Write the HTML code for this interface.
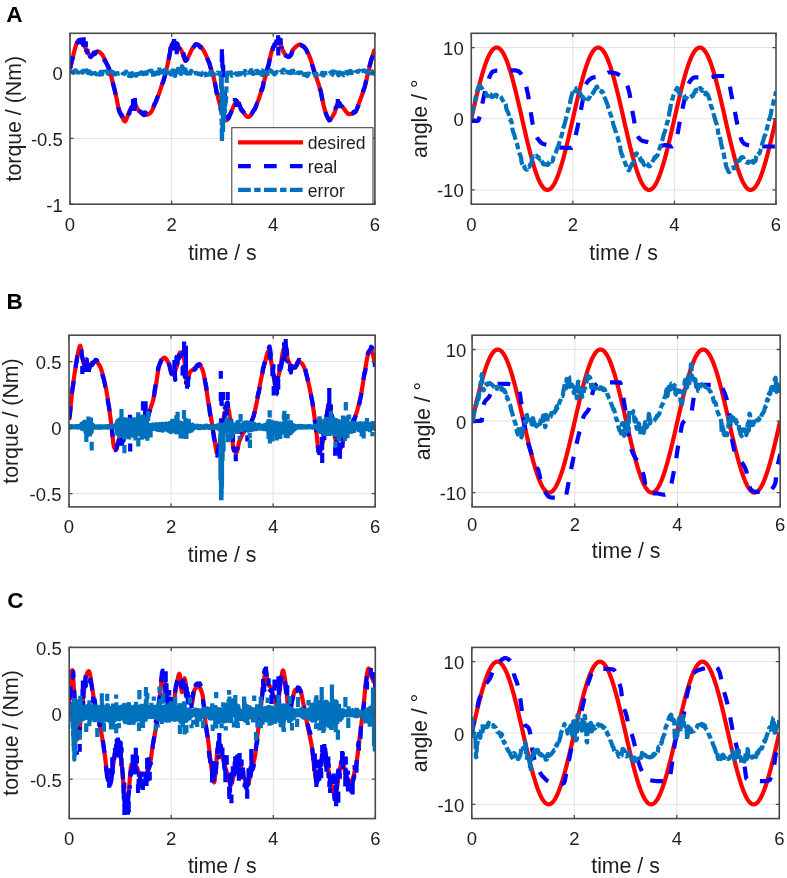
<!DOCTYPE html><html><head><meta charset="utf-8"><style>html,body{margin:0;padding:0;background:#fff;}svg{display:block;filter:blur(0.45px);}text{font-family:"Liberation Sans",sans-serif;fill:#1e1e1e;}</style></head><body>
<svg width="787" height="878" viewBox="0 0 787 878">
<rect width="787" height="878" fill="#fff"/>
<defs>
<clipPath id="cAl"><rect x="70.00" y="33.30" width="304.90" height="170.90"/></clipPath>
<clipPath id="cAr"><rect x="471.30" y="33.30" width="304.70" height="170.90"/></clipPath>
<clipPath id="cBl"><rect x="69.00" y="335.20" width="306.20" height="171.70"/></clipPath>
<clipPath id="cBr"><rect x="472.10" y="335.20" width="308.10" height="171.70"/></clipPath>
<clipPath id="cCl"><rect x="69.20" y="647.40" width="306.10" height="171.20"/></clipPath>
<clipPath id="cCr"><rect x="471.80" y="647.40" width="307.50" height="171.20"/></clipPath>
</defs>
<g stroke="#e2e2e2" stroke-width="1"><line x1="171.63" y1="33.30" x2="171.63" y2="204.20"/><line x1="273.27" y1="33.30" x2="273.27" y2="204.20"/><line x1="70.00" y1="138.47" x2="374.90" y2="138.47"/><line x1="70.00" y1="72.74" x2="374.90" y2="72.74"/></g>
<g clip-path="url(#cAl)" fill="none" stroke-width="4.2" stroke-linejoin="round">
<path d="M70.00,68.79 L70.51,66.73 L71.02,64.68 L71.52,62.63 L72.03,60.58 L72.54,58.54 L73.05,56.46 L73.56,54.35 L74.07,52.26 L74.57,50.26 L75.08,48.42 L75.59,46.62 L76.10,44.85 L76.61,43.32 L77.11,42.24 L77.62,41.47 L78.13,40.80 L78.64,40.32 L79.15,40.14 L79.66,40.26 L80.16,40.60 L80.67,41.10 L81.18,41.70 L81.69,42.35 L82.20,42.99 L82.70,43.59 L83.21,44.21 L83.72,44.89 L84.23,45.63 L84.74,46.45 L85.25,47.44 L85.75,48.63 L86.26,49.88 L86.77,51.08 L87.28,52.10 L87.79,52.85 L88.29,53.56 L88.80,54.26 L89.31,54.88 L89.82,55.41 L90.33,55.80 L90.83,56.01 L91.34,56.01 L91.85,55.74 L92.36,55.27 L92.87,54.67 L93.38,54.03 L93.88,53.40 L94.39,52.86 L94.90,52.49 L95.41,52.23 L95.92,51.97 L96.42,51.74 L96.93,51.56 L97.44,51.46 L97.95,51.45 L98.46,51.56 L98.97,51.78 L99.47,52.09 L99.98,52.47 L100.49,52.92 L101.00,53.41 L101.51,53.93 L102.01,54.47 L102.52,55.12 L103.03,55.98 L103.54,57.00 L104.05,58.12 L104.56,59.31 L105.06,60.51 L105.57,61.67 L106.08,62.75 L106.59,63.72 L107.10,64.63 L107.60,65.54 L108.11,66.50 L108.62,67.57 L109.13,68.79 L109.64,70.33 L110.15,72.18 L110.65,74.17 L111.16,76.16 L111.67,78.11 L112.18,80.12 L112.69,82.16 L113.19,84.22 L113.70,86.28 L114.21,88.31 L114.72,90.33 L115.23,92.38 L115.73,94.47 L116.24,96.66 L116.75,99.12 L117.26,101.82 L117.77,104.52 L118.28,106.96 L118.78,108.89 L119.29,110.36 L119.80,111.62 L120.31,112.73 L120.82,113.77 L121.32,114.81 L121.83,115.94 L122.34,117.18 L122.85,118.43 L123.36,119.57 L123.87,120.51 L124.37,121.14 L124.88,121.38 L125.39,121.10 L125.90,120.35 L126.41,119.25 L126.91,117.94 L127.42,116.54 L127.93,115.19 L128.44,114.02 L128.95,112.92 L129.46,111.73 L129.96,110.53 L130.47,109.38 L130.98,108.33 L131.49,107.44 L132.00,106.79 L132.50,106.27 L133.01,105.77 L133.52,105.34 L134.03,105.02 L134.54,104.84 L135.05,104.87 L135.55,105.27 L136.06,105.99 L136.57,106.91 L137.08,107.94 L137.59,108.98 L138.09,109.94 L138.60,110.71 L139.11,111.24 L139.62,111.70 L140.13,112.14 L140.64,112.54 L141.14,112.92 L141.65,113.25 L142.16,113.55 L142.67,113.81 L143.18,114.02 L143.68,114.21 L144.19,114.39 L144.70,114.55 L145.21,114.68 L145.72,114.77 L146.22,114.81 L146.73,114.77 L147.24,114.66 L147.75,114.48 L148.26,114.25 L148.77,113.98 L149.27,113.67 L149.78,113.33 L150.29,112.97 L150.80,112.48 L151.31,111.79 L151.81,110.93 L152.32,109.92 L152.83,108.80 L153.34,107.60 L153.85,106.37 L154.36,105.12 L154.86,103.89 L155.37,102.71 L155.88,101.56 L156.39,100.37 L156.90,99.14 L157.40,97.88 L157.91,96.58 L158.42,95.24 L158.93,93.86 L159.44,92.42 L159.95,90.91 L160.45,89.37 L160.96,87.82 L161.47,86.28 L161.98,84.77 L162.49,83.29 L162.99,81.80 L163.50,80.29 L164.01,78.71 L164.52,77.04 L165.03,75.24 L165.54,73.32 L166.04,71.28 L166.55,69.13 L167.06,66.91 L167.57,64.59 L168.08,62.08 L168.58,59.46 L169.09,56.88 L169.60,54.37 L170.11,51.57 L170.62,48.82 L171.13,46.57 L171.63,45.26 L172.14,44.62 L172.65,44.08 L173.16,43.66 L173.67,43.39 L174.17,43.29 L174.68,43.37 L175.19,43.57 L175.70,43.89 L176.21,44.30 L176.72,44.76 L177.22,45.27 L177.73,45.80 L178.24,46.31 L178.75,46.86 L179.26,47.48 L179.76,48.16 L180.27,48.91 L180.78,49.73 L181.29,50.60 L181.80,51.52 L182.30,52.49 L182.81,53.79 L183.32,55.49 L183.83,57.32 L184.34,58.97 L184.85,60.18 L185.35,60.64 L185.86,60.45 L186.37,59.95 L186.88,59.21 L187.39,58.34 L187.89,57.43 L188.40,56.57 L188.91,55.67 L189.42,54.64 L189.93,53.52 L190.44,52.37 L190.94,51.23 L191.45,50.15 L191.96,49.20 L192.47,48.42 L192.98,47.72 L193.48,47.02 L193.99,46.33 L194.50,45.70 L195.01,45.15 L195.52,44.72 L196.03,44.44 L196.53,44.34 L197.04,44.39 L197.55,44.53 L198.06,44.73 L198.57,45.00 L199.07,45.32 L199.58,45.68 L200.09,46.06 L200.60,46.45 L201.11,46.90 L201.62,47.48 L202.12,48.16 L202.63,48.93 L203.14,49.76 L203.65,50.65 L204.16,51.56 L204.66,52.49 L205.17,53.47 L205.68,54.54 L206.19,55.68 L206.70,56.89 L207.20,58.15 L207.71,59.46 L208.22,60.80 L208.73,62.16 L209.24,63.54 L209.75,64.95 L210.25,66.43 L210.76,67.97 L211.27,69.54 L211.78,71.14 L212.29,72.75 L212.79,74.37 L213.30,76.16 L213.81,78.24 L214.32,80.57 L214.83,83.05 L215.34,85.57 L215.84,88.04 L216.35,90.35 L216.86,92.54 L217.37,94.69 L217.88,96.78 L218.38,98.83 L218.89,100.81 L219.40,102.71 L219.91,104.60 L220.42,106.50 L220.93,108.34 L221.43,110.07 L221.94,111.63 L222.45,112.97 L222.96,114.20 L223.47,115.45 L223.97,116.66 L224.48,117.78 L224.99,118.75 L225.50,119.52 L226.01,120.02 L226.52,120.20 L227.02,119.98 L227.53,119.41 L228.04,118.54 L228.55,117.48 L229.06,116.31 L229.56,115.11 L230.07,113.97 L230.58,112.97 L231.09,111.99 L231.60,110.91 L232.11,109.76 L232.61,108.56 L233.12,107.36 L233.63,106.19 L234.14,105.07 L234.65,104.06 L235.15,103.18 L235.66,102.47 L236.17,101.97 L236.68,101.70 L237.19,101.71 L237.69,102.10 L238.20,102.80 L238.71,103.73 L239.22,104.81 L239.73,105.94 L240.24,107.06 L240.74,108.07 L241.25,108.89 L241.76,109.61 L242.27,110.37 L242.78,111.15 L243.28,111.94 L243.79,112.72 L244.30,113.47 L244.81,114.19 L245.32,114.86 L245.83,115.47 L246.33,116.00 L246.84,116.43 L247.35,116.76 L247.86,116.97 L248.37,117.04 L248.87,116.94 L249.38,116.66 L249.89,116.23 L250.40,115.67 L250.91,115.00 L251.42,114.26 L251.92,113.46 L252.43,112.63 L252.94,111.80 L253.45,110.99 L253.96,110.16 L254.46,109.24 L254.97,108.25 L255.48,107.19 L255.99,106.06 L256.50,104.87 L257.01,103.63 L257.51,102.35 L258.02,101.04 L258.53,99.69 L259.04,98.26 L259.55,96.70 L260.05,95.05 L260.56,93.33 L261.07,91.57 L261.58,89.79 L262.09,88.02 L262.60,86.28 L263.10,84.58 L263.61,82.88 L264.12,81.18 L264.63,79.46 L265.14,77.71 L265.64,75.91 L266.15,74.05 L266.66,72.11 L267.17,70.08 L267.68,67.99 L268.19,65.88 L268.69,63.77 L269.20,61.70 L269.71,59.52 L270.22,57.19 L270.73,54.86 L271.23,52.70 L271.74,50.85 L272.25,49.47 L272.76,48.44 L273.27,47.52 L273.77,46.71 L274.28,46.00 L274.79,45.37 L275.30,44.82 L275.81,44.34 L276.32,43.89 L276.82,43.44 L277.33,43.02 L277.84,42.67 L278.35,42.40 L278.86,42.26 L279.36,42.31 L279.87,42.84 L280.38,43.79 L280.89,45.04 L281.40,46.48 L281.91,47.98 L282.41,49.43 L282.92,50.71 L283.43,51.70 L283.94,52.54 L284.45,53.37 L284.95,54.15 L285.46,54.83 L285.97,55.35 L286.48,55.65 L286.99,55.82 L287.50,55.96 L288.00,56.07 L288.51,56.15 L289.02,56.17 L289.53,55.98 L290.04,55.43 L290.54,54.63 L291.05,53.65 L291.56,52.57 L292.07,51.48 L292.58,50.46 L293.09,49.58 L293.59,48.94 L294.10,48.45 L294.61,47.95 L295.12,47.46 L295.63,46.98 L296.13,46.53 L296.64,46.10 L297.15,45.71 L297.66,45.37 L298.17,45.09 L298.67,44.86 L299.18,44.70 L299.69,44.62 L300.20,44.62 L300.71,44.71 L301.22,44.89 L301.72,45.15 L302.23,45.46 L302.74,45.83 L303.25,46.24 L303.76,46.69 L304.26,47.15 L304.77,47.63 L305.28,48.18 L305.79,48.86 L306.30,49.66 L306.81,50.57 L307.31,51.56 L307.82,52.63 L308.33,53.76 L308.84,54.94 L309.35,56.14 L309.85,57.36 L310.36,58.67 L310.87,60.15 L311.38,61.75 L311.89,63.41 L312.40,65.11 L312.90,66.79 L313.41,68.40 L313.92,69.96 L314.43,71.51 L314.94,73.06 L315.44,74.61 L315.95,76.16 L316.46,77.73 L316.97,79.31 L317.48,80.87 L317.99,82.40 L318.49,83.91 L319.00,85.46 L319.51,87.06 L320.02,88.75 L320.53,90.57 L321.03,92.58 L321.54,94.95 L322.05,97.57 L322.56,100.26 L323.07,102.87 L323.58,105.23 L324.08,107.23 L324.59,109.13 L325.10,110.93 L325.61,112.61 L326.12,114.12 L326.62,115.42 L327.13,116.54 L327.64,117.66 L328.15,118.66 L328.66,119.39 L329.17,119.67 L329.67,119.58 L330.18,119.31 L330.69,118.89 L331.20,118.34 L331.71,117.67 L332.21,116.93 L332.72,116.11 L333.23,115.25 L333.74,114.37 L334.25,113.49 L334.75,112.31 L335.26,110.67 L335.77,108.81 L336.28,106.95 L336.79,105.33 L337.30,104.20 L337.80,103.76 L338.31,103.83 L338.82,104.01 L339.33,104.28 L339.84,104.64 L340.34,105.05 L340.85,105.51 L341.36,106.00 L341.87,106.50 L342.38,106.98 L342.89,107.44 L343.39,107.95 L343.90,108.55 L344.41,109.24 L344.92,109.97 L345.43,110.72 L345.93,111.46 L346.44,112.16 L346.95,112.80 L347.46,113.35 L347.97,113.77 L348.48,114.05 L348.98,114.15 L349.49,114.13 L350.00,114.09 L350.51,114.02 L351.02,113.92 L351.52,113.80 L352.03,113.65 L352.54,113.48 L353.05,113.29 L353.56,113.07 L354.07,112.84 L354.57,112.58 L355.08,112.31 L355.59,111.84 L356.10,111.03 L356.61,109.96 L357.11,108.67 L357.62,107.23 L358.13,105.71 L358.64,104.17 L359.15,102.67 L359.65,101.27 L360.16,99.94 L360.67,98.60 L361.18,97.25 L361.69,95.88 L362.20,94.48 L362.70,93.04 L363.21,91.55 L363.72,89.99 L364.23,88.37 L364.74,86.67 L365.24,84.83 L365.75,82.80 L366.26,80.66 L366.77,78.45 L367.28,76.22 L367.79,74.04 L368.29,71.95 L368.80,69.92 L369.31,67.88 L369.82,65.85 L370.33,63.86 L370.83,61.91 L371.34,60.02 L371.85,58.22 L372.36,56.51 L372.87,54.87 L373.38,53.30 L373.88,51.78 L374.39,50.33 L374.90,48.94" stroke="#ff0000"/>
<path d="M70.00,68.79 L70.51,66.73 L71.02,64.68 L71.52,62.31 L72.03,60.27 L72.54,58.23 L73.05,56.75 L73.56,54.64 L74.07,52.55 L74.57,51.20 L75.08,49.35 L75.59,47.56 L76.10,45.33 L76.61,43.80 L77.11,42.72 L77.62,42.51 L78.13,41.84 L78.64,41.36 L79.15,40.07 L79.66,40.20 L80.16,40.54 L80.67,39.69 L81.18,40.29 L81.69,40.94 L82.20,43.51 L82.70,44.10 L83.21,44.73 L83.72,45.54 L84.23,46.29 L84.74,47.10 L85.25,46.92 L85.75,48.11 L86.26,49.37 L86.77,50.71 L87.28,51.72 L87.79,52.47 L88.29,53.45 L88.80,54.15 L89.31,54.77 L89.82,56.39 L90.33,56.78 L90.83,56.99 L91.34,56.04 L91.85,55.77 L92.36,55.30 L92.87,53.94 L93.38,53.30 L93.88,52.67 L94.39,54.28 L94.90,53.91 L95.41,53.64 L95.92,52.45 L96.42,52.22 L96.93,52.05 L97.44,53.46 L97.95,53.45 L98.46,53.56 L98.97,53.13 L99.47,53.44 L99.98,53.83 L100.49,54.86 L101.00,55.35 L101.51,55.87 L102.01,54.71 L102.52,55.37 L103.03,56.23 L103.54,58.33 L104.05,59.45 L104.56,60.64 L105.06,60.22 L105.57,61.38 L106.08,62.46 L106.59,63.55 L107.10,64.47 L107.60,65.38 L108.11,66.70 L108.62,67.76 L109.13,68.99 L109.64,72.98 L110.15,74.82 L110.65,76.82 L111.16,76.72 L111.67,78.68 L112.18,80.69 L112.69,82.21 L113.19,84.27 L113.70,86.33 L114.21,88.19 L114.72,90.21 L115.23,92.26 L115.73,96.08 L116.24,98.27 L116.75,100.73 L117.26,102.32 L117.77,105.02 L118.28,107.46 L118.78,109.92 L119.29,111.39 L119.80,112.64 L120.31,113.58 L120.82,114.62 L121.32,115.66 L121.83,114.83 L122.34,116.07 L122.85,117.31 L123.36,120.42 L123.87,121.36 L124.37,121.99 L124.88,121.41 L125.39,121.13 L125.90,120.38 L126.41,118.32 L126.91,117.01 L127.42,115.61 L127.93,115.80 L128.44,114.63 L128.95,113.53 L129.46,111.85 L129.96,110.65 L130.47,109.50 L130.98,108.21 L131.49,107.33 L132.00,106.67 L132.50,106.20 L133.01,105.70 L133.52,105.28 L134.03,106.31 L134.54,106.13 L135.05,106.16 L135.55,105.19 L136.06,105.91 L136.57,106.83 L137.08,106.51 L137.59,107.55 L138.09,108.51 L138.60,112.34 L139.11,112.86 L139.62,113.33 L140.13,111.23 L140.64,111.64 L141.14,112.01 L141.65,113.13 L142.16,113.43 L142.67,113.68 L143.18,114.69 L143.68,114.88 L144.19,115.06 L144.70,112.45 L145.21,112.58 L145.72,112.67 L146.22,114.00 L146.73,113.97 L147.24,113.85 L147.75,115.74 L148.26,115.51 L148.77,115.24 L149.27,113.59 L149.78,113.25 L150.29,112.89 L150.80,111.88 L151.31,111.19 L151.81,110.32 L152.32,110.12 L152.83,109.00 L153.34,107.80 L153.85,105.65 L154.36,104.40 L154.86,103.17 L155.37,102.78 L155.88,101.63 L156.39,100.44 L156.90,98.44 L157.40,97.18 L157.91,95.88 L158.42,93.73 L158.93,92.35 L159.44,90.90 L159.95,91.62 L160.45,90.08 L160.96,88.53 L161.47,86.07 L161.98,84.56 L162.49,83.08 L162.99,82.29 L163.50,80.77 L164.01,79.19 L164.52,76.90 L165.03,75.11 L165.54,73.18 L166.04,72.52 L166.55,70.38 L167.06,68.31 L167.57,65.35 L168.08,62.91 L168.58,60.38 L169.09,57.22 L169.60,54.73 L170.11,51.96 L170.62,46.93 L171.13,44.56 L171.63,43.14 L172.14,41.91 L172.65,41.37 L173.16,40.95 L173.67,46.52 L174.17,46.42 L174.68,46.50 L175.19,45.45 L175.70,45.77 L176.21,46.18 L176.72,43.23 L177.22,43.74 L177.73,44.27 L178.24,51.03 L178.75,51.57 L179.26,52.19 L179.76,49.26 L180.27,50.01 L180.78,50.82 L181.29,50.83 L181.80,51.75 L182.30,52.71 L182.81,51.15 L183.32,53.01 L183.83,55.00 L184.34,57.80 L184.85,59.09 L185.35,59.65 L185.86,60.88 L186.37,60.33 L186.88,59.56 L187.39,58.73 L187.89,57.82 L188.40,56.96 L188.91,55.94 L189.42,54.90 L189.93,53.78 L190.44,50.76 L190.94,49.62 L191.45,48.55 L191.96,49.65 L192.47,48.87 L192.98,48.17 L193.48,47.34 L193.99,46.65 L194.50,46.02 L195.01,44.78 L195.52,44.35 L196.03,44.07 L196.53,44.47 L197.04,44.52 L197.55,44.65 L198.06,44.94 L198.57,45.21 L199.07,45.53 L199.58,46.85 L200.09,47.23 L200.60,47.62 L201.11,46.91 L201.62,47.49 L202.12,48.17 L202.63,49.40 L203.14,50.23 L203.65,51.11 L204.16,50.34 L204.66,51.27 L205.17,52.25 L205.68,53.85 L206.19,55.00 L206.70,56.20 L207.20,58.18 L207.71,59.49 L208.22,60.83 L208.73,61.46 L209.24,62.83 L209.75,64.25 L210.25,66.79 L210.76,68.32 L211.27,69.90 L211.78,70.04 L212.29,71.64 L212.79,73.26 L213.30,76.16 L213.81,78.24 L214.32,80.57 L214.83,82.43 L215.34,84.96 L215.84,87.43 L216.35,91.71 L216.86,93.90 L217.37,96.04 L217.88,96.42 L218.38,98.46 L218.89,100.44 L219.40,104.49 L219.91,106.38 L220.42,108.27 L220.93,110.48 L221.43,89.21 L221.94,45.41 L222.45,67.27 L222.96,59.30 L223.47,76.33 L223.97,84.74 L224.48,90.46 L224.99,96.04 L225.50,100.94 L226.01,106.70 L226.52,110.82 L227.02,112.37 L227.53,117.04 L228.04,116.18 L228.55,118.36 L229.06,117.19 L229.56,115.99 L230.07,114.62 L230.58,113.62 L231.09,112.65 L231.60,110.70 L232.11,109.54 L232.61,108.35 L233.12,106.84 L233.63,105.67 L234.14,104.56 L234.65,104.25 L235.15,103.37 L235.66,102.66 L236.17,102.18 L236.68,101.91 L237.19,101.93 L237.69,101.36 L238.20,102.07 L238.71,102.99 L239.22,104.26 L239.73,105.40 L240.24,106.51 L240.74,109.15 L241.25,109.98 L241.76,110.70 L242.27,110.46 L242.78,111.24 L243.28,112.02 L243.79,112.68 L244.30,113.44 L244.81,114.16 L245.32,115.97 L245.83,116.58 L246.33,117.11 L246.84,116.16 L247.35,116.49 L247.86,116.70 L248.37,117.94 L248.87,117.84 L249.38,117.57 L249.89,115.21 L250.40,114.65 L250.91,113.98 L251.42,114.05 L251.92,113.26 L252.43,112.43 L252.94,111.71 L253.45,110.90 L253.96,110.07 L254.46,109.87 L254.97,108.87 L255.48,107.81 L255.99,106.18 L256.50,104.99 L257.01,103.76 L257.51,104.45 L258.02,103.14 L258.53,101.79 L259.04,99.45 L259.55,97.89 L260.05,96.24 L260.56,92.95 L261.07,91.19 L261.58,89.41 L262.09,90.26 L262.60,88.52 L263.10,86.81 L263.61,81.99 L264.12,80.29 L264.63,78.57 L265.14,79.55 L265.64,77.75 L266.15,75.89 L266.66,71.31 L267.17,69.28 L267.68,67.19 L268.19,66.77 L268.69,64.66 L269.20,62.58 L269.71,58.70 L270.22,56.37 L270.73,54.05 L271.23,52.56 L271.74,50.71 L272.25,49.33 L272.76,50.06 L273.27,49.14 L273.77,48.33 L274.28,44.68 L274.79,44.06 L275.30,43.51 L275.81,42.83 L276.32,42.37 L276.82,41.92 L277.33,43.09 L277.84,42.74 L278.35,42.47 L278.86,42.55 L279.36,42.60 L279.87,43.13 L280.38,43.96 L280.89,45.21 L281.40,46.64 L281.91,49.00 L282.41,50.45 L282.92,51.73 L283.43,50.55 L283.94,51.38 L284.45,52.22 L284.95,54.73 L285.46,55.40 L285.97,55.92 L286.48,55.70 L286.99,55.87 L287.50,56.02 L288.00,56.91 L288.51,56.98 L289.02,57.01 L289.53,56.63 L290.04,56.09 L290.54,55.29 L291.05,54.99 L291.56,53.91 L292.07,52.82 L292.58,49.13 L293.09,48.26 L293.59,47.62 L294.10,48.61 L294.61,48.11 L295.12,47.62 L295.63,45.96 L296.13,45.51 L296.64,45.09 L297.15,45.70 L297.66,45.36 L298.17,45.07 L298.67,45.59 L299.18,45.43 L299.69,45.35 L300.20,44.96 L300.71,45.06 L301.22,45.24 L301.72,45.73 L302.23,46.05 L302.74,46.42 L303.25,46.24 L303.76,46.68 L304.26,47.15 L304.77,48.02 L305.28,48.57 L305.79,49.26 L306.30,49.98 L306.81,50.89 L307.31,51.88 L307.82,54.08 L308.33,55.21 L308.84,56.39 L309.35,56.99 L309.85,58.21 L310.36,59.52 L310.87,58.41 L311.38,60.01 L311.89,61.68 L312.40,65.81 L312.90,67.49 L313.41,69.11 L313.92,71.07 L314.43,72.62 L314.94,74.17 L315.44,74.25 L315.95,75.81 L316.46,77.37 L316.97,77.83 L317.48,79.39 L317.99,80.92 L318.49,85.44 L319.00,86.99 L319.51,88.59 L320.02,88.97 L320.53,90.79 L321.03,92.80 L321.54,95.62 L322.05,98.23 L322.56,100.93 L323.07,104.72 L323.58,107.08 L324.08,109.08 L324.59,108.35 L325.10,110.16 L325.61,111.83 L326.12,114.14 L326.62,115.45 L327.13,116.56 L327.64,117.58 L328.15,118.59 L328.66,119.32 L329.17,120.46 L329.67,120.37 L330.18,120.10 L330.69,118.41 L331.20,117.86 L331.71,117.20 L332.21,117.49 L332.72,116.68 L333.23,115.82 L333.74,114.52 L334.25,113.64 L334.75,112.46 L335.26,111.84 L335.77,109.97 L336.28,108.11 L336.79,106.61 L337.30,105.47 L337.80,105.04 L338.31,102.42 L338.82,102.60 L339.33,102.88 L339.84,105.17 L340.34,105.59 L340.85,106.05 L341.36,105.69 L341.87,106.19 L342.38,106.68 L342.89,107.48 L343.39,107.98 L343.90,108.59 L344.41,109.70 L344.92,110.43 L345.43,111.18 L345.93,111.99 L346.44,112.70 L346.95,113.34 L347.46,112.69 L347.97,113.11 L348.48,113.39 L348.98,114.47 L349.49,114.45 L350.00,114.41 L350.51,114.18 L351.02,114.08 L351.52,113.96 L352.03,113.63 L352.54,113.46 L353.05,113.27 L353.56,111.84 L354.07,111.60 L354.57,111.35 L355.08,111.59 L355.59,111.12 L356.10,110.32 L356.61,109.55 L357.11,108.27 L357.62,106.83 L358.13,106.31 L358.64,104.76 L359.15,103.26 L359.65,102.72 L360.16,101.39 L360.67,100.06 L361.18,96.26 L361.69,94.89 L362.20,93.48 L362.70,92.02 L363.21,90.53 L363.72,88.98 L364.23,88.52 L364.74,86.82 L365.24,84.97 L365.75,82.23 L366.26,80.09 L366.77,77.88 L367.28,75.40 L367.79,73.22 L368.29,71.13 L368.80,69.04 L369.31,67.01 L369.82,64.98 L370.33,62.89 L370.83,60.94 L371.34,59.05 L371.85,58.70 L372.36,56.99 L372.87,55.35 L373.38,51.70 L373.88,50.19 L374.39,48.74 L374.90,50.25" stroke="#0000ff" stroke-dasharray="12.7 13.2"/>
<path d="M83.5,46.8V41.3M78.0,44.3V41.3M85.8,47.1V41.2M87.4,54.3V48.8M86.3,50.0V52.0M134.3,105.0V110.9M134.9,104.0V98.0M134.6,106.8V108.9M129.4,113.1V114.6M135.2,106.9V102.2M183.6,57.0V55.3M175.8,41.7V47.0M174.1,43.3V39.0M176.9,49.3V52.2M179.6,49.3V47.6M172.0,48.7V43.3M175.8,50.4V48.4M172.5,45.3V47.3M234.9,101.4V98.1M239.0,106.8V101.7M237.3,102.1V103.9M281.5,48.8V46.6M279.8,43.3V37.7M276.4,44.2V39.5M273.0,45.7V50.8M278.1,41.9V35.3M280.7,44.6V38.4M339.1,104.1V107.4M335.7,106.3V109.8M340.0,103.7V102.2M83.7,37.2V41.2M133.0,99.0V108.2M173.2,41.2V50.4M176.7,43.8V54.3M236.2,99.0V106.9M278.3,46.4V55.6M337.8,99.0V108.2" stroke="#0000ff" stroke-linejoin="miter"/>
<path d="M70.00,71.09 L70.51,71.05 L71.02,71.54 L71.52,71.51 L72.03,71.97 L72.54,71.94 L73.05,72.82 L73.56,72.79 L74.07,71.54 L74.57,71.52 L75.08,70.40 L75.59,70.39 L76.10,71.88 L76.61,71.88 L77.11,71.68 L77.62,71.69 L78.13,71.69 L78.64,71.70 L79.15,71.33 L79.66,71.35 L80.16,73.39 L80.67,73.42 L81.18,71.84 L81.69,71.88 L82.20,72.65 L82.70,72.70 L83.21,70.69 L83.72,70.74 L84.23,72.75 L84.74,72.80 L85.25,71.27 L85.75,71.33 L86.26,70.27 L86.77,70.33 L87.28,72.57 L87.79,72.63 L88.29,73.04 L88.80,73.10 L89.31,72.23 L89.82,72.29 L90.33,72.59 L90.83,72.65 L91.34,73.88 L91.85,73.94 L92.36,72.28 L92.87,72.34 L93.38,70.55 L93.88,70.60 L94.39,73.34 L94.90,73.39 L95.41,73.36 L95.92,73.40 L96.42,74.43 L96.93,74.47 L97.44,72.88 L97.95,72.91 L98.46,74.79 L98.97,74.81 L99.47,74.66 L99.98,74.67 L100.49,71.86 L101.00,71.87 L101.51,74.46 L102.01,74.46 L102.52,72.11 L103.03,72.11 L103.54,71.58 L104.05,71.58 L104.56,73.07 L105.06,73.06 L105.57,72.70 L106.08,72.69 L106.59,71.03 L107.10,71.02 L107.60,73.55 L108.11,73.54 L108.62,74.00 L109.13,74.00 L109.64,74.89 L110.15,74.89 L110.65,73.23 L111.16,73.23 L111.67,71.53 L112.18,71.53 L112.69,72.15 L113.19,72.16 L113.70,74.41 L114.21,74.42 L114.72,74.33 L115.23,74.35 L115.73,73.95 L116.24,73.97 L116.75,73.05 L117.26,73.07 L117.77,73.69 L118.28,73.71 L118.78,73.24 L119.29,73.27 L119.80,73.21 L120.31,73.24 L120.82,73.97 L121.32,74.00 L121.83,73.73 L122.34,73.76 L122.85,73.50 L123.36,73.53 L123.87,73.91 L124.37,73.93 L124.88,73.27 L125.39,73.29 L125.90,71.70 L126.41,71.72 L126.91,73.25 L127.42,73.26 L127.93,73.91 L128.44,73.92 L128.95,75.98 L129.46,75.99 L129.96,73.53 L130.47,73.52 L130.98,76.28 L131.49,76.26 L132.00,75.61 L132.50,75.59 L133.01,72.88 L133.52,72.86 L134.03,73.00 L134.54,72.96 L135.05,73.93 L135.55,73.89 L136.06,75.69 L136.57,75.64 L137.08,74.00 L137.59,73.94 L138.09,74.25 L138.60,74.19 L139.11,72.57 L139.62,72.51 L140.13,70.52 L140.64,70.46 L141.14,72.81 L141.65,72.74 L142.16,73.85 L142.67,73.79 L143.18,74.18 L143.68,74.12 L144.19,72.73 L144.70,72.67 L145.21,72.75 L145.72,72.70 L146.22,73.79 L146.73,73.74 L147.24,72.19 L147.75,72.14 L148.26,73.59 L148.77,73.55 L149.27,70.83 L149.78,70.80 L150.29,70.83 L150.80,70.80 L151.31,70.75 L151.81,70.72 L152.32,72.55 L152.83,72.53 L153.34,71.35 L153.85,71.34 L154.36,72.10 L154.86,72.10 L155.37,72.40 L155.88,72.41 L156.39,72.35 L156.90,72.36 L157.40,73.50 L157.91,73.51 L158.42,73.69 L158.93,73.70 L159.44,71.07 L159.95,71.08 L160.45,72.26 L160.96,72.27 L161.47,71.80 L161.98,71.81 L162.49,70.90 L162.99,70.91 L163.50,74.15 L164.01,74.16 L164.52,73.04 L165.03,73.05 L165.54,71.92 L166.04,71.92 L166.55,71.66 L167.06,71.62 L167.57,72.63 L168.08,72.66 L168.58,70.50 L169.09,70.39 L169.60,71.71 L170.11,71.67 L170.62,74.37 L171.13,74.46 L171.63,73.95 L172.14,73.93 L172.65,70.25 L173.16,70.23 L173.67,70.92 L174.17,70.90 L174.68,75.84 L175.19,75.81 L175.70,68.96 L176.21,68.93 L176.72,70.48 L177.22,70.46 L177.73,68.86 L178.24,68.84 L178.75,72.46 L179.26,72.44 L179.76,72.24 L180.27,72.22 L180.78,73.96 L181.29,73.95 L181.80,66.24 L182.30,66.48 L182.81,71.92 L183.32,71.91 L183.83,68.84 L184.34,69.00 L184.85,72.63 L185.35,72.59 L185.86,71.45 L186.37,71.49 L186.88,73.71 L187.39,73.75 L187.89,72.27 L188.40,72.31 L188.91,70.74 L189.42,70.79 L189.93,73.49 L190.44,73.54 L190.94,70.85 L191.45,70.91 L191.96,71.84 L192.47,71.91 L192.98,73.61 L193.48,73.67 L193.99,73.10 L194.50,73.17 L195.01,73.19 L195.52,73.25 L196.03,72.84 L196.53,72.90 L197.04,73.54 L197.55,73.61 L198.06,74.02 L198.57,74.08 L199.07,73.52 L199.58,73.57 L200.09,74.48 L200.60,74.53 L201.11,74.89 L201.62,74.93 L202.12,73.50 L202.63,73.54 L203.14,72.48 L203.65,72.51 L204.16,75.39 L204.66,75.41 L205.17,73.62 L205.68,73.63 L206.19,74.42 L206.70,74.43 L207.20,74.82 L207.71,74.82 L208.22,72.66 L208.73,72.66 L209.24,74.27 L209.75,74.27 L210.25,71.87 L210.76,71.86 L211.27,74.54 L211.78,74.53 L212.29,73.13 L212.79,73.12 L213.30,73.82 L213.81,73.81 L214.32,74.41 L214.83,74.40 L215.34,72.79 L215.84,72.78 L216.35,73.64 L216.86,73.63 L217.37,72.72 L217.88,72.71 L218.38,73.47 L218.89,73.46 L219.40,74.68 L219.91,74.68 L220.42,73.51 L220.93,72.74 L221.43,110.14 L221.94,142.14 L222.45,124.97 L222.96,128.97 L223.47,115.56 L223.97,121.31 L224.48,107.21 L224.99,111.64 L225.50,98.78 L226.01,99.79 L226.52,85.09 L227.02,73.84 L227.53,72.74 L228.04,74.87 L228.55,75.75 L229.06,75.77 L229.56,73.72 L230.07,73.75 L230.58,72.39 L231.09,72.41 L231.60,75.54 L232.11,75.55 L232.61,75.05 L233.12,75.06 L233.63,74.66 L234.14,74.67 L234.65,75.13 L235.15,75.13 L235.66,73.34 L236.17,73.33 L236.68,74.73 L237.19,74.71 L237.69,74.59 L238.20,74.57 L238.71,73.01 L239.22,72.98 L239.73,74.53 L240.24,74.49 L240.74,73.05 L241.25,73.01 L241.76,74.62 L242.27,74.57 L242.78,74.81 L243.28,74.75 L243.79,75.43 L244.30,75.37 L244.81,70.94 L245.32,70.87 L245.83,73.39 L246.33,73.32 L246.84,72.59 L247.35,72.52 L247.86,72.78 L248.37,72.71 L248.87,72.41 L249.38,72.35 L249.89,72.41 L250.40,72.34 L250.91,70.08 L251.42,70.02 L251.92,73.45 L252.43,73.39 L252.94,73.95 L253.45,73.90 L253.96,73.20 L254.46,73.16 L254.97,73.49 L255.48,73.46 L255.99,70.96 L256.50,70.93 L257.01,70.81 L257.51,70.79 L258.02,72.87 L258.53,72.86 L259.04,73.35 L259.55,73.34 L260.05,72.11 L260.56,72.11 L261.07,70.04 L261.58,70.04 L262.09,75.03 L262.60,75.04 L263.10,71.09 L263.61,71.11 L264.12,73.02 L264.63,73.04 L265.14,70.55 L265.64,70.57 L266.15,73.10 L266.66,73.12 L267.17,72.20 L267.68,72.23 L268.19,73.69 L268.69,73.71 L269.20,73.11 L269.71,73.13 L270.22,70.35 L270.73,70.37 L271.23,71.05 L271.74,71.07 L272.25,72.53 L272.76,72.54 L273.27,73.10 L273.77,73.11 L274.28,74.32 L274.79,74.33 L275.30,72.55 L275.81,72.55 L276.32,72.12 L276.82,72.11 L277.33,72.17 L277.84,72.16 L278.35,72.16 L278.86,72.14 L279.36,73.35 L279.87,73.33 L280.38,72.07 L280.89,72.05 L281.40,72.00 L281.91,71.98 L282.41,70.39 L282.92,70.38 L283.43,69.68 L283.94,69.66 L284.45,72.02 L284.95,72.01 L285.46,72.74 L285.97,72.73 L286.48,71.89 L286.99,71.89 L287.50,72.53 L288.00,72.53 L288.51,72.69 L289.02,72.70 L289.53,71.90 L290.04,71.91 L290.54,73.09 L291.05,73.11 L291.56,71.18 L292.07,71.21 L292.58,72.08 L293.09,72.11 L293.59,71.73 L294.10,71.77 L294.61,72.33 L295.12,72.38 L295.63,73.07 L296.13,73.13 L296.64,73.44 L297.15,73.50 L297.66,72.72 L298.17,72.78 L298.67,73.22 L299.18,73.28 L299.69,72.42 L300.20,72.49 L300.71,72.84 L301.22,72.91 L301.72,74.58 L302.23,74.65 L302.74,73.03 L303.25,73.09 L303.76,74.82 L304.26,74.89 L304.77,74.09 L305.28,74.15 L305.79,73.82 L306.30,73.87 L306.81,76.03 L307.31,76.08 L307.82,73.56 L308.33,73.60 L308.84,73.56 L309.35,73.60 L309.85,73.99 L310.36,74.01 L310.87,74.35 L311.38,74.37 L311.89,74.32 L312.40,74.33 L312.90,75.05 L313.41,75.05 L313.92,74.22 L314.43,74.21 L314.94,74.54 L315.44,74.53 L315.95,73.75 L316.46,73.74 L316.97,75.25 L317.48,75.23 L317.99,73.51 L318.49,73.48 L319.00,73.57 L319.51,73.54 L320.02,73.85 L320.53,73.83 L321.03,74.15 L321.54,74.13 L322.05,72.93 L322.56,72.90 L323.07,75.50 L323.58,75.47 L324.08,72.94 L324.59,72.92 L325.10,73.15 L325.61,73.14 L326.12,73.07 L326.62,73.06 L327.13,72.93 L327.64,72.92 L328.15,74.14 L328.66,74.13 L329.17,73.66 L329.67,73.66 L330.18,72.60 L330.69,72.60 L331.20,72.85 L331.71,72.86 L332.21,73.13 L332.72,73.14 L333.23,75.19 L333.74,75.20 L334.25,72.78 L334.75,72.79 L335.26,72.06 L335.77,72.07 L336.28,72.28 L336.79,72.29 L337.30,73.22 L337.80,73.23 L338.31,75.36 L338.82,75.36 L339.33,72.41 L339.84,72.42 L340.34,73.71 L340.85,73.71 L341.36,76.53 L341.87,76.52 L342.38,73.07 L342.89,73.06 L343.39,75.25 L343.90,75.24 L344.41,74.98 L344.92,74.96 L345.43,74.15 L345.93,74.11 L346.44,71.82 L346.95,71.78 L347.46,73.68 L347.97,73.64 L348.48,72.83 L348.98,72.78 L349.49,70.98 L350.00,70.92 L350.51,71.05 L351.02,70.99 L351.52,72.93 L352.03,72.87 L352.54,72.97 L353.05,72.90 L353.56,74.04 L354.07,73.97 L354.57,73.24 L355.08,73.17 L355.59,71.78 L356.10,71.71 L356.61,71.68 L357.11,71.62 L357.62,71.90 L358.13,71.84 L358.64,70.74 L359.15,70.69 L359.65,72.73 L360.16,72.68 L360.67,71.79 L361.18,71.75 L361.69,70.78 L362.20,70.75 L362.70,70.89 L363.21,70.86 L363.72,70.27 L364.23,70.25 L364.74,71.03 L365.24,71.02 L365.75,71.85 L366.26,71.85 L366.77,71.06 L367.28,71.06 L367.79,72.69 L368.29,72.70 L368.80,73.47 L369.31,73.49 L369.82,70.88 L370.33,70.90 L370.83,71.68 L371.34,71.71 L371.85,71.31 L372.36,71.33 L372.87,73.74 L373.38,73.77 L373.88,72.23 L374.39,72.26 L374.90,72.57" stroke="#0072bd" stroke-dasharray="12.7 3.4 6.4 3.4"/>
<path d="M153.6,73.2V71.0M303.2,72.9V74.6M255.4,72.6V75.2M165.4,70.8V67.9M261.8,72.6V74.2M208.6,73.9V76.3M332.9,72.4V69.6M159.3,69.6V67.5M301.0,70.8V72.6M263.8,71.8V73.8M295.8,72.3V74.7M185.3,70.4V67.8M291.0,72.4V70.0M283.0,72.9V74.4M188.1,72.1V75.0M78.1,71.3V74.5M363.6,72.8V71.3M287.6,73.8V72.0M132.4,75.0V76.7M292.8,71.7V68.7M155.0,73.0V76.1M213.1,73.8V75.2M332.2,73.4V75.4M206.6,72.7V74.4M157.8,72.4V74.6M163.1,71.3V74.4M93.5,73.5V72.1M136.9,73.7V75.3M152.7,73.4V71.1M122.7,72.6V74.9M89.2,72.4V69.6M212.0,74.4V76.5M135.4,73.8V72.2M295.3,72.8V74.8M351.3,71.9V75.1M153.2,74.0V76.8M221.9,85.9V112.2M223.0,99.0V131.9M224.0,92.5V112.2" stroke="#0072bd" stroke-linejoin="miter"/>
</g>
<path d="M70.00,204.20v-3.50M70.00,33.30v3.50M171.63,204.20v-3.50M171.63,33.30v3.50M273.27,204.20v-3.50M273.27,33.30v3.50M374.90,204.20v-3.50M374.90,33.30v3.50M70.00,204.20h3.50M374.90,204.20h-3.50M70.00,138.47h3.50M374.90,138.47h-3.50M70.00,72.74h3.50M374.90,72.74h-3.50" stroke="#4a4a4a" stroke-width="1.3" fill="none"/>
<rect x="70.00" y="33.30" width="304.90" height="170.90" fill="none" stroke="#4a4a4a" stroke-width="1.6"/>
<text x="62.80" y="211.70" font-size="18.5" text-anchor="end">-1</text>
<text x="62.80" y="145.97" font-size="18.5" text-anchor="end">-0.5</text>
<text x="62.80" y="80.24" font-size="18.5" text-anchor="end">0</text>
<text x="70.00" y="230.60" font-size="18.5" text-anchor="middle">0</text>
<text x="171.63" y="230.60" font-size="18.5" text-anchor="middle">2</text>
<text x="273.27" y="230.60" font-size="18.5" text-anchor="middle">4</text>
<text x="374.90" y="230.60" font-size="18.5" text-anchor="middle">6</text>
<text x="222.45" y="259.50" font-size="21.3" text-anchor="middle">time / s</text>
<text transform="translate(20.60,118.75) rotate(-90)" font-size="21.3" text-anchor="middle">torque / (Nm)</text>
<g stroke="#e2e2e2" stroke-width="1"><line x1="572.87" y1="33.30" x2="572.87" y2="204.20"/><line x1="674.43" y1="33.30" x2="674.43" y2="204.20"/><line x1="471.30" y1="189.96" x2="776.00" y2="189.96"/><line x1="471.30" y1="118.75" x2="776.00" y2="118.75"/><line x1="471.30" y1="47.54" x2="776.00" y2="47.54"/></g>
<g clip-path="url(#cAr)" fill="none" stroke-width="4.2" stroke-linejoin="round">
<path d="M471.30,118.75 L471.81,116.51 L472.32,114.28 L472.82,112.05 L473.33,109.83 L473.84,107.61 L474.35,105.41 L474.85,103.22 L475.36,101.04 L475.87,98.88 L476.38,96.75 L476.89,94.63 L477.39,92.54 L477.90,90.47 L478.41,88.43 L478.92,86.42 L479.43,84.45 L479.93,82.50 L480.44,80.59 L480.95,78.72 L481.46,76.89 L481.96,75.11 L482.47,73.36 L482.98,71.66 L483.49,70.00 L484.00,68.40 L484.50,66.84 L485.01,65.34 L485.52,63.88 L486.03,62.48 L486.54,61.14 L487.04,59.85 L487.55,58.63 L488.06,57.46 L488.57,56.35 L489.07,55.30 L489.58,54.32 L490.09,53.40 L490.60,52.54 L491.11,51.75 L491.61,51.03 L492.12,50.37 L492.63,49.78 L493.14,49.26 L493.64,48.80 L494.15,48.42 L494.66,48.10 L495.17,47.86 L495.68,47.68 L496.18,47.58 L496.69,47.54 L497.20,47.58 L497.71,47.68 L498.22,47.86 L498.72,48.10 L499.23,48.42 L499.74,48.80 L500.25,49.26 L500.75,49.78 L501.26,50.37 L501.77,51.03 L502.28,51.75 L502.79,52.54 L503.29,53.40 L503.80,54.32 L504.31,55.30 L504.82,56.35 L505.32,57.46 L505.83,58.63 L506.34,59.85 L506.85,61.14 L507.36,62.48 L507.86,63.88 L508.37,65.34 L508.88,66.84 L509.39,68.40 L509.90,70.00 L510.40,71.66 L510.91,73.36 L511.42,75.11 L511.93,76.89 L512.43,78.72 L512.94,80.59 L513.45,82.50 L513.96,84.45 L514.47,86.42 L514.97,88.43 L515.48,90.47 L515.99,92.54 L516.50,94.63 L517.00,96.75 L517.51,98.88 L518.02,101.04 L518.53,103.22 L519.04,105.41 L519.54,107.61 L520.05,109.83 L520.56,112.05 L521.07,114.28 L521.58,116.51 L522.08,118.75 L522.59,120.99 L523.10,123.22 L523.61,125.45 L524.11,127.67 L524.62,129.89 L525.13,132.09 L525.64,134.28 L526.15,136.46 L526.65,138.62 L527.16,140.75 L527.67,142.87 L528.18,144.96 L528.69,147.03 L529.19,149.07 L529.70,151.08 L530.21,153.05 L530.72,155.00 L531.22,156.91 L531.73,158.78 L532.24,160.61 L532.75,162.39 L533.26,164.14 L533.76,165.84 L534.27,167.50 L534.78,169.10 L535.29,170.66 L535.79,172.16 L536.30,173.62 L536.81,175.02 L537.32,176.36 L537.83,177.65 L538.33,178.87 L538.84,180.04 L539.35,181.15 L539.86,182.20 L540.37,183.18 L540.87,184.10 L541.38,184.96 L541.89,185.75 L542.40,186.47 L542.90,187.13 L543.41,187.72 L543.92,188.24 L544.43,188.70 L544.94,189.08 L545.44,189.40 L545.95,189.64 L546.46,189.82 L546.97,189.92 L547.48,189.96 L547.98,189.92 L548.49,189.82 L549.00,189.64 L549.51,189.40 L550.01,189.08 L550.52,188.70 L551.03,188.24 L551.54,187.72 L552.05,187.13 L552.55,186.47 L553.06,185.75 L553.57,184.96 L554.08,184.10 L554.58,183.18 L555.09,182.20 L555.60,181.15 L556.11,180.04 L556.62,178.87 L557.12,177.65 L557.63,176.36 L558.14,175.02 L558.65,173.62 L559.16,172.16 L559.66,170.66 L560.17,169.10 L560.68,167.50 L561.19,165.84 L561.69,164.14 L562.20,162.39 L562.71,160.61 L563.22,158.78 L563.73,156.91 L564.23,155.00 L564.74,153.05 L565.25,151.08 L565.76,149.07 L566.26,147.03 L566.77,144.96 L567.28,142.87 L567.79,140.75 L568.30,138.62 L568.80,136.46 L569.31,134.28 L569.82,132.09 L570.33,129.89 L570.84,127.67 L571.34,125.45 L571.85,123.22 L572.36,120.99 L572.87,118.75 L573.37,116.51 L573.88,114.28 L574.39,112.05 L574.90,109.83 L575.41,107.61 L575.91,105.41 L576.42,103.22 L576.93,101.04 L577.44,98.88 L577.95,96.75 L578.45,94.63 L578.96,92.54 L579.47,90.47 L579.98,88.43 L580.48,86.42 L580.99,84.45 L581.50,82.50 L582.01,80.59 L582.52,78.72 L583.02,76.89 L583.53,75.11 L584.04,73.36 L584.55,71.66 L585.05,70.00 L585.56,68.40 L586.07,66.84 L586.58,65.34 L587.09,63.88 L587.59,62.48 L588.10,61.14 L588.61,59.85 L589.12,58.63 L589.63,57.46 L590.13,56.35 L590.64,55.30 L591.15,54.32 L591.66,53.40 L592.16,52.54 L592.67,51.75 L593.18,51.03 L593.69,50.37 L594.20,49.78 L594.70,49.26 L595.21,48.80 L595.72,48.42 L596.23,48.10 L596.73,47.86 L597.24,47.68 L597.75,47.58 L598.26,47.54 L598.77,47.58 L599.27,47.68 L599.78,47.86 L600.29,48.10 L600.80,48.42 L601.31,48.80 L601.81,49.26 L602.32,49.78 L602.83,50.37 L603.34,51.03 L603.84,51.75 L604.35,52.54 L604.86,53.40 L605.37,54.32 L605.88,55.30 L606.38,56.35 L606.89,57.46 L607.40,58.63 L607.91,59.85 L608.41,61.14 L608.92,62.48 L609.43,63.88 L609.94,65.34 L610.45,66.84 L610.95,68.40 L611.46,70.00 L611.97,71.66 L612.48,73.36 L612.99,75.11 L613.49,76.89 L614.00,78.72 L614.51,80.59 L615.02,82.50 L615.52,84.45 L616.03,86.42 L616.54,88.43 L617.05,90.47 L617.56,92.54 L618.06,94.63 L618.57,96.75 L619.08,98.88 L619.59,101.04 L620.10,103.22 L620.60,105.41 L621.11,107.61 L621.62,109.83 L622.13,112.05 L622.63,114.28 L623.14,116.51 L623.65,118.75 L624.16,120.99 L624.67,123.22 L625.17,125.45 L625.68,127.67 L626.19,129.89 L626.70,132.09 L627.20,134.28 L627.71,136.46 L628.22,138.62 L628.73,140.75 L629.24,142.87 L629.74,144.96 L630.25,147.03 L630.76,149.07 L631.27,151.08 L631.78,153.05 L632.28,155.00 L632.79,156.91 L633.30,158.78 L633.81,160.61 L634.31,162.39 L634.82,164.14 L635.33,165.84 L635.84,167.50 L636.35,169.10 L636.85,170.66 L637.36,172.16 L637.87,173.62 L638.38,175.02 L638.88,176.36 L639.39,177.65 L639.90,178.87 L640.41,180.04 L640.92,181.15 L641.42,182.20 L641.93,183.18 L642.44,184.10 L642.95,184.96 L643.46,185.75 L643.96,186.47 L644.47,187.13 L644.98,187.72 L645.49,188.24 L645.99,188.70 L646.50,189.08 L647.01,189.40 L647.52,189.64 L648.03,189.82 L648.53,189.92 L649.04,189.96 L649.55,189.92 L650.06,189.82 L650.57,189.64 L651.07,189.40 L651.58,189.08 L652.09,188.70 L652.60,188.24 L653.10,187.72 L653.61,187.13 L654.12,186.47 L654.63,185.75 L655.14,184.96 L655.64,184.10 L656.15,183.18 L656.66,182.20 L657.17,181.15 L657.67,180.04 L658.18,178.87 L658.69,177.65 L659.20,176.36 L659.71,175.02 L660.21,173.62 L660.72,172.16 L661.23,170.66 L661.74,169.10 L662.25,167.50 L662.75,165.84 L663.26,164.14 L663.77,162.39 L664.28,160.61 L664.78,158.78 L665.29,156.91 L665.80,155.00 L666.31,153.05 L666.82,151.08 L667.32,149.07 L667.83,147.03 L668.34,144.96 L668.85,142.87 L669.36,140.75 L669.86,138.62 L670.37,136.46 L670.88,134.28 L671.39,132.09 L671.89,129.89 L672.40,127.67 L672.91,125.45 L673.42,123.22 L673.93,120.99 L674.43,118.75 L674.94,116.51 L675.45,114.28 L675.96,112.05 L676.46,109.83 L676.97,107.61 L677.48,105.41 L677.99,103.22 L678.50,101.04 L679.00,98.88 L679.51,96.75 L680.02,94.63 L680.53,92.54 L681.04,90.47 L681.54,88.43 L682.05,86.42 L682.56,84.45 L683.07,82.50 L683.57,80.59 L684.08,78.72 L684.59,76.89 L685.10,75.11 L685.61,73.36 L686.11,71.66 L686.62,70.00 L687.13,68.40 L687.64,66.84 L688.14,65.34 L688.65,63.88 L689.16,62.48 L689.67,61.14 L690.18,59.85 L690.68,58.63 L691.19,57.46 L691.70,56.35 L692.21,55.30 L692.72,54.32 L693.22,53.40 L693.73,52.54 L694.24,51.75 L694.75,51.03 L695.25,50.37 L695.76,49.78 L696.27,49.26 L696.78,48.80 L697.29,48.42 L697.79,48.10 L698.30,47.86 L698.81,47.68 L699.32,47.58 L699.83,47.54 L700.33,47.58 L700.84,47.68 L701.35,47.86 L701.86,48.10 L702.36,48.42 L702.87,48.80 L703.38,49.26 L703.89,49.78 L704.40,50.37 L704.90,51.03 L705.41,51.75 L705.92,52.54 L706.43,53.40 L706.93,54.32 L707.44,55.30 L707.95,56.35 L708.46,57.46 L708.97,58.63 L709.47,59.85 L709.98,61.14 L710.49,62.48 L711.00,63.88 L711.51,65.34 L712.01,66.84 L712.52,68.40 L713.03,70.00 L713.54,71.66 L714.04,73.36 L714.55,75.11 L715.06,76.89 L715.57,78.72 L716.08,80.59 L716.58,82.50 L717.09,84.45 L717.60,86.42 L718.11,88.43 L718.61,90.47 L719.12,92.54 L719.63,94.63 L720.14,96.75 L720.65,98.88 L721.15,101.04 L721.66,103.22 L722.17,105.41 L722.68,107.61 L723.19,109.83 L723.69,112.05 L724.20,114.28 L724.71,116.51 L725.22,118.75 L725.72,120.99 L726.23,123.22 L726.74,125.45 L727.25,127.67 L727.76,129.89 L728.26,132.09 L728.77,134.28 L729.28,136.46 L729.79,138.62 L730.30,140.75 L730.80,142.87 L731.31,144.96 L731.82,147.03 L732.33,149.07 L732.83,151.08 L733.34,153.05 L733.85,155.00 L734.36,156.91 L734.87,158.78 L735.37,160.61 L735.88,162.39 L736.39,164.14 L736.90,165.84 L737.40,167.50 L737.91,169.10 L738.42,170.66 L738.93,172.16 L739.44,173.62 L739.94,175.02 L740.45,176.36 L740.96,177.65 L741.47,178.87 L741.98,180.04 L742.48,181.15 L742.99,182.20 L743.50,183.18 L744.01,184.10 L744.51,184.96 L745.02,185.75 L745.53,186.47 L746.04,187.13 L746.55,187.72 L747.05,188.24 L747.56,188.70 L748.07,189.08 L748.58,189.40 L749.08,189.64 L749.59,189.82 L750.10,189.92 L750.61,189.96 L751.12,189.92 L751.62,189.82 L752.13,189.64 L752.64,189.40 L753.15,189.08 L753.66,188.70 L754.16,188.24 L754.67,187.72 L755.18,187.13 L755.69,186.47 L756.19,185.75 L756.70,184.96 L757.21,184.10 L757.72,183.18 L758.23,182.20 L758.73,181.15 L759.24,180.04 L759.75,178.87 L760.26,177.65 L760.77,176.36 L761.27,175.02 L761.78,173.62 L762.29,172.16 L762.80,170.66 L763.30,169.10 L763.81,167.50 L764.32,165.84 L764.83,164.14 L765.34,162.39 L765.84,160.61 L766.35,158.78 L766.86,156.91 L767.37,155.00 L767.87,153.05 L768.38,151.08 L768.89,149.07 L769.40,147.03 L769.91,144.96 L770.41,142.87 L770.92,140.75 L771.43,138.62 L771.94,136.46 L772.45,134.28 L772.95,132.09 L773.46,129.89 L773.97,127.67 L774.48,125.45 L774.98,123.22 L775.49,120.99 L776.00,118.75" stroke="#ff0000"/>
<path d="M471.30,118.75 L471.81,120.13 L472.32,120.89 L472.82,120.89 L473.33,120.89 L473.84,120.89 L474.35,120.89 L474.85,120.89 L475.36,120.89 L475.87,120.89 L476.38,120.89 L476.89,120.89 L477.39,120.89 L477.90,120.89 L478.41,120.37 L478.92,119.09 L479.43,117.45 L479.93,115.69 L480.44,113.36 L480.95,110.69 L481.46,108.07 L481.96,105.54 L482.47,102.97 L482.98,100.46 L483.49,98.10 L484.00,95.89 L484.50,93.74 L485.01,91.67 L485.52,89.69 L486.03,87.79 L486.54,85.99 L487.04,84.24 L487.55,82.52 L488.06,80.86 L488.57,79.32 L489.07,77.93 L489.58,76.74 L490.09,75.65 L490.60,74.59 L491.11,73.61 L491.61,72.78 L492.12,72.14 L492.63,71.75 L493.14,71.52 L493.64,71.32 L494.15,71.14 L494.66,70.98 L495.17,70.85 L495.68,70.76 L496.18,70.70 L496.69,70.68 L497.20,70.68 L497.71,70.68 L498.22,70.68 L498.72,70.68 L499.23,70.68 L499.74,70.68 L500.25,70.68 L500.75,70.68 L501.26,70.68 L501.77,70.68 L502.28,70.68 L502.79,70.68 L503.29,70.68 L503.80,70.68 L504.31,70.68 L504.82,70.68 L505.32,70.68 L505.83,70.68 L506.34,70.68 L506.85,70.68 L507.36,70.68 L507.86,70.67 L508.37,70.65 L508.88,70.62 L509.39,70.59 L509.90,70.56 L510.40,70.52 L510.91,70.49 L511.42,70.45 L511.93,70.42 L512.43,70.39 L512.94,70.37 L513.45,70.35 L513.96,70.33 L514.47,70.33 L514.97,70.35 L515.48,70.40 L515.99,70.48 L516.50,70.59 L517.00,70.73 L517.51,70.88 L518.02,71.04 L518.53,71.28 L519.04,71.64 L519.54,72.09 L520.05,72.61 L520.56,73.18 L521.07,73.81 L521.58,74.55 L522.08,75.39 L522.59,76.33 L523.10,77.37 L523.61,78.49 L524.11,79.71 L524.62,81.01 L525.13,82.50 L525.64,84.26 L526.15,86.24 L526.65,88.40 L527.16,90.71 L527.67,93.11 L528.18,95.74 L528.69,98.68 L529.19,101.84 L529.70,105.12 L530.21,108.41 L530.72,111.63 L531.22,114.95 L531.73,118.40 L532.24,121.67 L532.75,124.45 L533.26,126.83 L533.76,129.10 L534.27,131.20 L534.78,133.06 L535.29,134.62 L535.79,135.84 L536.30,136.76 L536.81,137.52 L537.32,138.17 L537.83,138.78 L538.33,139.40 L538.84,140.07 L539.35,140.77 L539.86,141.45 L540.37,142.07 L540.87,142.58 L541.38,142.96 L541.89,143.24 L542.40,143.48 L542.90,143.70 L543.41,143.90 L543.92,144.08 L544.43,144.24 L544.94,144.39 L545.44,144.54 L545.95,144.68 L546.46,144.81 L546.97,144.95 L547.48,145.10 L547.98,145.25 L548.49,145.40 L549.00,145.56 L549.51,145.71 L550.01,145.87 L550.52,146.02 L551.03,146.17 L551.54,146.32 L552.05,146.46 L552.55,146.59 L553.06,146.72 L553.57,146.83 L554.08,146.94 L554.58,147.03 L555.09,147.11 L555.60,147.18 L556.11,147.23 L556.62,147.28 L557.12,147.32 L557.63,147.36 L558.14,147.40 L558.65,147.44 L559.16,147.48 L559.66,147.51 L560.17,147.55 L560.68,147.58 L561.19,147.62 L561.69,147.65 L562.20,147.68 L562.71,147.71 L563.22,147.73 L563.73,147.76 L564.23,147.78 L564.74,147.81 L565.25,147.83 L565.76,147.85 L566.26,147.87 L566.77,147.88 L567.28,147.90 L567.79,147.91 L568.30,147.92 L568.80,147.93 L569.31,147.94 L569.82,147.94 L570.33,147.94 L570.84,147.95 L571.34,147.84 L571.85,147.54 L572.36,147.08 L572.87,146.52 L573.37,145.39 L573.88,143.56 L574.39,141.54 L574.90,139.34 L575.41,136.87 L575.91,134.42 L576.42,132.10 L576.93,129.81 L577.44,127.52 L577.95,125.16 L578.45,122.74 L578.96,120.27 L579.47,117.76 L579.98,115.19 L580.48,112.51 L580.99,109.73 L581.50,106.90 L582.01,104.10 L582.52,101.38 L583.02,98.81 L583.53,96.25 L584.04,93.57 L584.55,90.91 L585.05,88.41 L585.56,86.19 L586.07,84.39 L586.58,83.15 L587.09,82.30 L587.59,81.58 L588.10,80.98 L588.61,80.46 L589.12,80.00 L589.63,79.59 L590.13,79.18 L590.64,78.78 L591.15,78.41 L591.66,78.08 L592.16,77.80 L592.67,77.58 L593.18,77.45 L593.69,77.37 L594.20,77.30 L594.70,77.24 L595.21,77.19 L595.72,77.15 L596.23,77.12 L596.73,77.08 L597.24,77.06 L597.75,77.03 L598.26,76.99 L598.77,76.96 L599.27,76.92 L599.78,76.87 L600.29,76.81 L600.80,76.74 L601.31,76.64 L601.81,76.52 L602.32,76.37 L602.83,76.21 L603.34,76.02 L603.84,75.79 L604.35,75.46 L604.86,75.08 L605.37,74.65 L605.88,74.21 L606.38,73.77 L606.89,73.36 L607.40,73.00 L607.91,72.72 L608.41,72.53 L608.92,72.46 L609.43,72.47 L609.94,72.49 L610.45,72.52 L610.95,72.56 L611.46,72.62 L611.97,72.68 L612.48,72.75 L612.99,72.82 L613.49,72.91 L614.00,72.99 L614.51,73.08 L615.02,73.18 L615.52,73.29 L616.03,73.43 L616.54,73.60 L617.05,73.80 L617.56,74.02 L618.06,74.27 L618.57,74.53 L619.08,74.81 L619.59,75.10 L620.10,75.40 L620.60,75.71 L621.11,76.02 L621.62,76.36 L622.13,76.73 L622.63,77.14 L623.14,77.62 L623.65,78.16 L624.16,78.82 L624.67,79.61 L625.17,80.52 L625.68,81.54 L626.19,82.66 L626.70,83.86 L627.20,85.18 L627.71,86.67 L628.22,88.34 L628.73,90.20 L629.24,92.27 L629.74,94.54 L630.25,97.43 L630.76,101.00 L631.27,104.72 L631.78,108.07 L632.28,110.90 L632.79,113.53 L633.30,116.09 L633.81,118.75 L634.31,121.76 L634.82,125.04 L635.33,128.24 L635.84,131.01 L636.35,132.99 L636.85,134.36 L637.36,135.53 L637.87,136.50 L638.38,137.32 L638.88,137.98 L639.39,138.55 L639.90,139.07 L640.41,139.54 L640.92,139.95 L641.42,140.30 L641.93,140.60 L642.44,140.82 L642.95,141.00 L643.46,141.15 L643.96,141.27 L644.47,141.38 L644.98,141.48 L645.49,141.56 L645.99,141.65 L646.50,141.74 L647.01,141.84 L647.52,141.95 L648.03,142.09 L648.53,142.25 L649.04,142.48 L649.55,142.79 L650.06,143.18 L650.57,143.60 L651.07,144.05 L651.58,144.49 L652.09,144.90 L652.60,145.26 L653.10,145.55 L653.61,145.74 L654.12,145.81 L654.63,145.81 L655.14,145.81 L655.64,145.81 L656.15,145.81 L656.66,145.81 L657.17,145.81 L657.67,145.81 L658.18,145.81 L658.69,145.81 L659.20,145.81 L659.71,145.81 L660.21,145.81 L660.72,145.79 L661.23,145.75 L661.74,145.68 L662.25,145.60 L662.75,145.50 L663.26,145.40 L663.77,145.31 L664.28,145.23 L664.78,145.16 L665.29,145.11 L665.80,145.10 L666.31,145.13 L666.82,145.20 L667.32,145.32 L667.83,145.47 L668.34,145.63 L668.85,145.81 L669.36,145.99 L669.86,146.15 L670.37,146.30 L670.88,146.42 L671.39,146.49 L671.89,146.52 L672.40,146.41 L672.91,146.09 L673.42,145.62 L673.93,145.04 L674.43,144.38 L674.94,143.46 L675.45,142.10 L675.96,140.42 L676.46,138.54 L676.97,136.55 L677.48,134.26 L677.99,131.55 L678.50,128.67 L679.00,125.87 L679.51,123.16 L680.02,120.43 L680.53,117.75 L681.04,115.19 L681.54,112.79 L682.05,110.49 L682.56,108.26 L683.07,106.04 L683.57,103.80 L684.08,101.46 L684.59,99.05 L685.10,96.64 L685.61,94.32 L686.11,92.17 L686.62,90.27 L687.13,88.52 L687.64,86.81 L688.14,85.20 L688.65,83.77 L689.16,82.59 L689.67,81.72 L690.18,81.04 L690.68,80.40 L691.19,79.79 L691.70,79.23 L692.21,78.73 L692.72,78.29 L693.22,77.94 L693.73,77.67 L694.24,77.51 L694.75,77.45 L695.25,77.45 L695.76,77.45 L696.27,77.45 L696.78,77.45 L697.29,77.45 L697.79,77.45 L698.30,77.45 L698.81,77.45 L699.32,77.45 L699.83,77.45 L700.33,77.45 L700.84,77.45 L701.35,77.45 L701.86,77.45 L702.36,77.45 L702.87,77.45 L703.38,77.45 L703.89,77.45 L704.40,77.45 L704.90,77.45 L705.41,77.45 L705.92,77.45 L706.43,77.45 L706.93,77.45 L707.44,77.45 L707.95,77.44 L708.46,77.41 L708.97,77.37 L709.47,77.31 L709.98,77.25 L710.49,77.17 L711.00,77.08 L711.51,76.99 L712.01,76.89 L712.52,76.79 L713.03,76.69 L713.54,76.59 L714.04,76.49 L714.55,76.39 L715.06,76.31 L715.57,76.23 L716.08,76.16 L716.58,76.10 L717.09,76.06 L717.60,76.03 L718.11,76.02 L718.61,76.02 L719.12,76.02 L719.63,76.02 L720.14,76.02 L720.65,76.02 L721.15,76.02 L721.66,76.02 L722.17,76.02 L722.68,76.02 L723.19,76.02 L723.69,76.02 L724.20,76.02 L724.71,76.02 L725.22,76.02 L725.72,76.13 L726.23,76.44 L726.74,76.92 L727.25,77.57 L727.76,78.36 L728.26,79.28 L728.77,80.30 L729.28,82.18 L729.79,85.19 L730.30,88.60 L730.80,91.69 L731.31,94.32 L731.82,96.85 L732.33,99.32 L732.83,101.75 L733.34,104.17 L733.85,106.61 L734.36,109.08 L734.87,111.63 L735.37,114.34 L735.88,117.16 L736.39,119.89 L736.90,122.31 L737.40,124.36 L737.91,126.20 L738.42,127.93 L738.93,129.68 L739.44,131.57 L739.94,133.85 L740.45,136.38 L740.96,138.64 L741.47,140.11 L741.98,140.98 L742.48,141.74 L742.99,142.40 L743.50,142.97 L744.01,143.45 L744.51,143.84 L745.02,144.15 L745.53,144.38 L746.04,144.57 L746.55,144.73 L747.05,144.88 L747.56,145.00 L748.07,145.11 L748.58,145.21 L749.08,145.30 L749.59,145.38 L750.10,145.45 L750.61,145.52 L751.12,145.59 L751.62,145.66 L752.13,145.73 L752.64,145.80 L753.15,145.87 L753.66,145.93 L754.16,145.99 L754.67,146.05 L755.18,146.11 L755.69,146.17 L756.19,146.22 L756.70,146.27 L757.21,146.31 L757.72,146.35 L758.23,146.39 L758.73,146.42 L759.24,146.45 L759.75,146.48 L760.26,146.50 L760.77,146.51 L761.27,146.52 L761.78,146.52 L762.29,146.52 L762.80,146.52 L763.30,146.52 L763.81,146.52 L764.32,146.52 L764.83,146.52 L765.34,146.52 L765.84,146.52 L766.35,146.52 L766.86,146.52 L767.37,146.52 L767.87,146.52 L768.38,146.52 L768.89,146.52 L769.40,146.52 L769.91,146.52 L770.41,146.52 L770.92,146.52 L771.43,146.52 L771.94,146.52 L772.45,146.52 L772.95,146.52 L773.46,146.52 L773.97,146.52 L774.48,146.52 L774.98,146.52 L775.49,146.52 L776.00,146.52" stroke="#0000ff" stroke-dasharray="12.7 13.2"/>
<path d="M471.30,117.34 L471.81,113.73 L472.32,110.73 L472.82,109.16 L473.33,106.94 L473.84,104.72 L474.35,103.99 L474.85,101.80 L475.36,99.63 L475.87,95.21 L476.38,93.07 L476.89,90.95 L477.39,90.46 L477.90,88.39 L478.41,86.87 L478.92,86.15 L479.43,85.82 L479.93,85.63 L480.44,86.30 L480.95,87.10 L481.46,87.89 L481.96,88.21 L482.47,89.04 L482.98,89.85 L483.49,91.12 L484.00,91.73 L484.50,92.31 L485.01,92.50 L485.52,93.03 L486.03,93.53 L486.54,95.06 L487.04,95.52 L487.55,96.02 L488.06,95.74 L488.57,96.18 L489.07,96.52 L489.58,93.90 L490.09,94.06 L490.60,94.27 L491.11,96.96 L491.61,97.07 L492.12,97.06 L492.63,97.03 L493.14,96.74 L493.64,96.49 L494.15,95.46 L494.66,95.30 L495.17,95.18 L495.68,94.91 L496.18,94.87 L496.69,94.85 L497.20,96.83 L497.71,96.94 L498.22,97.11 L498.72,96.39 L499.23,96.71 L499.74,97.09 L500.25,96.34 L500.75,96.86 L501.26,97.45 L501.77,98.80 L502.28,99.53 L502.79,100.32 L503.29,101.33 L503.80,102.25 L504.31,103.24 L504.82,102.76 L505.32,103.86 L505.83,105.03 L506.34,108.64 L506.85,109.93 L507.36,111.28 L507.86,111.88 L508.37,113.35 L508.88,114.88 L509.39,117.11 L509.90,118.75 L510.40,120.44 L510.91,120.03 L511.42,121.81 L511.93,123.63 L512.43,129.17 L512.94,131.06 L513.45,132.99 L513.96,133.58 L514.47,135.56 L514.97,137.55 L515.48,139.38 L515.99,141.37 L516.50,143.35 L517.00,144.06 L517.51,146.05 L518.02,148.04 L518.53,150.04 L519.04,151.87 L519.54,153.62 L520.05,154.47 L520.56,156.13 L521.07,157.73 L521.58,162.40 L522.08,163.79 L522.59,165.09 L523.10,163.80 L523.61,164.91 L524.11,165.91 L524.62,167.94 L525.13,168.66 L525.64,169.09 L526.15,169.68 L526.65,169.67 L527.16,169.51 L527.67,167.93 L528.18,167.39 L528.69,166.52 L529.19,166.96 L529.70,165.70 L530.21,164.38 L530.72,164.34 L531.22,162.93 L531.73,161.34 L532.24,158.08 L532.75,157.09 L533.26,156.45 L533.76,157.09 L534.27,156.65 L534.78,156.40 L535.29,155.48 L535.79,155.77 L536.30,156.30 L536.81,155.85 L537.32,156.54 L537.83,157.22 L538.33,157.89 L538.84,158.38 L539.35,158.80 L539.86,157.80 L540.37,158.17 L540.87,158.57 L541.38,160.96 L541.89,161.48 L542.40,161.95 L542.90,163.82 L543.41,164.21 L543.92,164.55 L544.43,164.01 L544.94,164.24 L545.44,164.42 L545.95,164.70 L546.46,164.74 L546.97,164.70 L547.48,164.91 L547.98,164.73 L548.49,164.47 L549.00,162.37 L549.51,161.97 L550.01,161.50 L550.52,162.11 L551.03,161.51 L551.54,160.84 L552.05,161.53 L552.55,160.74 L553.06,159.89 L553.57,156.13 L554.08,155.17 L554.58,154.15 L555.09,153.95 L555.60,152.84 L556.11,151.68 L556.62,149.97 L557.12,148.70 L557.63,147.37 L558.14,146.25 L558.65,144.82 L559.16,143.32 L559.66,141.22 L560.17,139.63 L560.68,137.99 L561.19,136.93 L561.69,135.20 L562.20,133.43 L562.71,130.33 L563.22,128.47 L563.73,126.57 L564.23,125.51 L564.74,123.54 L565.25,121.55 L565.76,119.55 L566.26,117.50 L566.77,115.41 L567.28,113.29 L567.79,111.16 L568.30,109.01 L568.80,108.84 L569.31,106.65 L569.82,104.46 L570.33,100.87 L570.84,98.66 L571.34,96.54 L571.85,94.71 L572.36,92.93 L572.87,91.26 L573.37,89.65 L573.88,89.24 L574.39,89.04 L574.90,90.68 L575.41,90.94 L575.91,91.19 L576.42,88.12 L576.93,88.23 L577.44,88.37 L577.95,90.23 L578.45,90.53 L578.96,90.90 L579.47,92.76 L579.98,93.29 L580.48,93.95 L580.99,95.29 L581.50,96.18 L582.01,97.07 L582.52,96.40 L583.02,97.13 L583.53,97.91 L584.04,98.64 L584.55,99.60 L585.05,100.44 L585.56,101.73 L586.07,101.97 L586.58,101.71 L587.09,100.24 L587.59,99.55 L588.10,98.82 L588.61,98.83 L589.12,98.06 L589.63,97.31 L590.13,95.33 L590.64,94.68 L591.15,94.07 L591.66,94.84 L592.16,94.27 L592.67,93.69 L593.18,92.37 L593.69,91.79 L594.20,91.27 L594.70,89.72 L595.21,89.32 L595.72,88.97 L596.23,86.99 L596.73,86.78 L597.24,86.63 L597.75,90.38 L598.26,90.37 L598.77,90.44 L599.27,90.01 L599.78,90.24 L600.29,90.54 L600.80,91.33 L601.31,91.81 L601.81,92.38 L602.32,91.32 L602.83,92.07 L603.34,92.91 L603.84,95.94 L604.35,97.06 L604.86,98.30 L605.37,98.94 L605.88,100.36 L606.38,101.85 L606.89,102.88 L607.40,104.41 L607.91,105.92 L608.41,108.40 L608.92,109.82 L609.43,111.21 L609.94,112.62 L610.45,114.09 L610.95,115.61 L611.46,116.65 L611.97,118.24 L612.48,119.87 L612.99,123.28 L613.49,124.98 L614.00,126.73 L614.51,127.81 L615.02,129.62 L615.52,131.45 L616.03,132.18 L616.54,134.02 L617.05,135.86 L617.56,137.10 L618.06,138.95 L618.57,140.81 L619.08,143.03 L619.59,144.89 L620.10,146.77 L620.60,150.34 L621.11,152.23 L621.62,154.11 L622.13,154.57 L622.63,156.38 L623.14,158.14 L623.65,158.49 L624.16,160.07 L624.67,161.51 L625.17,163.09 L625.68,164.29 L626.19,165.39 L626.70,167.07 L627.20,167.94 L627.71,168.62 L628.22,169.97 L628.73,170.25 L629.24,170.30 L629.74,168.50 L630.25,167.67 L630.76,166.14 L631.27,165.72 L631.78,164.35 L632.28,163.47 L632.79,163.38 L633.30,162.68 L633.81,161.85 L634.31,160.24 L634.82,158.71 L635.33,157.21 L635.84,153.69 L636.35,153.31 L636.85,153.50 L637.36,155.15 L637.87,155.63 L638.38,156.21 L638.88,155.89 L639.39,156.61 L639.90,157.32 L640.41,159.77 L640.92,160.46 L641.42,161.15 L641.93,160.33 L642.44,161.03 L642.95,161.70 L643.46,163.99 L643.96,164.59 L644.47,165.14 L644.98,165.16 L645.49,165.60 L645.99,165.97 L646.50,163.44 L647.01,163.65 L647.52,163.78 L648.03,165.66 L648.53,165.61 L649.04,165.41 L649.55,166.42 L650.06,165.93 L650.57,165.33 L651.07,164.19 L651.58,163.43 L652.09,162.64 L652.60,161.38 L653.10,160.57 L653.61,159.79 L654.12,158.12 L654.63,157.40 L655.14,156.61 L655.64,157.57 L656.15,156.64 L656.66,155.66 L657.17,155.95 L657.67,154.84 L658.18,153.67 L658.69,150.88 L659.20,149.60 L659.71,148.26 L660.21,146.54 L660.72,145.11 L661.23,143.65 L661.74,142.06 L662.25,140.53 L662.75,138.97 L663.26,136.08 L663.77,134.43 L664.28,132.72 L664.78,132.03 L665.29,130.20 L665.80,128.31 L666.31,125.81 L666.82,123.76 L667.32,121.63 L667.83,121.49 L668.34,119.26 L668.85,116.99 L669.36,112.59 L669.86,110.29 L670.37,107.98 L670.88,104.38 L671.39,102.11 L671.89,99.88 L672.40,99.19 L672.91,97.28 L673.42,95.53 L673.93,94.43 L674.43,92.84 L674.94,91.53 L675.45,90.76 L675.96,90.21 L676.46,89.88 L676.97,87.90 L677.48,87.99 L677.99,88.51 L678.50,92.11 L679.00,92.75 L679.51,93.32 L680.02,93.07 L680.53,93.66 L681.04,94.15 L681.54,93.90 L682.05,94.19 L682.56,94.45 L683.07,94.42 L683.57,94.75 L684.08,95.22 L684.59,97.06 L685.10,97.68 L685.61,98.26 L686.11,97.91 L686.62,98.16 L687.13,98.30 L687.64,99.08 L688.14,99.18 L688.65,99.16 L689.16,98.52 L689.67,98.04 L690.18,97.43 L690.68,97.12 L691.19,96.56 L691.70,96.01 L692.21,96.55 L692.72,96.00 L693.22,95.43 L693.73,93.64 L694.24,93.02 L694.75,92.35 L695.25,90.73 L695.76,90.14 L696.27,89.62 L696.78,91.14 L697.29,90.75 L697.79,90.44 L698.30,89.42 L698.81,89.24 L699.32,89.14 L699.83,88.13 L700.33,88.17 L700.84,88.27 L701.35,90.30 L701.86,90.55 L702.36,90.86 L702.87,89.91 L703.38,90.36 L703.89,90.88 L704.40,92.80 L704.90,93.46 L705.41,94.18 L705.92,92.63 L706.43,93.49 L706.93,94.41 L707.44,94.13 L707.95,95.19 L708.46,96.32 L708.97,97.85 L709.47,99.13 L709.98,100.49 L710.49,104.30 L711.00,105.79 L711.51,107.33 L712.01,107.91 L712.52,109.57 L713.03,111.28 L713.54,113.69 L714.04,115.49 L714.55,117.33 L715.06,119.23 L715.57,121.14 L716.08,123.08 L716.58,123.49 L717.09,125.48 L717.60,127.48 L718.11,132.57 L718.61,134.60 L719.12,136.67 L719.63,136.23 L720.14,138.34 L720.65,140.48 L721.15,143.82 L721.66,145.99 L722.17,148.18 L722.68,148.83 L723.19,151.05 L723.69,153.27 L724.20,156.80 L724.71,159.04 L725.22,161.28 L725.72,164.32 L726.23,166.25 L726.74,168.00 L727.25,168.56 L727.76,169.98 L728.26,171.27 L728.77,171.95 L729.28,172.25 L729.79,171.39 L730.30,170.86 L730.80,169.89 L731.31,169.36 L731.82,168.41 L732.33,167.98 L732.83,167.56 L733.34,168.19 L733.85,167.70 L734.36,167.13 L734.87,168.18 L735.37,167.29 L735.88,166.26 L736.39,162.04 L736.90,161.32 L737.40,160.92 L737.91,160.91 L738.42,160.73 L738.93,160.48 L739.44,160.64 L739.94,159.76 L740.45,158.57 L740.96,157.69 L741.47,157.44 L741.98,157.74 L742.48,157.06 L742.99,157.44 L743.50,157.86 L744.01,159.89 L744.51,160.36 L745.02,160.84 L745.53,161.59 L746.04,162.07 L746.55,162.49 L747.05,162.32 L747.56,162.65 L748.07,162.92 L748.58,161.66 L749.08,161.82 L749.59,161.92 L750.10,164.70 L750.61,164.67 L751.12,164.56 L751.62,161.63 L752.13,161.39 L752.64,161.07 L753.15,162.65 L753.66,162.20 L754.16,161.68 L754.67,161.59 L755.18,160.95 L755.69,160.23 L756.19,156.93 L756.70,156.10 L757.21,155.19 L757.72,155.68 L758.23,154.66 L758.73,153.58 L759.24,153.73 L759.75,152.54 L760.26,151.29 L760.77,148.98 L761.27,147.63 L761.78,146.23 L762.29,143.40 L762.80,141.89 L763.30,140.34 L763.81,138.45 L764.32,136.80 L764.83,135.10 L765.34,135.08 L765.84,133.29 L766.35,131.46 L766.86,128.70 L767.37,126.79 L767.87,124.85 L768.38,122.54 L768.89,120.54 L769.40,118.50 L769.91,117.88 L770.41,115.79 L770.92,113.67 L771.43,110.47 L771.94,108.31 L772.45,106.13 L772.95,104.36 L773.46,102.15 L773.97,99.94 L774.48,98.25 L774.98,96.02 L775.49,93.79 L776.00,91.50" stroke="#0072bd" stroke-dasharray="12.7 3.4 6.4 3.4"/>
</g>
<path d="M471.30,204.20v-3.50M471.30,33.30v3.50M572.87,204.20v-3.50M572.87,33.30v3.50M674.43,204.20v-3.50M674.43,33.30v3.50M776.00,204.20v-3.50M776.00,33.30v3.50M471.30,189.96h3.50M776.00,189.96h-3.50M471.30,118.75h3.50M776.00,118.75h-3.50M471.30,47.54h3.50M776.00,47.54h-3.50" stroke="#4a4a4a" stroke-width="1.3" fill="none"/>
<rect x="471.30" y="33.30" width="304.70" height="170.90" fill="none" stroke="#4a4a4a" stroke-width="1.6"/>
<text x="463.70" y="197.46" font-size="18.5" text-anchor="end">-10</text>
<text x="463.70" y="126.25" font-size="18.5" text-anchor="end">0</text>
<text x="463.70" y="55.04" font-size="18.5" text-anchor="end">10</text>
<text x="471.30" y="230.80" font-size="18.5" text-anchor="middle">0</text>
<text x="572.87" y="230.80" font-size="18.5" text-anchor="middle">2</text>
<text x="674.43" y="230.80" font-size="18.5" text-anchor="middle">4</text>
<text x="776.00" y="230.80" font-size="18.5" text-anchor="middle">6</text>
<text x="623.65" y="259.50" font-size="21.3" text-anchor="middle">time / s</text>
<text transform="translate(427.20,118.75) rotate(-90)" font-size="21.3" text-anchor="middle">angle / °</text>
<g stroke="#e2e2e2" stroke-width="1"><line x1="171.07" y1="335.20" x2="171.07" y2="506.90"/><line x1="273.13" y1="335.20" x2="273.13" y2="506.90"/><line x1="69.00" y1="493.69" x2="375.20" y2="493.69"/><line x1="69.00" y1="427.65" x2="375.20" y2="427.65"/><line x1="69.00" y1="361.62" x2="375.20" y2="361.62"/></g>
<g clip-path="url(#cBl)" fill="none" stroke-width="4.2" stroke-linejoin="round">
<path d="M69.00,419.73 L69.51,417.35 L70.02,413.48 L70.53,408.35 L71.04,402.67 L71.55,397.19 L72.06,392.55 L72.57,388.40 L73.08,384.46 L73.59,380.69 L74.10,377.07 L74.61,373.56 L75.12,370.11 L75.63,366.63 L76.14,363.23 L76.66,360.02 L77.17,357.11 L77.68,354.62 L78.19,352.25 L78.70,349.88 L79.21,347.80 L79.72,346.33 L80.23,345.77 L80.74,346.99 L81.25,350.03 L81.76,353.90 L82.27,357.65 L82.78,360.29 L83.29,362.08 L83.80,363.83 L84.31,365.47 L84.82,366.93 L85.33,368.13 L85.84,369.01 L86.35,369.48 L86.86,369.48 L87.37,369.08 L87.88,368.39 L88.39,367.50 L88.90,366.54 L89.41,365.61 L89.92,364.81 L90.43,364.26 L90.94,363.86 L91.45,363.48 L91.97,363.11 L92.48,362.76 L92.99,362.45 L93.50,362.17 L94.01,361.94 L94.52,361.76 L95.03,361.65 L95.54,361.62 L96.05,361.70 L96.56,361.95 L97.07,362.34 L97.58,362.84 L98.09,363.44 L98.60,364.11 L99.11,364.83 L99.62,365.58 L100.13,366.49 L100.64,367.70 L101.15,369.13 L101.66,370.75 L102.17,372.49 L102.68,374.31 L103.19,376.14 L103.70,378.06 L104.21,380.13 L104.72,382.36 L105.23,384.73 L105.74,387.24 L106.25,389.88 L106.76,392.71 L107.28,395.79 L107.79,399.06 L108.30,402.48 L108.81,405.99 L109.32,409.56 L109.83,413.22 L110.34,417.02 L110.85,420.95 L111.36,424.98 L111.87,429.11 L112.38,433.98 L112.89,439.41 L113.40,444.12 L113.91,446.80 L114.42,447.96 L114.93,448.88 L115.44,449.49 L115.95,449.71 L116.46,449.09 L116.97,447.49 L117.48,445.29 L117.99,442.87 L118.50,440.60 L119.01,438.88 L119.52,437.58 L120.03,436.33 L120.54,435.15 L121.05,434.08 L121.56,433.12 L122.07,432.29 L122.59,431.62 L123.10,431.06 L123.61,430.55 L124.12,430.10 L124.63,429.68 L125.14,429.30 L125.65,428.95 L126.16,428.61 L126.67,428.29 L127.18,427.97 L127.69,427.65 L128.20,427.34 L128.71,427.05 L129.22,426.77 L129.73,426.50 L130.24,426.25 L130.75,426.00 L131.26,425.76 L131.77,425.52 L132.28,425.28 L132.79,425.03 L133.30,424.78 L133.81,424.53 L134.32,424.26 L134.83,423.99 L135.34,423.69 L135.85,423.39 L136.36,423.08 L136.87,422.77 L137.38,422.45 L137.89,422.13 L138.41,421.80 L138.92,421.46 L139.43,421.11 L139.94,420.76 L140.45,420.40 L140.96,420.02 L141.47,419.64 L141.98,419.24 L142.49,418.83 L143.00,418.41 L143.51,417.98 L144.02,417.55 L144.53,417.10 L145.04,416.64 L145.55,416.14 L146.06,415.62 L146.57,415.05 L147.08,414.43 L147.59,413.75 L148.10,413.01 L148.61,412.16 L149.12,411.21 L149.63,410.15 L150.14,408.98 L150.65,407.72 L151.16,406.35 L151.67,404.88 L152.18,403.31 L152.69,401.63 L153.20,399.66 L153.72,397.28 L154.23,394.60 L154.74,391.76 L155.25,388.87 L155.76,386.05 L156.27,383.07 L156.78,379.73 L157.29,376.25 L157.80,372.83 L158.31,369.66 L158.82,366.97 L159.33,364.95 L159.84,363.69 L160.35,362.59 L160.86,361.57 L161.37,360.62 L161.88,359.78 L162.39,359.06 L162.90,358.47 L163.41,358.03 L163.92,357.75 L164.43,357.65 L164.94,357.78 L165.45,358.15 L165.96,358.71 L166.47,359.42 L166.98,360.24 L167.49,361.13 L168.00,362.04 L168.51,362.94 L169.03,364.03 L169.54,365.49 L170.05,367.18 L170.56,368.97 L171.07,370.73 L171.58,372.32 L172.09,373.63 L172.60,374.50 L173.11,374.82 L173.62,374.53 L174.13,373.73 L174.64,372.57 L175.15,371.17 L175.66,369.68 L176.17,368.22 L176.68,366.47 L177.19,364.17 L177.70,361.57 L178.21,358.90 L178.72,356.40 L179.23,354.32 L179.74,352.90 L180.25,352.37 L180.76,352.52 L181.27,352.94 L181.78,353.61 L182.29,354.50 L182.80,355.59 L183.31,356.84 L183.82,358.23 L184.34,360.13 L184.85,364.39 L185.36,370.08 L185.87,375.84 L186.38,380.30 L186.89,382.09 L187.40,381.45 L187.91,379.82 L188.42,377.64 L188.93,375.35 L189.44,373.38 L189.95,372.18 L190.46,371.57 L190.97,371.06 L191.48,370.63 L191.99,370.27 L192.50,369.95 L193.01,369.65 L193.52,369.34 L194.03,369.02 L194.54,368.65 L195.05,368.22 L195.56,367.65 L196.07,366.95 L196.58,366.20 L197.09,365.47 L197.60,364.85 L198.11,364.42 L198.62,364.26 L199.14,364.39 L199.65,364.75 L200.16,365.33 L200.67,366.09 L201.18,366.99 L201.69,368.02 L202.20,369.15 L202.71,370.33 L203.22,371.94 L203.73,374.20 L204.24,376.94 L204.75,379.95 L205.26,383.05 L205.77,386.05 L206.28,389.05 L206.79,392.24 L207.30,395.53 L207.81,398.83 L208.32,402.06 L208.83,405.14 L209.34,408.11 L209.85,411.02 L210.36,413.91 L210.87,416.82 L211.38,419.79 L211.89,422.87 L212.40,426.07 L212.91,429.35 L213.42,432.62 L213.93,435.82 L214.44,438.88 L214.96,442.22 L215.47,445.90 L215.98,449.29 L216.49,451.78 L217.00,452.75 L217.51,452.27 L218.02,450.96 L218.53,448.99 L219.04,446.55 L219.55,443.81 L220.06,440.97 L220.57,438.20 L221.08,435.55 L221.59,432.39 L222.10,428.82 L222.61,425.09 L223.12,421.44 L223.63,418.11 L224.14,415.35 L224.65,413.39 L225.16,411.92 L225.67,410.54 L226.18,409.31 L226.69,408.33 L227.20,407.68 L227.71,407.45 L228.22,408.14 L228.73,410.01 L229.24,412.75 L229.75,416.07 L230.27,419.64 L230.78,423.16 L231.29,427.53 L231.80,433.13 L232.31,438.91 L232.82,443.82 L233.33,446.80 L233.84,448.41 L234.35,449.83 L234.86,451.03 L235.37,451.95 L235.88,452.54 L236.39,452.75 L236.90,452.05 L237.41,450.26 L237.92,447.81 L238.43,445.13 L238.94,442.67 L239.45,440.86 L239.96,439.57 L240.47,438.38 L240.98,437.27 L241.49,436.24 L242.00,435.27 L242.51,434.36 L243.02,433.50 L243.53,432.67 L244.04,431.86 L244.55,431.08 L245.07,430.30 L245.58,429.55 L246.09,428.87 L246.60,428.24 L247.11,427.64 L247.62,427.05 L248.13,426.46 L248.64,425.84 L249.15,425.19 L249.66,424.48 L250.17,423.69 L250.68,422.84 L251.19,421.94 L251.70,420.96 L252.21,419.88 L252.72,418.68 L253.23,417.35 L253.74,415.79 L254.25,413.93 L254.76,411.84 L255.27,409.57 L255.78,407.17 L256.29,404.68 L256.80,402.16 L257.31,399.65 L257.82,397.06 L258.33,394.26 L258.84,391.35 L259.35,388.41 L259.86,385.50 L260.38,382.70 L260.89,380.11 L261.40,377.65 L261.91,375.24 L262.42,372.89 L262.93,370.61 L263.44,368.41 L263.95,366.31 L264.46,364.30 L264.97,362.41 L265.48,360.46 L265.99,358.38 L266.50,356.29 L267.01,354.35 L267.52,352.68 L268.03,351.44 L268.54,350.75 L269.05,350.87 L269.56,352.40 L270.07,355.00 L270.58,358.16 L271.09,361.41 L271.60,364.26 L272.11,367.00 L272.62,370.14 L273.13,373.43 L273.64,376.64 L274.15,379.54 L274.66,381.90 L275.17,383.49 L275.68,384.07 L276.20,383.70 L276.71,382.69 L277.22,381.17 L277.73,379.26 L278.24,377.09 L278.75,374.79 L279.26,372.50 L279.77,370.33 L280.28,367.89 L280.79,364.86 L281.30,361.48 L281.81,358.03 L282.32,354.75 L282.83,351.91 L283.34,349.77 L283.85,348.57 L284.36,348.50 L284.87,349.17 L285.38,350.37 L285.89,351.98 L286.40,353.85 L286.91,355.85 L287.42,357.84 L287.93,359.69 L288.44,361.26 L288.95,362.41 L289.46,363.31 L289.97,364.22 L290.48,365.11 L291.00,365.94 L291.51,366.68 L292.02,367.31 L292.53,367.80 L293.04,368.11 L293.55,368.22 L294.06,368.03 L294.57,367.53 L295.08,366.79 L295.59,365.89 L296.10,364.92 L296.61,363.94 L297.12,363.04 L297.63,362.30 L298.14,361.80 L298.65,361.62 L299.16,361.68 L299.67,361.86 L300.18,362.14 L300.69,362.51 L301.20,362.95 L301.71,363.45 L302.22,363.98 L302.73,364.57 L303.24,365.42 L303.75,366.52 L304.26,367.83 L304.77,369.29 L305.28,370.86 L305.79,372.50 L306.31,374.16 L306.82,375.92 L307.33,377.85 L307.84,379.95 L308.35,382.18 L308.86,384.53 L309.37,386.96 L309.88,389.46 L310.39,391.99 L310.90,394.60 L311.41,397.32 L311.92,400.18 L312.43,403.16 L312.94,406.29 L313.45,409.56 L313.96,413.08 L314.47,416.88 L314.98,420.87 L315.49,424.93 L316.00,428.97 L316.51,433.09 L317.02,438.05 L317.53,443.29 L318.04,448.02 L318.55,451.43 L319.06,452.75 L319.57,452.41 L320.08,451.49 L320.59,450.13 L321.10,448.47 L321.62,446.66 L322.13,444.82 L322.64,442.76 L323.15,440.24 L323.66,437.36 L324.17,434.21 L324.68,430.91 L325.19,427.55 L325.70,424.23 L326.21,421.05 L326.72,417.47 L327.23,413.32 L327.74,409.24 L328.25,405.88 L328.76,403.89 L329.27,403.87 L329.78,405.66 L330.29,408.68 L330.80,412.36 L331.31,416.10 L331.82,419.33 L332.33,422.23 L332.84,425.28 L333.35,428.38 L333.86,431.43 L334.37,434.31 L334.88,436.91 L335.39,439.13 L335.90,440.86 L336.41,442.31 L336.93,443.73 L337.44,445.07 L337.95,446.27 L338.46,447.30 L338.97,448.09 L339.48,448.60 L339.99,448.79 L340.50,448.48 L341.01,447.64 L341.52,446.38 L342.03,444.84 L342.54,443.11 L343.05,441.34 L343.56,439.63 L344.07,438.11 L344.58,436.90 L345.09,435.93 L345.60,435.03 L346.11,434.21 L346.62,433.43 L347.13,432.69 L347.64,431.97 L348.15,431.25 L348.66,430.51 L349.17,429.75 L349.68,428.94 L350.19,428.07 L350.70,427.13 L351.21,426.12 L351.72,425.06 L352.23,423.97 L352.75,422.83 L353.26,421.64 L353.77,420.40 L354.28,419.10 L354.79,417.76 L355.30,416.36 L355.81,414.90 L356.32,413.39 L356.83,411.79 L357.34,410.08 L357.85,408.26 L358.36,406.34 L358.87,404.32 L359.38,402.20 L359.89,399.98 L360.40,397.67 L360.91,395.17 L361.42,392.42 L361.93,389.49 L362.44,386.42 L362.95,383.30 L363.46,380.17 L363.97,377.11 L364.48,374.16 L364.99,371.13 L365.50,367.87 L366.01,364.58 L366.52,361.42 L367.03,358.59 L367.55,356.26 L368.06,354.62 L368.57,353.39 L369.08,352.24 L369.59,351.24 L370.10,350.44 L370.61,349.92 L371.12,349.73 L371.63,350.18 L372.14,351.39 L372.65,353.20 L373.16,355.40 L373.67,357.83 L374.18,360.29 L374.69,363.28 L375.20,366.90" stroke="#ff0000"/>
<path d="M69.00,419.22 L69.51,416.84 L70.02,412.97 L70.53,407.86 L71.04,401.84 L71.55,396.35 L72.06,392.11 L72.57,387.96 L73.08,385.64 L73.59,381.78 L74.10,378.16 L74.61,374.65 L75.12,370.77 L75.63,367.29 L76.14,363.89 L76.66,361.28 L77.17,356.90 L77.68,354.40 L78.19,351.60 L78.70,349.23 L79.21,348.47 L79.72,346.78 L80.23,346.22 L80.74,347.45 L81.25,349.72 L81.76,353.69 L82.27,357.54 L82.78,359.08 L83.29,360.14 L83.80,361.89 L84.31,365.57 L84.82,367.03 L85.33,359.43 L85.84,359.23 L86.35,359.70 L86.86,359.71 L87.37,373.23 L87.88,372.53 L88.39,371.65 L88.90,369.25 L89.41,364.94 L89.92,364.15 L90.43,363.70 L90.94,363.30 L91.45,363.12 L91.97,365.16 L92.48,364.54 L92.99,363.95 L93.50,362.23 L94.01,362.00 L94.52,361.83 L95.03,360.64 L95.54,359.79 L96.05,359.88 L96.56,360.05 L97.07,360.43 L97.58,362.97 L98.09,363.60 L98.60,364.27 L99.11,364.99 L99.62,366.71 L100.13,367.62 L100.64,368.83 L101.15,369.92 L101.66,372.61 L102.17,374.36 L102.68,376.04 L103.19,377.88 L103.70,378.85 L104.21,381.41 L104.72,383.64 L105.23,386.01 L105.74,385.86 L106.25,388.49 L106.76,391.33 L107.28,396.57 L107.79,400.49 L108.30,403.91 L108.81,405.51 L109.32,409.08 L109.83,414.14 L110.34,419.04 L110.85,422.97 L111.36,427.01 L111.87,428.97 L112.38,433.84 L112.89,439.27 L113.40,444.76 L113.91,446.91 L114.42,448.07 L114.93,449.43 L115.44,450.04 L115.95,449.63 L116.46,448.18 L116.97,446.58 L117.48,444.38 L117.99,444.25 L118.50,441.99 L119.01,440.27 L119.52,440.14 L120.03,438.25 L120.54,437.08 L121.05,436.44 L121.56,435.47 L122.07,442.93 L122.59,441.24 L123.10,440.68 L123.61,440.18 L124.12,435.85 L124.63,435.44 L125.14,435.06 L125.65,434.35 L126.16,419.39 L126.67,419.07 L127.18,419.52 L127.69,419.20 L128.20,438.00 L128.71,436.92 L129.22,436.64 L129.73,436.38 L130.24,428.02 L130.75,427.77 L131.26,427.53 L131.77,427.36 L132.28,424.18 L132.79,423.94 L133.30,423.25 L133.81,422.99 L134.32,425.86 L134.83,425.26 L135.34,424.97 L135.85,424.67 L136.36,427.58 L136.87,427.26 L137.38,426.95 L137.89,426.56 L138.41,422.28 L138.92,421.94 L139.43,421.54 L139.94,421.19 L140.45,420.53 L140.96,419.99 L141.47,419.61 L141.98,419.21 L142.49,419.86 L143.00,419.44 L143.51,419.01 L144.02,417.30 L144.53,426.34 L145.04,425.88 L145.55,426.33 L146.06,425.80 L146.57,416.09 L147.08,414.90 L147.59,414.22 L148.10,413.48 L148.61,415.53 L149.12,412.88 L149.63,411.82 L150.14,409.88 L150.65,408.21 L151.16,406.84 L151.67,405.34 L152.18,403.77 L152.69,401.08 L153.20,399.64 L153.72,397.26 L154.23,394.58 L154.74,389.58 L155.25,386.68 L155.76,383.87 L156.27,381.98 L156.78,378.30 L157.29,374.82 L157.80,370.47 L158.31,367.31 L158.82,366.45 L159.33,364.97 L159.84,363.71 L160.35,362.61 L160.86,360.78 L161.37,359.84 L161.88,359.00 L162.39,358.09 L162.90,357.17 L163.41,356.73 L163.92,355.91 L164.43,355.81 L164.94,356.00 L165.45,356.61 L165.96,357.17 L166.47,357.88 L166.98,358.37 L167.49,359.26 L168.00,360.17 L168.51,361.29 L169.03,364.42 L169.54,365.88 L170.05,368.57 L170.56,370.74 L171.07,373.07 L171.58,373.62 L172.09,374.92 L172.60,375.80 L173.11,370.84 L173.62,370.54 L174.13,369.75 L174.64,366.87 L175.15,379.95 L175.66,378.46 L176.17,377.72 L176.68,375.97 L177.19,363.27 L177.70,360.66 L178.21,357.99 L178.72,355.49 L179.23,357.97 L179.74,356.55 L180.25,356.02 L180.76,355.84 L181.27,355.19 L181.78,355.87 L182.29,357.88 L182.80,358.97 L183.31,369.29 L183.82,370.89 L184.34,372.79 L184.85,377.04 L185.36,376.66 L185.87,382.42 L186.38,386.88 L186.89,389.32 L187.40,382.93 L187.91,381.30 L188.42,378.41 L188.93,376.12 L189.44,370.50 L189.95,369.96 L190.46,369.34 L190.97,368.83 L191.48,370.02 L191.99,369.66 L192.50,369.34 L193.01,367.91 L193.52,369.02 L194.03,368.69 L194.54,369.66 L195.05,369.23 L195.56,368.81 L196.07,367.01 L196.58,366.25 L197.09,365.52 L197.60,366.16 L198.11,365.73 L198.62,365.57 L199.14,365.52 L199.65,364.26 L200.16,364.84 L200.67,365.18 L201.18,366.09 L201.69,367.97 L202.20,368.31 L202.71,369.50 L203.22,371.10 L203.73,373.27 L204.24,376.01 L204.75,379.02 L205.26,382.17 L205.77,383.65 L206.28,386.66 L206.79,390.57 L207.30,393.86 L207.81,399.52 L208.32,401.72 L208.83,404.79 L209.34,407.76 L209.85,413.16 L210.36,416.05 L210.87,418.96 L211.38,421.22 L211.89,423.46 L212.40,426.66 L212.91,430.51 L213.42,433.79 L213.93,437.78 L214.44,439.66 L214.96,443.00 L215.47,446.67 L215.98,452.18 L216.49,454.67 L217.00,455.64 L217.51,454.05 L218.02,449.43 L218.53,447.46 L219.04,444.24 L219.55,441.51 L220.06,440.06 L220.57,436.68 L221.08,420.36 L221.59,399.30 L222.10,416.23 L222.61,426.97 L223.12,425.55 L223.63,422.71 L224.14,413.28 L224.65,410.98 L225.16,410.24 L225.67,408.86 L226.18,405.23 L226.69,403.26 L227.20,402.61 L227.71,402.37 L228.22,407.95 L228.73,409.82 L229.24,412.57 L229.75,416.74 L230.27,421.56 L230.78,425.09 L231.29,430.94 L231.80,436.54 L232.31,440.98 L232.82,445.73 L233.33,448.72 L233.84,450.32 L234.35,448.97 L234.86,450.17 L235.37,451.09 L235.88,450.75 L236.39,449.55 L236.90,448.85 L237.41,448.27 L237.92,445.82 L238.43,440.99 L238.94,438.44 L239.45,436.63 L239.96,435.34 L240.47,432.99 L240.98,431.88 L241.49,430.85 L242.00,429.90 L242.51,429.09 L243.02,428.23 L243.53,428.22 L244.04,427.41 L244.55,425.93 L245.07,425.64 L245.58,424.89 L246.09,424.22 L246.60,426.65 L247.11,426.05 L247.62,425.46 L248.13,425.17 L248.64,428.33 L249.15,427.67 L249.66,427.97 L250.17,427.19 L250.68,424.49 L251.19,421.61 L251.70,420.63 L252.21,419.56 L252.72,418.68 L253.23,417.35 L253.74,415.79 L254.25,413.20 L254.76,412.03 L255.27,409.76 L255.78,406.44 L256.29,403.95 L256.80,399.72 L257.31,397.68 L257.82,395.08 L258.33,392.28 L258.84,392.59 L259.35,389.64 L259.86,386.73 L260.38,382.61 L260.89,380.75 L261.40,378.30 L261.91,375.70 L262.42,373.35 L262.93,367.94 L263.44,367.00 L263.95,364.89 L264.46,362.89 L264.97,362.16 L265.48,360.21 L265.99,358.13 L266.50,355.49 L267.01,354.13 L267.52,352.03 L268.03,351.34 L268.54,350.65 L269.05,347.03 L269.56,346.53 L270.07,349.13 L270.58,352.30 L271.09,357.39 L271.60,360.23 L272.11,362.98 L272.62,365.25 L273.13,372.35 L273.64,375.57 L274.15,377.92 L274.66,380.28 L275.17,394.23 L275.68,394.78 L276.20,394.42 L276.71,393.41 L277.22,384.63 L277.73,382.72 L278.24,380.55 L278.75,378.18 L279.26,374.73 L279.77,372.57 L280.28,370.44 L280.79,367.41 L281.30,366.82 L281.81,362.48 L282.32,359.20 L282.83,356.36 L283.34,350.13 L283.85,348.93 L284.36,348.86 L284.87,348.12 L285.38,344.07 L285.89,345.68 L286.40,348.03 L286.91,350.03 L287.42,360.88 L287.93,362.17 L288.44,363.73 L288.95,364.88 L289.46,369.16 L289.97,370.07 L290.48,370.96 L291.00,372.53 L291.51,360.68 L292.02,365.27 L292.53,365.58 L293.04,365.89 L293.55,369.24 L294.06,368.11 L294.57,367.61 L295.08,366.87 L295.59,367.29 L296.10,366.32 L296.61,365.34 L297.12,365.12 L297.63,362.44 L298.14,361.94 L298.65,359.95 L299.16,360.02 L299.67,359.95 L300.18,360.06 L300.69,360.43 L301.20,360.87 L301.71,365.35 L302.22,365.88 L302.73,366.47 L303.24,366.16 L303.75,365.28 L304.26,366.58 L304.77,366.59 L305.28,368.16 L305.79,371.49 L306.31,374.29 L306.82,376.04 L307.33,377.98 L307.84,381.02 L308.35,383.26 L308.86,385.60 L309.37,388.32 L309.88,389.36 L310.39,391.89 L310.90,394.72 L311.41,397.45 L311.92,399.52 L312.43,402.28 L312.94,405.41 L313.45,408.68 L313.96,414.28 L314.47,418.08 L314.98,422.07 L315.49,425.28 L316.00,428.04 L316.51,432.16 L317.02,437.88 L317.53,443.12 L318.04,448.40 L318.55,451.85 L319.06,453.16 L319.57,452.83 L320.08,449.64 L320.59,448.29 L321.10,442.66 L321.62,436.12 L322.13,448.60 L322.64,446.54 L323.15,444.58 L323.66,441.69 L324.17,427.49 L324.68,423.72 L325.19,420.36 L325.70,417.04 L326.21,420.64 L326.72,417.06 L327.23,412.91 L327.74,409.28 L328.25,406.31 L328.76,404.32 L329.27,404.20 L329.78,406.00 L330.29,404.54 L330.80,408.31 L331.31,412.06 L331.82,415.29 L332.33,417.46 L332.84,420.52 L333.35,423.62 L333.86,426.79 L334.37,427.70 L334.88,430.30 L335.39,432.64 L335.90,434.37 L336.41,440.78 L336.93,441.49 L337.44,442.83 L337.95,444.03 L338.46,451.18 L338.97,451.98 L339.48,452.49 L339.99,451.07 L340.50,450.43 L341.01,449.59 L341.52,449.20 L342.03,447.65 L342.54,440.40 L343.05,439.14 L343.56,437.43 L344.07,435.91 L344.58,434.15 L345.09,433.18 L345.60,432.29 L346.11,431.59 L346.62,426.49 L347.13,425.75 L347.64,427.25 L348.15,429.29 L348.66,429.85 L349.17,429.67 L349.68,428.86 L350.19,427.99 L350.70,424.97 L351.21,423.96 L351.72,422.91 L352.23,423.08 L352.75,421.34 L353.26,420.15 L353.77,419.89 L354.28,418.60 L354.79,419.04 L355.30,416.63 L355.81,415.17 L356.32,413.65 L356.83,415.08 L357.34,413.37 L357.85,411.55 L358.36,408.33 L358.87,405.90 L359.38,403.78 L359.89,400.84 L360.40,398.53 L360.91,396.37 L361.42,393.89 L361.93,390.96 L362.44,387.90 L362.95,382.08 L363.46,378.95 L363.97,375.89 L364.48,372.56 L364.99,372.75 L365.50,369.50 L366.01,364.52 L366.52,361.37 L367.03,355.79 L367.55,354.42 L368.06,352.78 L368.57,351.55 L369.08,351.47 L369.59,350.46 L370.10,349.67 L370.61,348.45 L371.12,346.77 L371.63,347.21 L372.14,347.51 L372.65,349.31 L373.16,352.46 L373.67,355.65 L374.18,358.11 L374.69,361.10 L375.20,366.94" stroke="#0000ff" stroke-dasharray="12.7 13.2"/>
<path d="M82.3,366.0V374.0M89.6,364.0V369.4M84.4,370.0V362.6M88.9,365.7V372.0M85.6,364.8V371.9M85.0,367.8V370.5M122.1,438.0V445.7M138.5,422.7V427.1M145.1,415.3V409.7M130.0,422.3V414.7M123.0,429.3V419.3M137.4,420.6V425.7M123.6,434.1V428.3M145.1,422.6V425.4M123.5,430.4V438.6M130.2,429.6V435.7M133.9,430.5V421.6M123.3,436.7V441.2M129.0,429.2V437.0M127.8,436.2V428.2M140.1,426.9V420.6M147.7,421.1V417.0M188.0,376.8V386.9M186.1,381.1V384.4M182.6,366.9V375.5M174.4,360.1V369.6M185.8,371.5V364.8M184.1,350.5V341.6M184.4,364.8V370.9M183.5,350.6V356.1M185.9,368.8V375.4M176.4,360.4V356.2M183.1,356.3V351.3M180.3,357.9V352.9M177.1,365.4V354.9M233.0,442.0V434.2M227.1,409.3V415.6M224.8,409.2V406.5M224.7,411.8V420.1M231.0,423.6V419.0M232.5,438.0V429.2M245.7,432.1V425.6M235.8,454.3V461.2M247.4,435.3V441.6M279.4,371.5V364.2M273.4,364.3V369.7M270.4,360.2V354.7M272.5,368.2V375.9M273.7,386.0V395.5M290.1,370.2V364.8M285.1,343.6V347.7M287.6,362.9V360.3M284.1,346.0V342.2M275.3,384.0V393.4M277.0,386.7V394.3M278.2,379.1V389.6M274.8,384.7V381.5M277.7,381.6V376.0M285.7,348.0V339.0M269.8,350.3V358.2M339.9,449.5V458.8M335.3,437.9V431.6M323.7,435.1V430.4M327.7,416.6V423.0M323.2,430.5V435.8M326.5,413.8V422.5M326.7,414.0V423.2M332.2,423.2V426.9M329.8,406.3V410.2M330.9,410.3V404.6M342.5,441.4V447.8M322.2,452.7V462.9M324.3,430.2V440.3M342.2,430.4V440.7M335.2,447.3V455.7M185.9,368.2V345.8M284.4,361.6V344.4M329.3,411.8V388.0M339.5,443.5V456.7M143.0,410.5V401.2M145.6,411.8V401.2M130.2,443.5V451.4M220.8,370.9V378.8M220.8,392.0V401.2M222.9,392.0V399.9M227.7,392.0V399.9" stroke="#0000ff" stroke-linejoin="miter"/>
<path d="M69.00,426.50 L69.20,427.57 L69.41,426.50 L69.61,427.57 L69.82,426.50 L70.02,427.57 L70.22,426.50 L70.43,427.57 L70.63,426.24 L70.84,427.44 L71.04,426.24 L71.25,427.44 L71.45,426.24 L71.65,427.44 L71.86,426.24 L72.06,427.44 L72.27,426.70 L72.47,427.17 L72.67,426.70 L72.88,427.17 L73.08,426.70 L73.29,427.17 L73.49,426.70 L73.70,427.17 L73.90,426.56 L74.10,427.38 L74.31,426.56 L74.51,427.38 L74.72,426.56 L74.92,427.38 L75.12,426.56 L75.33,427.38 L75.53,426.13 L75.74,427.22 L75.94,426.13 L76.14,427.22 L76.35,426.13 L76.55,427.22 L76.76,426.13 L76.96,427.22 L77.17,426.16 L77.37,427.60 L77.57,426.16 L77.78,427.60 L77.98,426.16 L78.19,427.60 L78.39,426.16 L78.59,427.60 L78.80,426.30 L79.00,427.24 L79.21,426.30 L79.41,427.24 L79.61,426.30 L79.82,427.24 L80.02,426.30 L80.23,427.24 L80.43,425.94 L80.64,427.60 L80.84,425.12 L81.04,428.05 L81.25,424.30 L81.45,428.50 L81.66,423.48 L81.86,428.84 L82.06,424.76 L82.27,428.16 L82.47,424.76 L82.68,428.16 L82.88,424.76 L83.09,428.16 L83.29,424.76 L83.49,428.16 L83.70,421.87 L83.90,429.49 L84.11,421.87 L84.31,429.49 L84.51,421.87 L84.72,429.49 L84.92,421.87 L85.13,429.49 L85.33,422.38 L85.53,432.36 L85.74,422.38 L85.94,432.36 L86.15,422.38 L86.35,432.36 L86.56,422.38 L86.76,432.36 L86.96,423.48 L87.17,428.94 L87.37,423.48 L87.58,428.94 L87.78,423.48 L87.98,428.94 L88.19,423.48 L88.39,428.94 L88.60,425.04 L88.80,430.00 L89.01,425.04 L89.21,430.00 L89.41,425.04 L89.62,430.00 L89.82,425.04 L90.03,430.00 L90.23,424.79 L90.43,432.28 L90.64,424.79 L90.84,432.28 L91.05,424.79 L91.25,432.28 L91.45,424.79 L91.66,432.28 L91.86,424.07 L92.07,427.96 L92.27,424.35 L92.48,427.81 L92.68,424.72 L92.88,427.66 L93.09,425.09 L93.29,427.51 L93.50,425.56 L93.70,427.92 L93.90,425.91 L94.11,427.60 L94.31,426.25 L94.52,427.28 L94.72,426.42 L94.92,427.28 L95.13,426.62 L95.33,427.68 L95.54,426.62 L95.74,427.68 L95.95,426.62 L96.15,427.68 L96.35,426.62 L96.56,427.68 L96.76,426.36 L96.97,427.12 L97.17,426.36 L97.37,427.12 L97.58,426.36 L97.78,427.12 L97.99,426.36 L98.19,427.12 L98.40,426.33 L98.60,427.76 L98.80,426.33 L99.01,427.76 L99.21,426.33 L99.42,427.76 L99.62,426.33 L99.82,427.76 L100.03,426.45 L100.23,427.69 L100.44,426.45 L100.64,427.69 L100.84,426.45 L101.05,427.69 L101.25,426.45 L101.46,427.69 L101.66,426.38 L101.87,427.16 L102.07,426.38 L102.27,427.16 L102.48,426.38 L102.68,427.16 L102.89,426.38 L103.09,427.16 L103.29,426.42 L103.50,427.50 L103.70,426.42 L103.91,427.50 L104.11,426.42 L104.32,427.50 L104.52,426.42 L104.72,427.50 L104.93,426.38 L105.13,427.47 L105.34,426.38 L105.54,427.47 L105.74,426.38 L105.95,427.47 L106.15,426.38 L106.36,427.47 L106.56,426.20 L106.76,427.58 L106.97,426.20 L107.17,427.58 L107.38,426.20 L107.58,427.58 L107.79,426.20 L107.99,427.58 L108.19,426.29 L108.40,427.29 L108.60,426.29 L108.81,427.29 L109.01,426.29 L109.21,427.29 L109.42,426.29 L109.62,427.29 L109.83,426.52 L110.03,427.34 L110.23,426.52 L110.44,427.34 L110.64,426.52 L110.85,427.34 L111.05,426.52 L111.26,427.34 L111.46,426.07 L111.66,427.23 L111.87,426.07 L112.07,427.23 L112.28,426.07 L112.48,427.23 L112.68,426.07 L112.89,427.23 L113.09,426.28 L113.30,427.27 L113.50,426.28 L113.71,427.27 L113.91,426.28 L114.11,427.27 L114.32,426.28 L114.52,427.27 L114.73,426.32 L114.93,427.19 L115.13,426.01 L115.34,427.57 L115.54,425.37 L115.75,427.95 L115.95,424.74 L116.15,428.33 L116.36,423.12 L116.56,431.86 L116.77,422.26 L116.97,432.89 L117.18,421.40 L117.38,433.92 L117.58,420.73 L117.79,434.27 L117.99,420.38 L118.20,434.27 L118.40,420.28 L118.60,434.39 L118.81,420.18 L119.01,434.50 L119.22,420.08 L119.42,434.62 L119.63,419.31 L119.83,431.08 L120.03,419.20 L120.24,431.15 L120.44,419.09 L120.65,431.21 L120.85,418.97 L121.05,431.27 L121.26,419.14 L121.46,433.77 L121.67,419.03 L121.87,433.87 L122.07,418.92 L122.28,433.97 L122.48,418.81 L122.69,434.04 L122.89,419.87 L123.10,432.49 L123.30,419.87 L123.50,432.49 L123.71,419.87 L123.91,432.49 L124.12,419.87 L124.32,432.49 L124.52,419.47 L124.73,430.90 L124.93,419.47 L125.14,430.90 L125.34,419.47 L125.54,430.90 L125.75,419.47 L125.95,430.90 L126.16,423.76 L126.36,431.42 L126.57,423.76 L126.77,431.42 L126.97,423.76 L127.18,431.42 L127.38,423.76 L127.59,431.42 L127.79,419.64 L127.99,436.11 L128.20,419.64 L128.40,436.11 L128.61,419.64 L128.81,436.11 L129.02,419.64 L129.22,436.11 L129.42,423.02 L129.63,431.36 L129.83,423.02 L130.04,431.36 L130.24,423.02 L130.44,431.36 L130.65,423.02 L130.85,431.36 L131.06,423.00 L131.26,433.17 L131.46,423.00 L131.67,433.17 L131.87,423.00 L132.08,433.17 L132.28,423.00 L132.49,433.17 L132.69,424.05 L132.89,435.95 L133.10,424.05 L133.30,435.95 L133.51,424.05 L133.71,435.95 L133.91,424.05 L134.12,435.95 L134.32,421.94 L134.53,431.03 L134.73,421.94 L134.94,431.03 L135.14,421.94 L135.34,431.03 L135.55,421.94 L135.75,431.03 L135.96,424.81 L136.16,434.92 L136.36,424.81 L136.57,434.92 L136.77,424.81 L136.98,434.92 L137.18,424.81 L137.38,434.92 L137.59,419.96 L137.79,429.63 L138.00,419.96 L138.20,429.63 L138.41,419.96 L138.61,429.63 L138.81,419.96 L139.02,429.63 L139.22,419.27 L139.43,434.34 L139.63,419.27 L139.83,434.34 L140.04,419.27 L140.24,434.34 L140.45,419.27 L140.65,434.34 L140.85,419.06 L141.06,434.90 L141.26,419.06 L141.47,434.90 L141.67,419.06 L141.88,434.90 L142.08,419.06 L142.28,434.90 L142.49,423.98 L142.69,435.13 L142.90,423.98 L143.10,435.13 L143.30,423.98 L143.51,435.13 L143.71,423.98 L143.92,435.13 L144.12,420.08 L144.33,436.18 L144.53,420.08 L144.73,436.18 L144.94,420.08 L145.14,436.18 L145.35,420.08 L145.55,436.18 L145.75,418.78 L145.96,433.83 L146.16,419.16 L146.37,433.49 L146.57,419.55 L146.77,433.15 L146.98,419.93 L147.18,432.81 L147.39,425.14 L147.59,434.02 L147.80,425.24 L148.00,433.58 L148.20,425.35 L148.41,433.15 L148.61,425.45 L148.82,432.71 L149.02,424.83 L149.22,429.19 L149.43,424.98 L149.63,429.01 L149.84,425.14 L150.04,428.82 L150.25,425.30 L150.45,428.63 L150.65,425.22 L150.86,429.31 L151.06,425.22 L151.27,429.31 L151.47,425.22 L151.67,429.31 L151.88,425.22 L152.08,429.31 L152.29,424.60 L152.49,428.33 L152.69,424.60 L152.90,428.33 L153.10,424.60 L153.31,428.33 L153.51,424.60 L153.72,428.33 L153.92,425.52 L154.12,427.92 L154.33,425.52 L154.53,427.92 L154.74,425.52 L154.94,427.92 L155.14,425.52 L155.35,427.92 L155.55,424.36 L155.76,429.05 L155.96,424.36 L156.16,429.05 L156.37,424.36 L156.57,429.05 L156.78,424.36 L156.98,429.05 L157.19,424.98 L157.39,429.94 L157.59,424.98 L157.80,429.94 L158.00,424.98 L158.21,429.94 L158.41,424.98 L158.61,429.94 L158.82,423.99 L159.02,430.12 L159.23,423.99 L159.43,430.12 L159.64,423.99 L159.84,430.12 L160.04,423.99 L160.25,430.12 L160.45,424.38 L160.66,427.71 L160.86,424.38 L161.06,427.71 L161.27,424.38 L161.47,427.71 L161.68,424.38 L161.88,427.71 L162.08,423.89 L162.29,430.64 L162.49,423.89 L162.70,430.64 L162.90,423.89 L163.11,430.64 L163.31,423.89 L163.51,430.64 L163.72,425.29 L163.92,428.44 L164.13,425.29 L164.33,428.44 L164.53,425.29 L164.74,428.44 L164.94,425.29 L165.15,428.44 L165.35,423.83 L165.56,428.58 L165.76,423.83 L165.96,428.58 L166.17,423.83 L166.37,428.58 L166.58,423.83 L166.78,428.58 L166.98,423.74 L167.19,430.29 L167.39,423.74 L167.60,430.29 L167.80,423.74 L168.00,430.29 L168.21,423.74 L168.41,430.29 L168.62,423.71 L168.82,430.75 L169.03,423.41 L169.23,431.10 L169.43,423.11 L169.64,431.45 L169.84,422.82 L170.05,431.79 L170.25,425.44 L170.45,431.41 L170.66,425.34 L170.86,431.71 L171.07,425.25 L171.27,431.86 L171.47,425.25 L171.68,431.86 L171.88,420.79 L172.09,429.82 L172.29,420.79 L172.50,429.82 L172.70,420.79 L172.90,429.82 L173.11,420.79 L173.31,429.82 L173.52,422.67 L173.72,430.48 L173.92,422.67 L174.13,430.48 L174.33,422.67 L174.54,430.48 L174.74,422.67 L174.95,430.48 L175.15,424.21 L175.35,432.36 L175.56,424.21 L175.76,432.36 L175.97,424.21 L176.17,432.36 L176.37,424.21 L176.58,432.36 L176.78,423.39 L176.99,429.94 L177.19,423.39 L177.39,429.94 L177.60,423.39 L177.80,429.94 L178.01,423.39 L178.21,429.94 L178.42,422.97 L178.62,432.21 L178.82,422.97 L179.03,432.21 L179.23,422.97 L179.44,432.21 L179.64,422.97 L179.84,432.21 L180.05,422.97 L180.25,432.10 L180.46,422.97 L180.66,432.10 L180.87,422.97 L181.07,432.10 L181.27,422.97 L181.48,432.10 L181.68,424.34 L181.89,430.51 L182.09,424.34 L182.29,430.51 L182.50,424.34 L182.70,430.51 L182.91,424.34 L183.11,430.51 L183.31,424.25 L183.52,432.68 L183.72,424.25 L183.93,432.68 L184.13,424.25 L184.34,432.68 L184.54,424.25 L184.74,432.68 L184.95,423.75 L185.15,430.08 L185.36,423.75 L185.56,430.08 L185.76,423.75 L185.97,430.08 L186.17,423.75 L186.38,430.08 L186.58,421.63 L186.78,431.93 L186.99,421.63 L187.19,431.93 L187.40,421.63 L187.60,431.93 L187.81,421.63 L188.01,431.93 L188.21,423.37 L188.42,431.37 L188.62,423.37 L188.83,431.37 L189.03,423.37 L189.23,431.37 L189.44,423.37 L189.64,431.37 L189.85,425.40 L190.05,429.81 L190.26,425.40 L190.46,429.81 L190.66,425.40 L190.87,429.81 L191.07,425.40 L191.28,429.81 L191.48,423.30 L191.68,430.57 L191.89,423.76 L192.09,430.05 L192.30,424.23 L192.50,429.54 L192.70,424.69 L192.91,429.02 L193.11,425.76 L193.32,428.66 L193.52,426.06 L193.73,428.10 L193.93,426.36 L194.13,427.68 L194.34,426.43 L194.54,427.68 L194.75,426.61 L194.95,427.61 L195.15,426.61 L195.36,427.61 L195.56,426.61 L195.77,427.61 L195.97,426.61 L196.18,427.61 L196.38,425.69 L196.58,427.20 L196.79,425.69 L196.99,427.20 L197.20,425.69 L197.40,427.20 L197.60,425.69 L197.81,427.20 L198.01,426.34 L198.22,428.04 L198.42,426.34 L198.62,428.04 L198.83,426.34 L199.03,428.04 L199.24,426.34 L199.44,428.04 L199.65,426.11 L199.85,428.02 L200.05,426.11 L200.26,428.02 L200.46,426.11 L200.67,428.02 L200.87,426.11 L201.07,428.02 L201.28,426.28 L201.48,427.13 L201.69,426.28 L201.89,427.13 L202.09,426.28 L202.30,427.13 L202.50,426.28 L202.71,427.13 L202.91,426.57 L203.12,428.00 L203.32,426.57 L203.52,428.00 L203.73,426.57 L203.93,428.00 L204.14,426.57 L204.34,428.00 L204.54,425.77 L204.75,427.60 L204.95,425.77 L205.16,427.60 L205.36,425.77 L205.57,427.60 L205.77,425.77 L205.97,427.60 L206.18,425.73 L206.38,427.22 L206.59,425.73 L206.79,427.22 L206.99,425.73 L207.20,427.22 L207.40,425.73 L207.61,427.22 L207.81,426.45 L208.01,427.88 L208.22,426.45 L208.42,427.88 L208.63,426.45 L208.83,427.88 L209.04,426.45 L209.24,427.88 L209.44,426.23 L209.65,427.51 L209.85,426.23 L210.06,427.51 L210.26,426.23 L210.46,427.51 L210.67,426.23 L210.87,427.51 L211.08,426.27 L211.28,427.78 L211.49,426.27 L211.69,427.78 L211.89,426.27 L212.10,427.78 L212.30,426.27 L212.51,427.78 L212.71,426.46 L212.91,427.89 L213.12,426.46 L213.32,427.89 L213.53,426.46 L213.73,427.89 L213.93,426.46 L214.14,427.89 L214.34,425.99 L214.55,427.61 L214.75,425.99 L214.96,427.61 L215.16,425.99 L215.36,427.61 L215.57,425.99 L215.77,427.61 L215.98,425.88 L216.18,427.15 L216.38,425.88 L216.59,427.15 L216.79,425.88 L217.00,427.15 L217.20,425.76 L217.40,427.21 L217.61,425.56 L217.81,428.37 L218.02,425.33 L218.22,428.62 L218.43,425.09 L218.63,428.86 L218.83,424.86 L219.04,429.11 L219.24,424.82 L219.45,429.05 L219.65,424.61 L219.85,429.27 L220.06,424.41 L220.26,429.63 L220.47,425.43 L220.67,436.27 L220.88,448.32 L221.08,479.15 L221.28,493.70 L221.49,491.49 L221.69,460.68 L221.90,443.94 L222.10,428.86 L222.30,431.73 L222.51,425.08 L222.71,428.84 L222.92,425.04 L223.12,428.84 L223.32,425.04 L223.53,428.84 L223.73,425.04 L223.94,428.84 L224.14,423.95 L224.35,430.80 L224.55,423.95 L224.75,430.80 L224.96,423.95 L225.16,430.80 L225.37,423.95 L225.57,430.80 L225.77,423.24 L225.98,431.13 L226.18,423.24 L226.39,431.13 L226.59,423.24 L226.80,431.13 L227.00,423.24 L227.20,431.13 L227.41,424.44 L227.61,429.16 L227.82,424.44 L228.02,429.16 L228.22,424.44 L228.43,429.16 L228.63,424.44 L228.84,429.16 L229.04,424.20 L229.24,429.37 L229.45,424.20 L229.65,429.37 L229.86,424.20 L230.06,429.37 L230.27,424.20 L230.47,429.37 L230.67,422.71 L230.88,429.08 L231.08,422.71 L231.29,429.08 L231.49,422.71 L231.69,429.08 L231.90,422.71 L232.10,429.08 L232.31,425.82 L232.51,427.83 L232.71,425.82 L232.92,427.83 L233.12,425.82 L233.33,427.83 L233.53,425.82 L233.74,427.83 L233.94,424.89 L234.14,428.69 L234.35,424.89 L234.55,428.69 L234.76,424.89 L234.96,428.69 L235.16,424.89 L235.37,428.69 L235.57,424.81 L235.78,429.07 L235.98,424.81 L236.19,429.07 L236.39,424.81 L236.59,429.07 L236.80,424.81 L237.00,429.07 L237.21,422.13 L237.41,428.22 L237.61,422.13 L237.82,428.22 L238.02,422.13 L238.23,428.22 L238.43,422.13 L238.63,428.22 L238.84,425.04 L239.04,430.72 L239.25,425.04 L239.45,430.72 L239.66,425.04 L239.86,430.72 L240.06,425.04 L240.27,430.72 L240.47,425.73 L240.68,429.44 L240.88,425.73 L241.08,429.44 L241.29,425.73 L241.49,429.44 L241.70,425.73 L241.90,429.44 L242.11,424.33 L242.31,429.97 L242.51,424.33 L242.72,429.97 L242.92,424.33 L243.13,429.97 L243.33,424.33 L243.53,429.97 L243.74,423.44 L243.94,428.89 L244.15,423.44 L244.35,428.89 L244.55,423.44 L244.76,428.89 L244.96,423.44 L245.17,428.89 L245.37,425.33 L245.58,429.18 L245.78,425.33 L245.98,429.18 L246.19,425.33 L246.39,429.18 L246.60,425.33 L246.80,429.18 L247.00,422.72 L247.21,430.68 L247.41,422.72 L247.62,430.68 L247.82,422.72 L248.02,430.68 L248.23,422.72 L248.43,430.68 L248.64,425.16 L248.84,429.60 L249.05,425.16 L249.25,429.60 L249.45,425.16 L249.66,429.60 L249.86,425.16 L250.07,429.60 L250.27,423.23 L250.47,430.08 L250.68,423.23 L250.88,430.08 L251.09,423.23 L251.29,430.08 L251.50,423.23 L251.70,430.08 L251.90,425.29 L252.11,429.42 L252.31,425.29 L252.52,429.42 L252.72,425.29 L252.92,429.32 L253.13,425.42 L253.33,429.11 L253.54,423.25 L253.74,429.32 L253.94,423.59 L254.15,429.07 L254.35,423.93 L254.56,428.83 L254.76,424.28 L254.97,428.58 L255.17,425.97 L255.37,429.04 L255.58,426.00 L255.78,429.04 L255.99,426.00 L256.19,429.04 L256.39,426.00 L256.60,429.04 L256.80,424.99 L257.01,427.85 L257.21,424.99 L257.42,427.85 L257.62,424.99 L257.82,427.85 L258.03,424.99 L258.23,427.85 L258.44,424.79 L258.64,428.32 L258.84,424.79 L259.05,428.32 L259.25,424.79 L259.46,428.32 L259.66,424.79 L259.86,428.32 L260.07,425.90 L260.27,428.64 L260.48,425.90 L260.68,428.64 L260.89,425.90 L261.09,428.64 L261.29,425.90 L261.50,428.64 L261.70,426.21 L261.91,427.50 L262.11,426.21 L262.31,427.50 L262.52,426.21 L262.72,427.50 L262.93,426.21 L263.13,427.50 L263.33,425.27 L263.54,429.17 L263.74,425.27 L263.95,429.17 L264.15,425.27 L264.36,429.17 L264.56,425.27 L264.76,429.17 L264.97,425.44 L265.17,428.29 L265.38,425.44 L265.58,428.40 L265.78,425.09 L265.99,428.86 L266.19,424.64 L266.40,429.31 L266.60,424.25 L266.81,428.78 L267.01,423.81 L267.21,429.08 L267.42,423.37 L267.62,429.39 L267.83,422.92 L268.03,429.69 L268.23,420.98 L268.44,432.63 L268.64,420.98 L268.85,432.63 L269.05,420.98 L269.25,432.63 L269.46,420.98 L269.66,432.63 L269.87,422.79 L270.07,432.94 L270.28,422.79 L270.48,432.94 L270.68,422.79 L270.89,432.94 L271.09,422.79 L271.30,432.94 L271.50,422.60 L271.70,431.89 L271.91,422.60 L272.11,431.89 L272.32,422.60 L272.52,431.89 L272.73,422.60 L272.93,431.89 L273.13,422.65 L273.34,433.52 L273.54,422.65 L273.75,433.52 L273.95,422.65 L274.15,433.52 L274.36,422.65 L274.56,433.52 L274.77,422.84 L274.97,428.80 L275.17,422.84 L275.38,428.80 L275.58,422.84 L275.79,428.80 L275.99,422.84 L276.20,428.80 L276.40,423.12 L276.60,431.30 L276.81,423.12 L277.01,431.30 L277.22,423.12 L277.42,431.30 L277.62,423.12 L277.83,431.30 L278.03,424.52 L278.24,432.53 L278.44,424.52 L278.64,432.53 L278.85,424.52 L279.05,432.53 L279.26,424.52 L279.46,432.53 L279.67,423.75 L279.87,433.52 L280.07,423.75 L280.28,433.52 L280.48,423.75 L280.69,433.52 L280.89,423.75 L281.09,433.52 L281.30,423.92 L281.50,431.95 L281.71,423.92 L281.91,431.95 L282.12,423.92 L282.32,431.95 L282.52,423.92 L282.73,431.95 L282.93,424.02 L283.14,431.72 L283.34,424.02 L283.54,431.72 L283.75,424.02 L283.95,431.72 L284.16,424.02 L284.36,431.72 L284.56,420.97 L284.77,430.50 L284.97,420.97 L285.18,430.50 L285.38,420.97 L285.59,430.50 L285.79,420.97 L285.99,430.50 L286.20,424.78 L286.40,431.55 L286.61,424.78 L286.81,431.55 L287.01,424.78 L287.22,431.55 L287.42,424.78 L287.63,431.55 L287.83,424.26 L288.04,431.45 L288.24,424.26 L288.44,431.45 L288.65,424.26 L288.85,431.45 L289.06,424.26 L289.26,431.45 L289.46,422.43 L289.67,433.45 L289.87,422.43 L290.08,433.45 L290.28,422.43 L290.48,433.45 L290.69,422.43 L290.89,433.45 L291.10,423.71 L291.30,432.69 L291.51,423.93 L291.71,432.26 L291.91,424.15 L292.12,431.84 L292.32,424.37 L292.53,431.41 L292.73,424.89 L292.93,430.64 L293.14,425.08 L293.34,430.25 L293.55,425.28 L293.75,429.86 L293.95,425.47 L294.16,429.47 L294.36,425.34 L294.57,429.50 L294.77,425.59 L294.98,429.03 L295.18,425.83 L295.38,428.57 L295.59,426.08 L295.79,428.10 L296.00,426.21 L296.20,427.10 L296.40,426.29 L296.61,427.10 L296.81,426.29 L297.02,427.10 L297.22,426.29 L297.43,427.10 L297.63,426.16 L297.83,427.64 L298.04,426.16 L298.24,427.64 L298.45,426.16 L298.65,427.64 L298.85,426.16 L299.06,427.64 L299.26,425.93 L299.47,427.40 L299.67,425.93 L299.87,427.40 L300.08,425.93 L300.28,427.40 L300.49,425.93 L300.69,427.40 L300.90,426.02 L301.10,427.62 L301.30,426.02 L301.51,427.62 L301.71,426.02 L301.92,427.62 L302.12,426.02 L302.32,427.62 L302.53,426.34 L302.73,427.28 L302.94,426.34 L303.14,427.28 L303.35,426.34 L303.55,427.28 L303.75,426.34 L303.96,427.28 L304.16,426.33 L304.37,427.41 L304.57,426.33 L304.77,427.41 L304.98,426.33 L305.18,427.41 L305.39,426.33 L305.59,427.41 L305.79,426.35 L306.00,427.68 L306.20,426.35 L306.41,427.68 L306.61,426.35 L306.82,427.68 L307.02,426.35 L307.22,427.68 L307.43,426.49 L307.63,427.08 L307.84,426.49 L308.04,427.08 L308.24,426.49 L308.45,427.08 L308.65,426.49 L308.86,427.08 L309.06,425.95 L309.26,427.27 L309.47,425.95 L309.67,427.27 L309.88,425.95 L310.08,427.27 L310.29,425.95 L310.49,427.27 L310.69,426.62 L310.90,427.42 L311.10,426.62 L311.31,427.42 L311.51,426.62 L311.71,427.42 L311.92,426.62 L312.12,427.42 L312.33,426.52 L312.53,427.70 L312.74,426.52 L312.94,427.70 L313.14,426.52 L313.35,427.70 L313.55,426.52 L313.76,427.70 L313.96,426.17 L314.16,427.26 L314.37,426.17 L314.57,427.26 L314.78,426.17 L314.98,427.26 L315.18,426.17 L315.39,427.26 L315.59,426.22 L315.80,427.68 L316.00,426.22 L316.21,427.68 L316.41,426.22 L316.61,427.92 L316.82,425.66 L317.02,428.88 L317.23,425.63 L317.43,428.23 L317.63,425.16 L317.84,428.67 L318.04,424.69 L318.25,429.11 L318.45,424.22 L318.66,429.56 L318.86,419.87 L319.06,430.37 L319.27,419.34 L319.47,430.37 L319.68,419.34 L319.88,430.37 L320.08,419.34 L320.29,430.37 L320.49,422.68 L320.70,431.96 L320.90,422.68 L321.10,431.96 L321.31,422.68 L321.51,431.96 L321.72,422.68 L321.92,431.96 L322.13,421.50 L322.33,432.59 L322.53,421.50 L322.74,432.59 L322.94,421.50 L323.15,432.59 L323.35,421.50 L323.55,432.59 L323.76,424.70 L323.96,434.03 L324.17,424.70 L324.37,434.03 L324.57,424.70 L324.78,434.03 L324.98,424.70 L325.19,434.03 L325.39,419.63 L325.60,434.02 L325.80,419.63 L326.00,434.02 L326.21,419.63 L326.41,434.02 L326.62,419.63 L326.82,434.02 L327.02,424.62 L327.23,430.03 L327.43,424.62 L327.64,430.03 L327.84,424.62 L328.05,430.03 L328.25,424.62 L328.45,430.03 L328.66,422.78 L328.86,433.17 L329.07,422.78 L329.27,433.17 L329.47,422.78 L329.68,433.17 L329.88,422.78 L330.09,433.17 L330.29,419.66 L330.49,432.47 L330.70,419.66 L330.90,432.47 L331.11,419.66 L331.31,432.47 L331.52,419.66 L331.72,432.47 L331.92,419.29 L332.13,430.89 L332.33,419.29 L332.54,430.89 L332.74,419.29 L332.94,430.89 L333.15,419.29 L333.35,430.89 L333.56,419.55 L333.76,433.37 L333.97,419.55 L334.17,433.37 L334.37,419.55 L334.58,433.37 L334.78,419.55 L334.99,433.37 L335.19,420.03 L335.39,434.14 L335.60,420.03 L335.80,434.14 L336.01,420.03 L336.21,434.14 L336.41,420.03 L336.62,434.14 L336.82,423.80 L337.03,431.48 L337.23,423.80 L337.44,431.48 L337.64,423.80 L337.84,431.48 L338.05,423.80 L338.25,431.48 L338.46,425.07 L338.66,434.25 L338.86,425.07 L339.07,434.25 L339.27,425.07 L339.48,434.25 L339.68,425.07 L339.88,434.25 L340.09,422.41 L340.29,429.26 L340.50,422.41 L340.70,429.26 L340.91,422.41 L341.11,429.26 L341.31,422.41 L341.52,429.26 L341.72,424.88 L341.93,429.50 L342.13,424.88 L342.33,429.50 L342.54,424.88 L342.74,429.50 L342.95,424.88 L343.15,429.50 L343.36,419.19 L343.56,433.29 L343.76,419.19 L343.97,433.29 L344.17,419.19 L344.38,433.29 L344.58,419.19 L344.78,433.29 L344.99,425.22 L345.19,430.38 L345.40,425.22 L345.60,430.38 L345.80,425.22 L346.01,430.38 L346.21,425.22 L346.42,430.38 L346.62,423.21 L346.83,432.16 L347.03,423.21 L347.23,432.16 L347.44,423.21 L347.64,432.16 L347.85,423.21 L348.05,432.16 L348.25,423.99 L348.46,431.60 L348.66,423.99 L348.87,431.60 L349.07,423.99 L349.28,431.60 L349.48,423.99 L349.68,431.60 L349.89,425.22 L350.09,429.27 L350.30,425.29 L350.50,429.17 L350.70,425.36 L350.91,429.07 L351.11,425.42 L351.32,428.97 L351.52,422.97 L351.72,431.95 L351.93,423.16 L352.13,431.70 L352.34,423.35 L352.54,431.45 L352.75,423.54 L352.95,431.19 L353.15,425.50 L353.36,430.88 L353.56,425.58 L353.77,430.63 L353.97,425.66 L354.17,430.38 L354.38,425.75 L354.58,430.13 L354.79,423.22 L354.99,428.11 L355.19,423.22 L355.40,428.11 L355.60,423.22 L355.81,428.11 L356.01,423.22 L356.22,428.11 L356.42,423.89 L356.62,428.48 L356.83,423.89 L357.03,428.48 L357.24,423.89 L357.44,428.48 L357.64,423.89 L357.85,428.48 L358.05,424.90 L358.26,430.19 L358.46,424.90 L358.67,430.19 L358.87,424.90 L359.07,430.19 L359.28,424.90 L359.48,430.19 L359.69,423.40 L359.89,430.55 L360.09,423.40 L360.30,430.55 L360.50,423.40 L360.71,430.55 L360.91,423.40 L361.11,430.55 L361.32,423.54 L361.52,430.41 L361.73,423.54 L361.93,430.41 L362.14,423.54 L362.34,430.41 L362.54,423.54 L362.75,430.41 L362.95,425.03 L363.16,429.24 L363.36,425.03 L363.56,429.24 L363.77,425.03 L363.97,429.24 L364.18,425.03 L364.38,429.24 L364.59,423.38 L364.79,428.82 L364.99,423.38 L365.20,428.82 L365.40,423.38 L365.61,428.82 L365.81,423.38 L366.01,428.82 L366.22,423.12 L366.42,429.07 L366.63,423.12 L366.83,429.07 L367.03,423.12 L367.24,429.07 L367.44,423.12 L367.65,429.07 L367.85,424.10 L368.06,428.21 L368.26,424.10 L368.46,428.21 L368.67,424.10 L368.87,428.21 L369.08,424.10 L369.28,428.21 L369.48,424.95 L369.69,429.23 L369.89,424.95 L370.10,429.23 L370.30,424.95 L370.50,429.23 L370.71,424.95 L370.91,429.23 L371.12,423.21 L371.32,428.39 L371.53,423.21 L371.73,428.39 L371.93,423.21 L372.14,428.39 L372.34,423.21 L372.55,428.39 L372.75,423.08 L372.95,428.17 L373.16,423.08 L373.36,428.17 L373.57,423.08 L373.77,428.17 L373.98,423.08 L374.18,428.17 L374.38,424.97 L374.59,428.86 L374.79,424.97 L375.00,428.86 L375.20,424.97" stroke="#0072bd" stroke-dasharray="12.7 3.4 6.4 3.4"/>
<path d="M86.6,433.1V437.8M88.9,423.8V428.2M88.4,416.6V421.5M91.7,441.7V450.6M90.8,428.5V431.9M88.2,430.7V435.8M90.9,424.1V417.4M86.3,434.6V442.0M89.9,428.7V436.6M119.6,434.0V437.9M125.2,430.3V423.1M133.8,425.2V432.9M148.7,428.9V423.3M141.7,434.1V439.7M136.2,421.9V417.4M134.8,431.6V438.0M140.5,431.3V424.5M138.3,437.7V446.5M128.6,433.4V429.8M120.6,422.9V431.6M124.1,439.4V430.2M143.4,428.2V433.5M138.5,422.4V430.1M143.9,430.4V438.6M119.0,425.9V433.1M147.4,435.8V440.8M130.2,418.1V425.1M148.2,419.7V411.1M137.2,425.9V422.0M135.6,440.4V434.2M144.6,435.3V438.7M138.2,420.6V412.2M139.9,415.2V423.1M122.7,425.5V429.1M137.5,418.6V426.3M129.3,432.1V439.5M120.0,429.0V433.1M121.9,427.6V434.1M133.4,424.6V417.2M126.2,438.8V433.5M142.9,420.8V414.5M121.5,418.0V408.9M117.9,436.0V428.9M150.6,437.5V431.2M127.9,425.1V428.8M134.4,432.4V428.4M124.4,444.9V453.2M180.6,434.3V438.5M188.7,418.8V427.8M181.5,437.7V432.4M184.0,419.1V409.9M178.7,420.7V428.5M174.1,428.3V422.1M183.9,433.2V438.7M181.0,429.3V425.4M178.1,424.2V420.4M176.3,422.3V415.2M185.3,425.6V417.7M177.6,420.4V411.8M182.8,431.7V437.2M176.4,425.9V417.1M186.4,439.0V434.0M178.7,422.1V431.0M180.8,426.5V435.3M249.7,438.3V433.0M227.0,417.3V422.0M245.7,425.7V420.6M230.5,429.5V425.9M227.7,432.8V428.0M228.1,433.4V442.3M239.7,435.9V439.2M230.7,431.6V439.2M229.5,427.6V419.6M225.1,428.9V434.6M232.0,437.9V431.1M245.8,429.6V425.0M222.8,434.1V426.9M236.9,426.5V434.0M240.6,414.1V421.8M223.6,423.1V429.3M231.1,429.9V420.9M249.9,439.5V447.9M280.2,433.5V439.1M270.6,428.6V419.7M272.4,441.5V436.5M285.6,428.8V438.0M269.5,427.0V423.3M276.8,432.8V440.4M272.4,432.9V437.9M287.6,414.0V419.8M269.9,436.4V443.5M275.8,435.3V431.7M287.7,433.5V438.2M283.8,418.9V415.0M284.2,412.4V420.1M290.8,425.2V420.6M268.6,432.9V439.1M283.3,430.8V425.5M285.1,419.9V415.2M285.2,434.3V425.4M284.4,417.1V410.8M269.7,417.4V410.2M323.2,426.0V433.2M342.4,427.0V432.6M335.4,441.4V447.5M324.4,425.9V431.9M349.1,419.4V414.5M348.2,425.7V422.2M347.5,430.5V438.3M344.4,429.0V436.4M335.3,428.6V436.9M328.3,431.6V435.9M339.0,431.9V436.6M323.7,434.4V427.5M338.0,419.0V427.9M321.1,427.8V433.9M319.5,420.7V416.2M341.0,429.5V436.3M329.6,427.1V436.1M340.4,428.9V437.4M342.9,424.3V415.6M344.6,421.6V427.4M337.9,425.9V430.8M345.0,432.5V441.0M339.2,433.3V441.3M347.5,415.6V424.0M346.5,429.7V424.1M320.4,429.8V424.8M327.3,417.0V421.7M331.0,419.8V411.3M326.8,423.8V432.5M324.5,430.6V425.1M345.8,410.6V402.1M319.8,424.8V419.2M372.5,436.2V431.9M369.7,422.3V430.1M352.8,429.4V420.8M370.9,424.9V429.1M363.7,430.8V438.5M367.0,425.4V418.0M353.8,433.1V429.6M361.7,427.8V436.6M367.5,423.4V429.6M370.0,427.3V432.2M370.2,431.0V427.5M220.5,434.3V480.5M221.0,430.3V500.3M221.5,440.9V500.3M222.0,438.2V487.1M222.6,434.3V460.7M223.6,427.7V451.4" stroke="#0072bd" stroke-linejoin="miter"/>
</g>
<path d="M69.00,506.90v-3.50M69.00,335.20v3.50M171.07,506.90v-3.50M171.07,335.20v3.50M273.13,506.90v-3.50M273.13,335.20v3.50M375.20,506.90v-3.50M375.20,335.20v3.50M69.00,493.69h3.50M375.20,493.69h-3.50M69.00,427.65h3.50M375.20,427.65h-3.50M69.00,361.62h3.50M375.20,361.62h-3.50" stroke="#4a4a4a" stroke-width="1.3" fill="none"/>
<rect x="69.00" y="335.20" width="306.20" height="171.70" fill="none" stroke="#4a4a4a" stroke-width="1.6"/>
<text x="61.50" y="501.19" font-size="18.5" text-anchor="end">-0.5</text>
<text x="61.50" y="435.15" font-size="18.5" text-anchor="end">0</text>
<text x="61.50" y="369.12" font-size="18.5" text-anchor="end">0.5</text>
<text x="69.00" y="533.40" font-size="18.5" text-anchor="middle">0</text>
<text x="171.07" y="533.40" font-size="18.5" text-anchor="middle">2</text>
<text x="273.13" y="533.40" font-size="18.5" text-anchor="middle">4</text>
<text x="375.20" y="533.40" font-size="18.5" text-anchor="middle">6</text>
<text x="222.10" y="561.80" font-size="21.3" text-anchor="middle">time / s</text>
<text transform="translate(17.50,421.05) rotate(-90)" font-size="21.3" text-anchor="middle">torque / (Nm)</text>
<g stroke="#e2e2e2" stroke-width="1"><line x1="574.80" y1="335.20" x2="574.80" y2="506.90"/><line x1="677.50" y1="335.20" x2="677.50" y2="506.90"/><line x1="472.10" y1="492.59" x2="780.20" y2="492.59"/><line x1="472.10" y1="421.05" x2="780.20" y2="421.05"/><line x1="472.10" y1="349.51" x2="780.20" y2="349.51"/></g>
<g clip-path="url(#cBr)" fill="none" stroke-width="4.2" stroke-linejoin="round">
<path d="M472.10,421.05 L472.61,418.80 L473.13,416.56 L473.64,414.32 L474.15,412.08 L474.67,409.86 L475.18,407.64 L475.69,405.44 L476.21,403.26 L476.72,401.09 L477.24,398.94 L477.75,396.82 L478.26,394.71 L478.78,392.64 L479.29,390.59 L479.80,388.57 L480.32,386.58 L480.83,384.63 L481.34,382.72 L481.86,380.84 L482.37,379.00 L482.88,377.20 L483.40,375.45 L483.91,373.74 L484.42,372.08 L484.94,370.46 L485.45,368.90 L485.96,367.39 L486.48,365.93 L486.99,364.52 L487.50,363.17 L488.02,361.88 L488.53,360.65 L489.05,359.47 L489.56,358.36 L490.07,357.31 L490.59,356.32 L491.10,355.39 L491.61,354.53 L492.13,353.74 L492.64,353.01 L493.15,352.35 L493.67,351.76 L494.18,351.23 L494.69,350.78 L495.21,350.39 L495.72,350.07 L496.23,349.83 L496.75,349.65 L497.26,349.54 L497.78,349.51 L498.29,349.54 L498.80,349.65 L499.32,349.83 L499.83,350.07 L500.34,350.39 L500.86,350.78 L501.37,351.23 L501.88,351.76 L502.40,352.35 L502.91,353.01 L503.42,353.74 L503.94,354.53 L504.45,355.39 L504.96,356.32 L505.48,357.31 L505.99,358.36 L506.50,359.47 L507.02,360.65 L507.53,361.88 L508.05,363.17 L508.56,364.52 L509.07,365.93 L509.59,367.39 L510.10,368.90 L510.61,370.46 L511.13,372.08 L511.64,373.74 L512.15,375.45 L512.67,377.20 L513.18,379.00 L513.69,380.84 L514.21,382.72 L514.72,384.63 L515.23,386.58 L515.75,388.57 L516.26,390.59 L516.77,392.64 L517.29,394.71 L517.80,396.82 L518.32,398.94 L518.83,401.09 L519.34,403.26 L519.86,405.44 L520.37,407.64 L520.88,409.86 L521.40,412.08 L521.91,414.32 L522.42,416.56 L522.94,418.80 L523.45,421.05 L523.96,423.30 L524.48,425.54 L524.99,427.78 L525.50,430.02 L526.02,432.24 L526.53,434.46 L527.04,436.66 L527.56,438.84 L528.07,441.01 L528.59,443.16 L529.10,445.28 L529.61,447.39 L530.13,449.46 L530.64,451.51 L531.15,453.53 L531.67,455.52 L532.18,457.47 L532.69,459.38 L533.21,461.26 L533.72,463.10 L534.23,464.90 L534.75,466.65 L535.26,468.36 L535.77,470.02 L536.29,471.64 L536.80,473.20 L537.31,474.71 L537.83,476.17 L538.34,477.58 L538.86,478.93 L539.37,480.22 L539.88,481.45 L540.40,482.63 L540.91,483.74 L541.42,484.79 L541.94,485.78 L542.45,486.71 L542.96,487.57 L543.48,488.36 L543.99,489.09 L544.50,489.75 L545.02,490.34 L545.53,490.87 L546.04,491.32 L546.56,491.71 L547.07,492.03 L547.58,492.27 L548.10,492.45 L548.61,492.56 L549.12,492.59 L549.64,492.56 L550.15,492.45 L550.67,492.27 L551.18,492.03 L551.69,491.71 L552.21,491.32 L552.72,490.87 L553.23,490.34 L553.75,489.75 L554.26,489.09 L554.77,488.36 L555.29,487.57 L555.80,486.71 L556.31,485.78 L556.83,484.79 L557.34,483.74 L557.85,482.63 L558.37,481.45 L558.88,480.22 L559.39,478.93 L559.91,477.58 L560.42,476.17 L560.94,474.71 L561.45,473.20 L561.96,471.64 L562.48,470.02 L562.99,468.36 L563.50,466.65 L564.02,464.90 L564.53,463.10 L565.04,461.26 L565.56,459.38 L566.07,457.47 L566.58,455.52 L567.10,453.53 L567.61,451.51 L568.12,449.46 L568.64,447.39 L569.15,445.28 L569.67,443.16 L570.18,441.01 L570.69,438.84 L571.21,436.66 L571.72,434.46 L572.23,432.24 L572.75,430.02 L573.26,427.78 L573.77,425.54 L574.29,423.30 L574.80,421.05 L575.31,418.80 L575.83,416.56 L576.34,414.32 L576.85,412.08 L577.37,409.86 L577.88,407.64 L578.39,405.44 L578.91,403.26 L579.42,401.09 L579.94,398.94 L580.45,396.82 L580.96,394.71 L581.48,392.64 L581.99,390.59 L582.50,388.57 L583.02,386.58 L583.53,384.63 L584.04,382.72 L584.56,380.84 L585.07,379.00 L585.58,377.20 L586.10,375.45 L586.61,373.74 L587.12,372.08 L587.64,370.46 L588.15,368.90 L588.66,367.39 L589.18,365.93 L589.69,364.52 L590.21,363.17 L590.72,361.88 L591.23,360.65 L591.75,359.47 L592.26,358.36 L592.77,357.31 L593.29,356.32 L593.80,355.39 L594.31,354.53 L594.83,353.74 L595.34,353.01 L595.85,352.35 L596.37,351.76 L596.88,351.23 L597.39,350.78 L597.91,350.39 L598.42,350.07 L598.93,349.83 L599.45,349.65 L599.96,349.54 L600.48,349.51 L600.99,349.54 L601.50,349.65 L602.02,349.83 L602.53,350.07 L603.04,350.39 L603.56,350.78 L604.07,351.23 L604.58,351.76 L605.10,352.35 L605.61,353.01 L606.12,353.74 L606.64,354.53 L607.15,355.39 L607.66,356.32 L608.18,357.31 L608.69,358.36 L609.20,359.47 L609.72,360.65 L610.23,361.88 L610.75,363.17 L611.26,364.52 L611.77,365.93 L612.29,367.39 L612.80,368.90 L613.31,370.46 L613.83,372.08 L614.34,373.74 L614.85,375.45 L615.37,377.20 L615.88,379.00 L616.39,380.84 L616.91,382.72 L617.42,384.63 L617.93,386.58 L618.45,388.57 L618.96,390.59 L619.47,392.64 L619.99,394.71 L620.50,396.82 L621.02,398.94 L621.53,401.09 L622.04,403.26 L622.56,405.44 L623.07,407.64 L623.58,409.86 L624.10,412.08 L624.61,414.32 L625.12,416.56 L625.64,418.80 L626.15,421.05 L626.66,423.30 L627.18,425.54 L627.69,427.78 L628.20,430.02 L628.72,432.24 L629.23,434.46 L629.74,436.66 L630.26,438.84 L630.77,441.01 L631.29,443.16 L631.80,445.28 L632.31,447.39 L632.83,449.46 L633.34,451.51 L633.85,453.53 L634.37,455.52 L634.88,457.47 L635.39,459.38 L635.91,461.26 L636.42,463.10 L636.93,464.90 L637.45,466.65 L637.96,468.36 L638.47,470.02 L638.99,471.64 L639.50,473.20 L640.01,474.71 L640.53,476.17 L641.04,477.58 L641.56,478.93 L642.07,480.22 L642.58,481.45 L643.10,482.63 L643.61,483.74 L644.12,484.79 L644.64,485.78 L645.15,486.71 L645.66,487.57 L646.18,488.36 L646.69,489.09 L647.20,489.75 L647.72,490.34 L648.23,490.87 L648.74,491.32 L649.26,491.71 L649.77,492.03 L650.28,492.27 L650.80,492.45 L651.31,492.56 L651.83,492.59 L652.34,492.56 L652.85,492.45 L653.37,492.27 L653.88,492.03 L654.39,491.71 L654.91,491.32 L655.42,490.87 L655.93,490.34 L656.45,489.75 L656.96,489.09 L657.47,488.36 L657.99,487.57 L658.50,486.71 L659.01,485.78 L659.53,484.79 L660.04,483.74 L660.55,482.63 L661.07,481.45 L661.58,480.22 L662.10,478.93 L662.61,477.58 L663.12,476.17 L663.64,474.71 L664.15,473.20 L664.66,471.64 L665.18,470.02 L665.69,468.36 L666.20,466.65 L666.72,464.90 L667.23,463.10 L667.74,461.26 L668.26,459.38 L668.77,457.47 L669.28,455.52 L669.80,453.53 L670.31,451.51 L670.82,449.46 L671.34,447.39 L671.85,445.28 L672.37,443.16 L672.88,441.01 L673.39,438.84 L673.91,436.66 L674.42,434.46 L674.93,432.24 L675.45,430.02 L675.96,427.78 L676.47,425.54 L676.99,423.30 L677.50,421.05 L678.01,418.80 L678.53,416.56 L679.04,414.32 L679.55,412.08 L680.07,409.86 L680.58,407.64 L681.09,405.44 L681.61,403.26 L682.12,401.09 L682.63,398.94 L683.15,396.82 L683.66,394.71 L684.18,392.64 L684.69,390.59 L685.20,388.57 L685.72,386.58 L686.23,384.63 L686.74,382.72 L687.26,380.84 L687.77,379.00 L688.28,377.20 L688.80,375.45 L689.31,373.74 L689.82,372.08 L690.34,370.46 L690.85,368.90 L691.36,367.39 L691.88,365.93 L692.39,364.52 L692.90,363.17 L693.42,361.88 L693.93,360.65 L694.45,359.47 L694.96,358.36 L695.47,357.31 L695.99,356.32 L696.50,355.39 L697.01,354.53 L697.53,353.74 L698.04,353.01 L698.55,352.35 L699.07,351.76 L699.58,351.23 L700.09,350.78 L700.61,350.39 L701.12,350.07 L701.63,349.83 L702.15,349.65 L702.66,349.54 L703.18,349.51 L703.69,349.54 L704.20,349.65 L704.72,349.83 L705.23,350.07 L705.74,350.39 L706.26,350.78 L706.77,351.23 L707.28,351.76 L707.80,352.35 L708.31,353.01 L708.82,353.74 L709.34,354.53 L709.85,355.39 L710.36,356.32 L710.88,357.31 L711.39,358.36 L711.90,359.47 L712.42,360.65 L712.93,361.88 L713.45,363.17 L713.96,364.52 L714.47,365.93 L714.99,367.39 L715.50,368.90 L716.01,370.46 L716.53,372.08 L717.04,373.74 L717.55,375.45 L718.07,377.20 L718.58,379.00 L719.09,380.84 L719.61,382.72 L720.12,384.63 L720.63,386.58 L721.15,388.57 L721.66,390.59 L722.17,392.64 L722.69,394.71 L723.20,396.82 L723.72,398.94 L724.23,401.09 L724.74,403.26 L725.26,405.44 L725.77,407.64 L726.28,409.86 L726.80,412.08 L727.31,414.32 L727.82,416.56 L728.34,418.80 L728.85,421.05 L729.36,423.30 L729.88,425.54 L730.39,427.78 L730.90,430.02 L731.42,432.24 L731.93,434.46 L732.44,436.66 L732.96,438.84 L733.47,441.01 L733.99,443.16 L734.50,445.28 L735.01,447.39 L735.53,449.46 L736.04,451.51 L736.55,453.53 L737.07,455.52 L737.58,457.47 L738.09,459.38 L738.61,461.26 L739.12,463.10 L739.63,464.90 L740.15,466.65 L740.66,468.36 L741.17,470.02 L741.69,471.64 L742.20,473.20 L742.71,474.71 L743.23,476.17 L743.74,477.58 L744.26,478.93 L744.77,480.22 L745.28,481.45 L745.80,482.63 L746.31,483.74 L746.82,484.79 L747.34,485.78 L747.85,486.71 L748.36,487.57 L748.88,488.36 L749.39,489.09 L749.90,489.75 L750.42,490.34 L750.93,490.87 L751.44,491.32 L751.96,491.71 L752.47,492.03 L752.98,492.27 L753.50,492.45 L754.01,492.56 L754.53,492.59 L755.04,492.56 L755.55,492.45 L756.07,492.27 L756.58,492.03 L757.09,491.71 L757.61,491.32 L758.12,490.87 L758.63,490.34 L759.15,489.75 L759.66,489.09 L760.17,488.36 L760.69,487.57 L761.20,486.71 L761.71,485.78 L762.23,484.79 L762.74,483.74 L763.25,482.63 L763.77,481.45 L764.28,480.22 L764.80,478.93 L765.31,477.58 L765.82,476.17 L766.34,474.71 L766.85,473.20 L767.36,471.64 L767.88,470.02 L768.39,468.36 L768.90,466.65 L769.42,464.90 L769.93,463.10 L770.44,461.26 L770.96,459.38 L771.47,457.47 L771.98,455.52 L772.50,453.53 L773.01,451.51 L773.52,449.46 L774.04,447.39 L774.55,445.28 L775.07,443.16 L775.58,441.01 L776.09,438.84 L776.61,436.66 L777.12,434.46 L777.63,432.24 L778.15,430.02 L778.66,427.78 L779.17,425.54 L779.69,423.30 L780.20,421.05" stroke="#ff0000"/>
<path d="M472.10,421.05 L472.61,421.05 L473.13,421.05 L473.64,421.05 L474.15,421.04 L474.67,421.04 L475.18,421.03 L475.69,421.02 L476.21,421.01 L476.72,421.00 L477.24,420.99 L477.75,420.97 L478.26,420.95 L478.78,420.92 L479.29,420.89 L479.80,420.86 L480.32,420.83 L480.83,420.79 L481.34,420.74 L481.86,420.69 L482.37,414.16 L482.88,406.74 L483.40,405.07 L483.91,403.69 L484.42,402.57 L484.94,401.65 L485.45,400.90 L485.96,400.27 L486.48,399.73 L486.99,399.24 L487.50,398.75 L488.02,398.22 L488.53,397.62 L489.05,396.90 L489.56,396.01 L490.07,394.92 L490.59,393.66 L491.10,392.31 L491.61,390.93 L492.13,389.61 L492.64,388.41 L493.15,387.42 L493.67,386.71 L494.18,386.17 L494.69,385.65 L495.21,385.16 L495.72,384.73 L496.23,384.37 L496.75,384.09 L497.26,383.91 L497.78,383.85 L498.29,383.85 L498.80,383.85 L499.32,383.85 L499.83,383.85 L500.34,383.85 L500.86,383.85 L501.37,383.85 L501.88,383.85 L502.40,383.85 L502.91,383.85 L503.42,383.85 L503.94,383.85 L504.45,383.85 L504.96,383.85 L505.48,383.85 L505.99,383.85 L506.50,383.85 L507.02,383.87 L507.53,383.89 L508.05,383.92 L508.56,383.96 L509.07,384.00 L509.59,384.06 L510.10,384.11 L510.61,384.18 L511.13,384.25 L511.64,384.32 L512.15,384.40 L512.67,384.48 L513.18,384.56 L513.69,384.66 L514.21,384.77 L514.72,384.91 L515.23,385.08 L515.75,385.28 L516.26,385.53 L516.77,385.83 L517.29,386.24 L517.80,387.10 L518.32,388.38 L518.83,389.99 L519.34,391.85 L519.86,393.86 L520.37,396.51 L520.88,400.00 L521.40,403.82 L521.91,407.46 L522.42,410.87 L522.94,414.32 L523.45,417.76 L523.96,421.14 L524.48,424.40 L524.99,427.49 L525.50,430.48 L526.02,433.42 L526.53,436.23 L527.04,438.81 L527.56,441.08 L528.07,443.05 L528.59,444.82 L529.10,446.45 L529.61,448.00 L530.13,449.53 L530.64,451.10 L531.15,452.72 L531.67,454.35 L532.18,455.97 L532.69,457.54 L533.21,459.02 L533.72,460.40 L534.23,461.66 L534.75,462.83 L535.26,463.94 L535.77,465.03 L536.29,466.12 L536.80,467.15 L537.31,468.12 L537.83,469.16 L538.34,470.41 L538.86,472.13 L539.37,474.32 L539.88,476.75 L540.40,479.21 L540.91,481.47 L541.42,483.29 L541.94,484.77 L542.45,486.17 L542.96,487.47 L543.48,488.67 L543.99,489.79 L544.50,490.82 L545.02,491.75 L545.53,492.59 L546.04,493.39 L546.56,494.18 L547.07,494.92 L547.58,495.59 L548.10,496.16 L548.61,496.60 L549.12,496.88 L549.64,497.07 L550.15,497.24 L550.67,497.39 L551.18,497.50 L551.69,497.57 L552.21,497.60 L552.72,497.60 L553.23,497.60 L553.75,497.60 L554.26,497.59 L554.77,497.59 L555.29,497.58 L555.80,497.57 L556.31,497.56 L556.83,497.55 L557.34,497.53 L557.85,497.52 L558.37,497.50 L558.88,497.47 L559.39,497.45 L559.91,497.42 L560.42,497.39 L560.94,497.36 L561.45,497.32 L561.96,497.28 L562.48,497.23 L562.99,497.19 L563.50,497.13 L564.02,497.08 L564.53,497.02 L565.04,496.95 L565.56,496.88 L566.07,495.86 L566.58,493.45 L567.10,490.43 L567.61,487.58 L568.12,484.99 L568.64,482.27 L569.15,479.48 L569.67,476.70 L570.18,473.99 L570.69,471.36 L571.21,468.74 L571.72,466.16 L572.23,463.62 L572.75,461.11 L573.26,458.65 L573.77,456.20 L574.29,453.79 L574.80,451.42 L575.31,449.09 L575.83,446.80 L576.34,444.58 L576.85,442.41 L577.37,440.28 L577.88,438.17 L578.39,436.06 L578.91,433.93 L579.42,431.74 L579.94,429.52 L580.45,427.36 L580.96,425.34 L581.48,423.40 L581.99,421.48 L582.50,419.67 L583.02,418.06 L583.53,416.76 L584.04,415.73 L584.56,414.88 L585.07,414.16 L585.58,413.52 L586.10,412.94 L586.61,412.36 L587.12,411.76 L587.64,411.07 L588.15,410.28 L588.66,409.32 L589.18,408.17 L589.69,406.40 L590.21,403.90 L590.72,401.06 L591.23,398.29 L591.75,396.01 L592.26,394.08 L592.77,392.14 L593.29,390.29 L593.80,388.60 L594.31,387.14 L594.83,386.01 L595.34,385.28 L595.85,384.79 L596.37,384.34 L596.88,383.92 L597.39,383.55 L597.91,383.22 L598.42,382.94 L598.93,382.72 L599.45,382.55 L599.96,382.45 L600.48,382.42 L600.99,382.42 L601.50,382.42 L602.02,382.42 L602.53,382.42 L603.04,382.42 L603.56,382.42 L604.07,382.42 L604.58,382.42 L605.10,382.42 L605.61,382.42 L606.12,382.42 L606.64,382.42 L607.15,382.42 L607.66,382.42 L608.18,382.42 L608.69,382.42 L609.20,382.42 L609.72,382.42 L610.23,382.42 L610.75,382.42 L611.26,382.42 L611.77,382.42 L612.29,382.42 L612.80,382.42 L613.31,382.42 L613.83,382.42 L614.34,382.42 L614.85,382.42 L615.37,382.42 L615.88,382.42 L616.39,382.42 L616.91,382.42 L617.42,382.42 L617.93,382.42 L618.45,382.42 L618.96,382.42 L619.47,382.42 L619.99,382.42 L620.50,383.20 L621.02,385.16 L621.53,387.71 L622.04,390.29 L622.56,392.94 L623.07,395.98 L623.58,399.22 L624.10,402.45 L624.61,405.59 L625.12,408.75 L625.64,411.99 L626.15,415.35 L626.66,418.90 L627.18,423.01 L627.69,427.72 L628.20,432.59 L628.72,437.20 L629.23,441.13 L629.74,443.94 L630.26,445.93 L630.77,447.68 L631.29,449.24 L631.80,450.62 L632.31,451.87 L632.83,453.01 L633.34,454.07 L633.85,455.09 L634.37,456.11 L634.88,457.05 L635.39,457.89 L635.91,458.66 L636.42,459.42 L636.93,460.23 L637.45,461.11 L637.96,462.10 L638.47,463.16 L638.99,464.27 L639.50,465.41 L640.01,466.52 L640.53,467.61 L641.04,468.70 L641.56,469.83 L642.07,471.03 L642.58,472.34 L643.10,473.79 L643.61,475.42 L644.12,477.66 L644.64,480.59 L645.15,483.68 L645.66,486.42 L646.18,488.30 L646.69,489.56 L647.20,490.74 L647.72,491.76 L648.23,492.58 L648.74,493.11 L649.26,493.31 L649.77,493.31 L650.28,493.31 L650.80,493.31 L651.31,493.31 L651.83,493.31 L652.34,493.31 L652.85,493.31 L653.37,493.31 L653.88,493.31 L654.39,493.31 L654.91,493.31 L655.42,493.31 L655.93,493.31 L656.45,493.32 L656.96,493.36 L657.47,493.43 L657.99,493.51 L658.50,493.61 L659.01,493.72 L659.53,493.84 L660.04,493.96 L660.55,494.09 L661.07,494.21 L661.58,494.33 L662.10,494.44 L662.61,494.54 L663.12,494.62 L663.64,494.68 L664.15,494.72 L664.66,494.74 L665.18,494.66 L665.69,494.44 L666.20,494.12 L666.72,493.73 L667.23,493.31 L667.74,492.77 L668.26,492.03 L668.77,491.13 L669.28,490.07 L669.80,488.88 L670.31,487.58 L670.82,485.99 L671.34,483.98 L671.85,481.64 L672.37,479.09 L672.88,476.42 L673.39,473.73 L673.91,471.13 L674.42,468.61 L674.93,466.05 L675.45,463.34 L675.96,460.40 L676.47,456.96 L676.99,453.19 L677.50,449.67 L678.01,446.55 L678.53,443.58 L679.04,440.75 L679.55,438.02 L680.07,435.36 L680.58,432.55 L681.09,429.60 L681.61,426.83 L682.12,424.59 L682.63,423.20 L683.15,422.46 L683.66,421.91 L684.18,421.47 L684.69,421.05 L685.20,420.66 L685.72,420.33 L686.23,420.02 L686.74,419.70 L687.26,419.34 L687.77,418.90 L688.28,418.40 L688.80,417.84 L689.31,417.19 L689.82,416.44 L690.34,415.54 L690.85,414.46 L691.36,413.18 L691.88,410.75 L692.39,406.96 L692.90,402.88 L693.42,399.59 L693.93,397.08 L694.45,394.72 L694.96,392.61 L695.47,390.86 L695.99,389.57 L696.50,388.56 L697.01,387.60 L697.53,386.74 L698.04,386.00 L698.55,385.42 L699.07,385.05 L699.58,384.92 L700.09,384.92 L700.61,384.92 L701.12,384.92 L701.63,384.92 L702.15,384.92 L702.66,384.92 L703.18,384.92 L703.69,384.92 L704.20,384.92 L704.72,384.92 L705.23,384.92 L705.74,384.92 L706.26,384.92 L706.77,384.92 L707.28,384.92 L707.80,384.92 L708.31,384.92 L708.82,384.92 L709.34,384.92 L709.85,384.92 L710.36,384.92 L710.88,384.92 L711.39,384.92 L711.90,384.92 L712.42,384.92 L712.93,384.92 L713.45,384.92 L713.96,384.92 L714.47,384.92 L714.99,384.92 L715.50,384.92 L716.01,384.92 L716.53,384.92 L717.04,384.92 L717.55,384.92 L718.07,384.92 L718.58,384.97 L719.09,385.10 L719.61,385.30 L720.12,385.58 L720.63,385.91 L721.15,386.29 L721.66,386.71 L722.17,387.39 L722.69,388.44 L723.20,389.71 L723.72,391.00 L724.23,392.26 L724.74,393.53 L725.26,394.87 L725.77,396.30 L726.28,397.88 L726.80,399.64 L727.31,401.63 L727.82,403.88 L728.34,406.91 L728.85,410.87 L729.36,415.27 L729.88,419.62 L730.39,424.14 L730.90,429.07 L731.42,433.96 L731.93,438.36 L732.44,441.80 L732.96,444.49 L733.47,446.93 L733.99,449.10 L734.50,451.01 L735.01,452.63 L735.53,453.96 L736.04,455.06 L736.55,456.02 L737.07,456.87 L737.58,457.62 L738.09,458.31 L738.61,458.97 L739.12,459.54 L739.63,460.04 L740.15,460.53 L740.66,461.11 L741.17,461.75 L741.69,462.39 L742.20,463.05 L742.71,463.74 L743.23,464.48 L743.74,465.29 L744.26,466.20 L744.77,467.22 L745.28,468.37 L745.80,469.66 L746.31,471.13 L746.82,473.73 L747.34,477.59 L747.85,481.44 L748.36,484.01 L748.88,485.43 L749.39,486.70 L749.90,487.79 L750.42,488.72 L750.93,489.47 L751.44,490.05 L751.96,490.45 L752.47,490.74 L752.98,491.01 L753.50,491.25 L754.01,491.46 L754.53,491.64 L755.04,491.77 L755.55,491.85 L756.07,491.88 L756.58,491.88 L757.09,491.87 L757.61,491.87 L758.12,491.87 L758.63,491.86 L759.15,491.85 L759.66,491.84 L760.17,491.83 L760.69,491.82 L761.20,491.80 L761.71,491.79 L762.23,491.77 L762.74,491.75 L763.25,491.72 L763.77,491.70 L764.28,491.67 L764.80,491.64 L765.31,491.60 L765.82,491.57 L766.34,491.53 L766.85,491.48 L767.36,491.44 L767.88,491.39 L768.39,491.34 L768.90,491.28 L769.42,491.22 L769.93,491.16 L770.44,490.94 L770.96,490.46 L771.47,489.81 L771.98,489.06 L772.50,488.30 L773.01,487.59 L773.52,486.88 L774.04,486.06 L774.55,485.01 L775.07,483.65 L775.58,481.86 L776.09,476.50 L776.61,470.41 L777.12,467.34 L777.63,464.94 L778.15,462.94 L778.66,461.10 L779.17,459.15 L779.69,456.82 L780.20,453.96" stroke="#0000ff" stroke-dasharray="12.7 13.2"/>
<path d="M472.10,421.96 L472.61,419.71 L473.13,419.34 L473.64,417.10 L474.15,412.87 L474.67,410.65 L475.18,407.07 L475.69,404.87 L476.21,405.30 L476.72,403.14 L477.24,399.20 L477.75,397.09 L478.26,399.66 L478.78,397.61 L479.29,391.55 L479.80,389.57 L480.32,384.03 L480.83,382.12 L481.34,375.98 L481.86,374.15 L482.37,383.36 L482.88,388.98 L483.40,390.45 L483.91,390.12 L484.42,386.33 L484.94,385.63 L485.45,385.92 L485.96,385.54 L486.48,383.79 L486.99,383.71 L487.50,384.31 L488.02,383.54 L488.53,384.20 L489.05,383.75 L489.56,383.12 L490.07,383.16 L490.59,383.51 L491.10,383.94 L491.61,384.33 L492.13,384.86 L492.64,385.43 L493.15,385.76 L493.67,386.94 L494.18,386.95 L494.69,388.44 L495.21,388.53 L495.72,387.11 L496.23,387.23 L496.75,388.78 L497.26,388.86 L497.78,386.64 L498.29,386.67 L498.80,386.85 L499.32,387.02 L499.83,389.07 L500.34,389.39 L500.86,387.24 L501.37,387.69 L501.88,388.03 L502.40,388.62 L502.91,390.11 L503.42,390.84 L503.94,389.94 L504.45,390.80 L504.96,391.51 L505.48,392.50 L505.99,396.85 L506.50,397.96 L507.02,396.72 L507.53,397.93 L508.05,399.83 L508.56,401.14 L509.07,402.52 L509.59,403.93 L510.10,404.83 L510.61,406.33 L511.13,409.65 L511.64,411.24 L512.15,412.73 L512.67,414.41 L513.18,416.37 L513.69,418.12 L514.21,419.81 L514.72,421.58 L515.23,422.66 L515.75,424.44 L516.26,428.60 L516.77,431.29 L517.29,432.67 L517.80,434.58 L518.32,429.13 L518.83,429.67 L519.34,432.76 L519.86,432.93 L520.37,430.54 L520.88,429.26 L521.40,437.42 L521.91,436.02 L522.42,430.11 L522.94,428.90 L523.45,426.72 L523.96,425.59 L524.48,422.05 L524.99,421.20 L525.50,423.10 L526.02,422.38 L526.53,415.27 L527.04,414.89 L527.56,419.06 L528.07,419.26 L528.59,419.32 L529.10,419.81 L529.61,420.38 L530.13,420.93 L530.64,418.42 L531.15,418.82 L531.67,424.23 L532.18,424.57 L532.69,418.08 L533.21,418.47 L533.72,421.78 L534.23,422.32 L534.75,424.22 L535.26,424.81 L535.77,425.87 L536.29,426.39 L536.80,424.87 L537.31,425.41 L537.83,423.70 L538.34,423.86 L538.86,423.79 L539.37,422.90 L539.88,424.14 L540.40,422.85 L540.91,419.56 L541.42,418.79 L541.94,421.55 L542.45,421.08 L542.96,415.78 L543.48,415.36 L543.99,420.46 L544.50,420.09 L545.02,427.22 L545.53,426.23 L546.04,414.96 L546.56,415.00 L547.07,417.90 L547.58,417.52 L548.10,419.35 L548.61,418.64 L549.12,416.97 L549.64,416.75 L550.15,417.20 L550.67,416.88 L551.18,413.32 L551.69,412.93 L552.21,414.24 L552.72,413.79 L553.23,415.48 L553.75,414.89 L554.26,411.96 L554.77,411.24 L555.29,411.47 L555.80,410.62 L556.31,407.22 L556.83,406.24 L557.34,408.39 L557.85,407.29 L558.37,407.42 L558.88,406.21 L559.39,402.46 L559.91,401.14 L560.42,400.21 L560.94,398.78 L561.45,397.38 L561.96,395.86 L562.48,396.14 L562.99,394.52 L563.50,390.11 L564.02,388.41 L564.53,385.34 L565.04,382.49 L565.56,388.06 L566.07,388.39 L566.58,378.84 L567.10,379.12 L567.61,387.42 L568.12,387.96 L568.64,376.08 L569.15,376.77 L569.67,385.64 L570.18,386.20 L570.69,389.34 L571.21,389.77 L571.72,384.60 L572.23,384.93 L572.75,387.70 L573.26,387.93 L573.77,392.93 L574.29,393.10 L574.80,387.63 L575.31,387.71 L575.83,393.00 L576.34,392.98 L576.85,398.40 L577.37,398.30 L577.88,381.80 L578.39,381.71 L578.91,391.88 L579.42,391.90 L579.94,393.09 L580.45,393.12 L580.96,388.97 L581.48,388.83 L581.99,396.85 L582.50,396.64 L583.02,395.38 L583.53,394.74 L584.04,390.18 L584.56,389.15 L585.07,388.12 L585.58,386.96 L586.10,383.25 L586.61,382.12 L587.12,376.55 L587.64,375.62 L588.15,381.71 L588.66,381.15 L589.18,376.69 L589.69,377.05 L590.21,377.74 L590.72,379.48 L591.23,387.36 L591.75,388.12 L592.26,384.64 L592.77,385.60 L593.29,389.30 L593.80,389.77 L594.31,386.61 L594.83,387.29 L595.34,388.29 L595.85,388.12 L596.37,388.45 L596.88,388.34 L597.39,389.72 L597.91,389.66 L598.42,388.06 L598.93,388.03 L599.45,388.97 L599.96,388.96 L600.48,387.38 L600.99,387.42 L601.50,388.41 L602.02,388.59 L602.53,389.58 L603.04,389.89 L603.56,388.41 L604.07,388.87 L604.58,389.61 L605.10,390.21 L605.61,392.28 L606.12,393.01 L606.64,391.92 L607.15,392.78 L607.66,395.27 L608.18,396.26 L608.69,397.32 L609.20,398.44 L609.72,399.15 L610.23,400.38 L610.75,402.61 L611.26,403.96 L611.77,405.03 L612.29,406.49 L612.80,407.70 L613.31,409.27 L613.83,409.07 L614.34,410.73 L614.85,412.47 L615.37,414.22 L615.88,417.91 L616.39,419.75 L616.91,419.62 L617.42,421.54 L617.93,425.26 L618.45,427.25 L618.96,428.57 L619.47,430.37 L619.99,430.69 L620.50,431.44 L621.02,433.58 L621.53,433.17 L622.04,423.65 L622.56,423.19 L623.07,431.67 L623.58,430.64 L624.10,435.82 L624.61,434.91 L625.12,423.25 L625.64,422.26 L626.15,428.52 L626.66,427.21 L627.18,424.89 L627.69,422.42 L628.20,431.32 L628.72,428.93 L629.23,410.08 L629.74,409.47 L630.26,410.45 L630.77,410.86 L631.29,411.54 L631.80,412.28 L632.31,412.37 L632.83,413.31 L633.34,411.23 L633.85,412.23 L634.37,420.66 L634.88,421.66 L635.39,418.52 L635.91,419.63 L636.42,427.92 L636.93,428.92 L637.45,428.11 L637.96,428.83 L638.47,423.38 L638.99,423.88 L639.50,427.17 L640.01,427.56 L640.53,435.34 L641.04,435.65 L641.56,428.60 L642.07,428.69 L642.58,430.95 L643.10,430.67 L643.61,432.88 L644.12,431.69 L644.64,424.38 L645.15,422.22 L645.66,423.94 L646.18,422.85 L646.69,427.32 L647.20,426.30 L647.72,423.68 L648.23,423.04 L648.74,413.94 L649.26,414.71 L649.77,423.35 L650.28,423.11 L650.80,419.81 L651.31,419.99 L651.83,419.68 L652.34,419.64 L652.85,419.51 L653.37,419.33 L653.88,421.09 L654.39,420.77 L654.91,419.41 L655.42,418.96 L655.93,417.94 L656.45,417.33 L656.96,415.92 L657.47,415.13 L657.99,415.80 L658.50,414.84 L659.01,414.37 L659.53,413.26 L660.04,409.76 L660.55,408.52 L661.07,407.11 L661.58,405.76 L662.10,405.14 L662.61,403.69 L663.12,403.26 L663.64,401.73 L664.15,399.09 L664.66,397.51 L665.18,396.23 L665.69,394.71 L666.20,391.06 L666.72,389.16 L667.23,396.21 L667.74,394.91 L668.26,387.90 L668.77,386.89 L669.28,387.18 L669.80,386.38 L670.31,389.74 L670.82,389.28 L671.34,383.53 L671.85,383.76 L672.37,384.97 L672.88,385.49 L673.39,387.92 L673.91,388.34 L674.42,385.19 L674.93,385.54 L675.45,393.82 L675.96,394.52 L676.47,389.87 L676.99,391.39 L677.50,390.58 L678.01,391.46 L678.53,392.81 L679.04,393.40 L679.55,390.50 L680.07,390.93 L680.58,401.30 L681.09,402.05 L681.61,403.95 L682.12,404.02 L682.63,395.77 L683.15,394.38 L683.66,391.90 L684.18,390.26 L684.69,381.49 L685.20,379.86 L685.72,384.66 L686.23,383.02 L686.74,387.81 L687.26,386.29 L687.77,377.69 L688.28,376.40 L688.80,382.29 L689.31,381.22 L689.82,383.07 L690.34,382.35 L690.85,364.29 L691.36,364.06 L691.88,374.83 L692.39,377.21 L692.90,378.27 L693.42,380.27 L693.93,382.19 L694.45,383.38 L694.96,379.01 L695.47,379.71 L695.99,386.67 L696.50,386.85 L697.01,383.93 L697.53,384.39 L698.04,390.82 L698.55,390.40 L699.07,390.59 L699.58,389.75 L700.09,384.91 L700.61,384.99 L701.12,384.62 L701.63,384.37 L702.15,385.23 L702.66,385.12 L703.18,385.39 L703.69,385.43 L704.20,385.60 L704.72,385.78 L705.23,386.94 L705.74,387.26 L706.26,385.25 L706.77,385.71 L707.28,387.18 L707.80,387.77 L708.31,388.60 L708.82,389.32 L709.34,390.26 L709.85,391.12 L710.36,391.32 L710.88,392.31 L711.39,393.94 L711.90,395.06 L712.42,395.97 L712.93,397.21 L713.45,400.55 L713.96,401.90 L714.47,401.51 L714.99,402.97 L715.50,402.68 L716.01,404.24 L716.53,408.76 L717.04,410.42 L717.55,411.71 L718.07,413.47 L718.58,414.12 L719.09,415.26 L719.61,416.20 L720.12,417.23 L720.63,419.45 L721.15,420.65 L721.66,431.87 L722.17,433.24 L722.69,425.17 L723.20,426.01 L723.72,434.07 L724.23,434.96 L724.74,434.32 L725.26,435.17 L725.77,430.04 L726.28,430.67 L726.80,434.76 L727.31,435.01 L727.82,430.25 L728.34,429.47 L728.85,417.72 L729.36,415.57 L729.88,423.64 L730.39,421.36 L730.90,418.89 L731.42,416.23 L731.93,421.00 L732.44,419.75 L732.96,418.16 L733.47,417.89 L733.99,419.67 L734.50,419.89 L735.01,418.09 L735.53,418.84 L736.04,422.19 L736.55,423.24 L737.07,422.53 L737.58,423.73 L738.09,423.02 L738.61,424.24 L739.12,428.90 L739.63,430.21 L740.15,433.26 L740.66,434.39 L741.17,435.16 L741.69,436.14 L742.20,429.26 L742.71,430.08 L743.23,432.49 L743.74,433.08 L744.26,429.37 L744.77,429.65 L745.28,429.65 L745.80,429.53 L746.31,435.13 L746.82,433.57 L747.34,426.36 L747.85,423.44 L748.36,430.79 L748.88,430.16 L749.39,413.64 L749.90,413.94 L750.42,418.31 L750.93,418.47 L751.44,422.97 L751.96,422.89 L752.47,425.08 L752.98,424.68 L753.50,421.59 L754.01,421.61 L754.53,424.01 L755.04,423.85 L755.55,422.49 L756.07,422.28 L756.58,420.40 L757.09,420.08 L757.61,420.42 L758.12,419.97 L758.63,420.06 L759.15,419.48 L759.66,417.28 L760.17,416.56 L760.69,417.91 L761.20,417.07 L761.71,414.74 L762.23,413.77 L762.74,413.58 L763.25,412.49 L763.77,411.72 L764.28,410.51 L764.80,407.84 L765.31,406.53 L765.82,406.72 L766.34,405.30 L766.85,400.73 L767.36,399.21 L767.88,400.31 L768.39,398.70 L768.90,394.29 L769.42,392.59 L769.93,394.16 L770.44,393.09 L770.96,388.71 L771.47,387.15 L771.98,391.20 L772.50,390.57 L773.01,389.77 L773.52,388.43 L774.04,381.81 L774.55,380.75 L775.07,378.13 L775.58,377.78 L776.09,387.95 L776.61,391.85 L777.12,383.93 L777.63,384.12 L778.15,390.98 L778.66,390.58 L779.17,386.97 L779.69,387.06 L780.20,386.78" stroke="#0072bd" stroke-dasharray="12.7 3.4 6.4 3.4"/>
</g>
<path d="M472.10,506.90v-3.50M472.10,335.20v3.50M574.80,506.90v-3.50M574.80,335.20v3.50M677.50,506.90v-3.50M677.50,335.20v3.50M780.20,506.90v-3.50M780.20,335.20v3.50M472.10,492.59h3.50M780.20,492.59h-3.50M472.10,421.05h3.50M780.20,421.05h-3.50M472.10,349.51h3.50M780.20,349.51h-3.50" stroke="#4a4a4a" stroke-width="1.3" fill="none"/>
<rect x="472.10" y="335.20" width="308.10" height="171.70" fill="none" stroke="#4a4a4a" stroke-width="1.6"/>
<text x="466.40" y="500.09" font-size="18.5" text-anchor="end">-10</text>
<text x="466.40" y="428.55" font-size="18.5" text-anchor="end">0</text>
<text x="466.40" y="357.01" font-size="18.5" text-anchor="end">10</text>
<text x="472.10" y="531.20" font-size="18.5" text-anchor="middle">0</text>
<text x="574.80" y="531.20" font-size="18.5" text-anchor="middle">2</text>
<text x="677.50" y="531.20" font-size="18.5" text-anchor="middle">4</text>
<text x="780.20" y="531.20" font-size="18.5" text-anchor="middle">6</text>
<text x="626.15" y="557.60" font-size="21.3" text-anchor="middle">time / s</text>
<text transform="translate(430.20,421.05) rotate(-90)" font-size="21.3" text-anchor="middle">angle / °</text>
<g stroke="#e2e2e2" stroke-width="1"><line x1="171.23" y1="647.40" x2="171.23" y2="818.60"/><line x1="273.27" y1="647.40" x2="273.27" y2="818.60"/><line x1="69.20" y1="779.09" x2="375.30" y2="779.09"/><line x1="69.20" y1="713.25" x2="375.30" y2="713.25"/></g>
<g clip-path="url(#cCl)" fill="none" stroke-width="4.2" stroke-linejoin="round">
<path d="M69.20,702.05 L69.71,699.14 L70.22,693.42 L70.73,683.76 L71.24,676.37 L71.75,672.63 L72.26,670.16 L72.77,670.90 L73.28,677.87 L73.79,686.91 L74.30,697.34 L74.81,709.50 L75.32,719.83 L75.83,728.61 L76.34,736.29 L76.85,739.58 L77.36,738.98 L77.87,737.44 L78.38,735.32 L78.89,733.00 L79.40,730.15 L79.91,726.41 L80.42,722.12 L80.93,717.62 L81.44,713.25 L81.95,708.88 L82.46,704.32 L82.97,699.78 L83.48,695.47 L83.99,691.09 L84.50,686.52 L85.02,682.23 L85.53,678.69 L86.04,676.37 L86.55,674.88 L87.06,673.54 L87.57,672.42 L88.08,671.61 L88.59,671.16 L89.10,671.26 L89.61,672.44 L90.12,674.58 L90.63,677.43 L91.14,680.76 L91.65,684.34 L92.16,687.94 L92.67,691.31 L93.18,694.34 L93.69,697.60 L94.20,701.03 L94.71,704.47 L95.22,707.77 L95.73,710.74 L96.24,713.25 L96.75,715.26 L97.26,716.97 L97.77,718.50 L98.28,719.96 L98.79,721.46 L99.30,723.14 L99.81,725.10 L100.32,727.42 L100.83,730.07 L101.34,732.96 L101.85,736.04 L102.36,739.23 L102.87,742.47 L103.38,745.68 L103.89,748.80 L104.40,752.16 L104.91,756.00 L105.42,760.12 L105.93,764.33 L106.44,768.42 L106.95,772.22 L107.46,775.51 L107.97,778.10 L108.48,779.80 L108.99,780.41 L109.50,780.03 L110.01,778.98 L110.52,777.40 L111.03,775.43 L111.54,773.21 L112.05,770.87 L112.56,768.56 L113.07,765.79 L113.58,762.27 L114.09,758.40 L114.60,754.59 L115.12,751.26 L115.63,748.80 L116.14,746.91 L116.65,745.08 L117.16,743.44 L117.67,742.11 L118.18,741.23 L118.69,740.90 L119.20,742.04 L119.71,745.08 L120.22,749.43 L120.73,754.52 L121.24,759.77 L121.75,764.61 L122.26,769.83 L122.77,776.18 L123.28,782.94 L123.79,789.42 L124.30,794.92 L124.81,798.74 L125.32,800.16 L125.83,799.92 L126.34,799.25 L126.85,798.21 L127.36,796.88 L127.87,795.31 L128.38,793.58 L128.89,790.19 L129.40,784.48 L129.91,777.75 L130.42,771.32 L130.93,766.50 L131.44,764.61 L131.95,764.61 L132.46,764.61 L132.97,764.61 L133.48,764.61 L133.99,764.61 L134.50,764.61 L135.01,764.61 L135.52,764.70 L136.03,765.36 L136.54,766.49 L137.05,767.90 L137.56,769.40 L138.07,770.80 L138.58,771.90 L139.09,772.51 L139.60,772.80 L140.11,773.07 L140.62,773.33 L141.13,773.56 L141.64,773.76 L142.15,773.95 L142.66,774.11 L143.17,774.24 L143.68,774.34 L144.19,774.42 L144.70,774.47 L145.21,774.48 L145.73,774.31 L146.24,773.83 L146.75,773.06 L147.26,772.05 L147.77,770.83 L148.28,769.44 L148.79,767.91 L149.30,766.29 L149.81,764.61 L150.32,762.39 L150.83,759.35 L151.34,755.78 L151.85,751.97 L152.36,748.23 L152.87,744.85 L153.38,741.86 L153.89,739.03 L154.40,736.29 L154.91,733.58 L155.42,730.82 L155.93,727.94 L156.44,724.87 L156.95,721.54 L157.46,717.84 L157.97,713.76 L158.48,709.43 L158.99,704.97 L159.50,700.50 L160.01,696.13 L160.52,691.14 L161.03,685.44 L161.54,680.08 L162.05,676.09 L162.56,674.53 L163.07,675.09 L163.58,676.57 L164.09,678.71 L164.60,681.22 L165.11,683.83 L165.62,686.25 L166.13,688.83 L166.64,691.88 L167.15,695.05 L167.66,698.01 L168.17,700.41 L168.68,701.92 L169.19,702.83 L169.70,703.67 L170.21,704.40 L170.72,705.01 L171.23,705.47 L171.74,705.77 L172.25,705.87 L172.76,705.27 L173.27,703.65 L173.78,701.24 L174.29,698.31 L174.80,695.09 L175.31,691.84 L175.82,688.81 L176.34,686.25 L176.85,683.76 L177.36,681.01 L177.87,678.31 L178.38,675.98 L178.89,674.35 L179.40,673.74 L179.91,675.66 L180.42,680.23 L180.93,685.69 L181.44,690.26 L181.95,692.18 L182.46,690.74 L182.97,687.31 L183.48,683.22 L183.99,679.79 L184.50,678.35 L185.01,679.45 L185.52,682.28 L186.03,686.10 L186.54,690.17 L187.05,693.76 L187.56,696.13 L188.07,697.63 L188.58,699.07 L189.09,700.40 L189.60,701.59 L190.11,702.59 L190.62,703.36 L191.13,703.85 L191.64,704.03 L192.15,702.94 L192.66,700.24 L193.17,696.75 L193.68,693.31 L194.19,690.76 L194.70,689.64 L195.21,688.83 L195.72,688.10 L196.23,687.48 L196.74,686.96 L197.25,686.58 L197.76,686.33 L198.27,686.25 L198.78,686.40 L199.29,686.84 L199.80,687.54 L200.31,688.48 L200.82,689.62 L201.33,690.94 L201.84,692.42 L202.35,694.02 L202.86,696.65 L203.37,700.86 L203.88,706.04 L204.39,711.61 L204.90,716.97 L205.41,721.54 L205.92,725.31 L206.43,728.79 L206.94,732.12 L207.46,735.48 L207.97,739.01 L208.48,742.91 L208.99,747.26 L209.50,751.84 L210.01,756.42 L210.52,760.76 L211.03,764.61 L211.54,768.37 L212.05,772.35 L212.56,776.14 L213.07,779.34 L213.58,781.56 L214.09,782.38 L214.60,780.86 L215.11,776.85 L215.62,771.18 L216.13,764.67 L216.64,758.17 L217.15,752.49 L217.66,748.48 L218.17,746.96 L218.68,747.22 L219.19,747.94 L219.70,749.04 L220.21,750.40 L220.72,751.94 L221.23,753.57 L221.74,755.19 L222.25,756.70 L222.76,758.22 L223.27,759.88 L223.78,761.64 L224.29,763.48 L224.80,765.35 L225.31,767.23 L225.82,769.07 L226.33,770.84 L226.84,772.51 L227.35,774.25 L227.86,776.16 L228.37,778.14 L228.88,780.04 L229.39,781.74 L229.90,783.11 L230.41,784.03 L230.92,784.36 L231.43,783.84 L231.94,782.46 L232.45,780.50 L232.96,778.25 L233.47,775.98 L233.98,773.97 L234.49,772.51 L235.00,771.39 L235.51,770.28 L236.02,769.18 L236.53,768.14 L237.04,767.18 L237.56,766.33 L238.07,765.62 L238.58,765.08 L239.09,764.73 L239.60,764.61 L240.11,764.92 L240.62,765.77 L241.13,767.06 L241.64,768.68 L242.15,770.51 L242.66,772.45 L243.17,774.39 L243.68,776.21 L244.19,777.82 L244.70,779.09 L245.21,780.23 L245.72,781.41 L246.23,782.53 L246.74,783.47 L247.25,784.12 L247.76,784.36 L248.27,783.76 L248.78,782.17 L249.29,779.92 L249.80,777.34 L250.31,774.76 L250.82,772.51 L251.33,770.62 L251.84,768.86 L252.35,767.15 L252.86,765.42 L253.37,763.58 L253.88,761.57 L254.39,759.30 L254.90,756.70 L255.41,753.35 L255.92,749.12 L256.43,744.42 L256.94,739.66 L257.45,735.24 L257.96,731.26 L258.47,727.45 L258.98,723.71 L259.49,719.91 L260.00,715.93 L260.51,711.67 L261.02,706.75 L261.53,701.24 L262.04,695.64 L262.55,690.47 L263.06,686.25 L263.57,682.52 L264.08,678.80 L264.59,675.57 L265.10,673.29 L265.61,672.42 L266.12,673.49 L266.63,676.09 L267.14,679.35 L267.65,682.37 L268.17,684.27 L268.68,685.16 L269.19,685.79 L269.70,686.29 L270.21,686.79 L270.72,687.39 L271.23,688.22 L271.74,689.61 L272.25,691.60 L272.76,693.92 L273.27,696.29 L273.78,698.44 L274.29,700.08 L274.80,701.41 L275.31,702.73 L275.82,703.95 L276.33,704.95 L276.84,705.62 L277.35,705.87 L277.86,704.63 L278.37,701.45 L278.88,697.09 L279.39,692.36 L279.90,688.02 L280.41,684.57 L280.92,680.84 L281.43,677.05 L281.94,673.72 L282.45,671.35 L282.96,670.45 L283.47,671.14 L283.98,673.02 L284.49,675.78 L285.00,679.11 L285.51,682.70 L286.02,686.25 L286.53,690.80 L287.04,696.91 L287.55,703.50 L288.06,709.52 L288.57,713.92 L289.08,715.62 L289.59,714.73 L290.10,712.44 L290.61,709.28 L291.12,705.81 L291.63,702.56 L292.14,700.08 L292.65,698.09 L293.16,696.03 L293.67,694.05 L294.18,692.28 L294.69,690.85 L295.20,689.89 L295.71,689.54 L296.22,689.55 L296.73,689.59 L297.24,689.64 L297.75,689.71 L298.26,689.81 L298.78,689.92 L299.29,690.05 L299.80,690.20 L300.31,690.74 L300.82,691.97 L301.33,693.73 L301.84,695.90 L302.35,698.33 L302.86,700.90 L303.37,703.46 L303.88,705.87 L304.39,708.30 L304.90,710.96 L305.41,713.77 L305.92,716.67 L306.43,719.57 L306.94,722.40 L307.45,725.10 L307.96,727.62 L308.47,730.03 L308.98,732.36 L309.49,734.68 L310.00,737.04 L310.51,739.49 L311.02,742.07 L311.53,744.85 L312.04,748.19 L312.55,752.26 L313.06,756.79 L313.57,761.54 L314.08,766.25 L314.59,770.67 L315.10,774.55 L315.61,777.64 L316.12,779.67 L316.63,780.41 L317.14,779.98 L317.65,778.79 L318.16,777.01 L318.67,774.78 L319.18,772.27 L319.69,769.63 L320.20,767.03 L320.71,764.61 L321.22,761.86 L321.73,758.49 L322.24,755.00 L322.75,751.89 L323.26,749.66 L323.77,748.80 L324.28,749.39 L324.79,750.97 L325.30,753.29 L325.81,756.08 L326.32,759.07 L326.83,762.00 L327.34,764.61 L327.85,767.06 L328.36,769.65 L328.87,772.31 L329.39,774.98 L329.90,777.59 L330.41,780.07 L330.92,782.35 L331.43,784.36 L331.94,786.30 L332.45,788.32 L332.96,790.30 L333.47,792.13 L333.98,793.68 L334.49,794.84 L335.00,795.47 L335.51,795.35 L336.02,793.89 L336.53,791.30 L337.04,787.94 L337.55,784.16 L338.06,780.31 L338.57,776.75 L339.08,773.82 L339.59,771.12 L340.10,768.20 L340.61,765.38 L341.12,762.97 L341.63,761.29 L342.14,760.66 L342.65,761.23 L343.16,762.78 L343.67,765.01 L344.18,767.64 L344.69,770.39 L345.20,772.96 L345.71,775.08 L346.22,776.46 L346.73,777.36 L347.24,778.23 L347.75,779.04 L348.26,779.78 L348.77,780.43 L349.28,780.97 L349.79,781.38 L350.30,781.64 L350.81,781.73 L351.32,781.49 L351.83,780.82 L352.34,779.75 L352.85,778.36 L353.36,776.69 L353.87,774.78 L354.38,772.70 L354.89,770.50 L355.40,768.22 L355.91,765.92 L356.42,763.26 L356.93,759.95 L357.44,756.14 L357.95,751.99 L358.46,747.64 L358.97,743.26 L359.48,738.99 L360.00,734.95 L360.51,730.94 L361.02,726.91 L361.53,722.84 L362.04,718.71 L362.55,714.50 L363.06,710.18 L363.57,705.74 L364.08,700.81 L364.59,695.33 L365.10,689.73 L365.61,684.41 L366.12,679.82 L366.63,676.37 L367.14,673.60 L367.65,671.05 L368.16,669.19 L368.67,668.47 L369.18,668.98 L369.69,670.28 L370.20,672.05 L370.71,673.97 L371.22,675.69 L371.73,677.01 L372.24,678.39 L372.75,679.78 L373.26,680.99 L373.77,681.84 L374.28,682.17 L374.79,678.91 L375.30,672.42" stroke="#ff0000"/>
<path d="M69.20,699.70 L69.71,696.81 L70.22,691.10 L70.73,681.46 L71.24,683.29 L71.75,679.49 L72.26,676.97 L72.77,677.67 L73.28,671.81 L73.79,680.90 L74.30,691.37 L74.81,703.57 L75.32,717.79 L75.83,726.58 L76.34,734.28 L76.85,737.59 L77.36,740.49 L77.87,738.93 L78.38,736.80 L78.89,734.47 L79.40,733.66 L79.91,729.89 L80.42,725.57 L80.93,721.04 L81.44,718.87 L81.95,714.46 L82.46,709.85 L82.97,705.27 L83.48,699.84 L83.99,695.43 L84.50,690.83 L85.02,686.50 L85.53,676.99 L86.04,674.69 L86.55,673.21 L87.06,671.89 L87.57,673.45 L88.08,672.62 L88.59,672.17 L89.10,672.26 L89.61,675.72 L90.12,677.82 L90.63,680.65 L91.14,683.95 L91.65,685.81 L92.16,689.39 L92.67,692.75 L93.18,695.77 L93.69,693.40 L94.20,696.87 L94.71,700.35 L95.22,703.51 L95.73,711.67 L96.24,714.20 L96.75,716.25 L97.26,717.99 L97.77,720.35 L98.28,721.86 L98.79,723.41 L99.30,725.14 L99.81,720.36 L100.32,722.56 L100.83,725.09 L101.34,727.86 L101.85,734.25 L102.36,737.40 L102.87,740.60 L103.38,743.77 L103.89,748.62 L104.40,751.97 L104.91,755.81 L105.42,759.92 L105.93,767.10 L106.44,771.25 L106.95,775.10 L107.46,778.44 L107.97,785.73 L108.48,787.57 L108.99,788.31 L109.50,788.07 L110.01,785.15 L110.52,783.57 L111.03,781.60 L111.54,779.37 L112.05,773.40 L112.56,771.09 L113.07,768.32 L113.58,764.80 L114.09,759.56 L114.60,755.75 L115.12,752.42 L115.63,749.96 L116.14,745.03 L116.65,743.21 L117.16,741.56 L117.67,740.24 L118.18,738.32 L118.69,738.00 L119.20,739.14 L119.71,742.17 L120.22,748.26 L120.73,753.35 L121.24,758.60 L121.75,763.43 L122.26,768.67 L122.77,775.02 L123.28,781.78 L123.79,788.26 L124.30,800.23 L124.81,804.04 L125.32,805.47 L125.83,805.23 L126.34,809.79 L126.85,808.75 L127.36,807.41 L127.87,805.84 L128.38,796.32 L128.89,792.93 L129.40,787.22 L129.91,780.49 L130.42,776.35 L130.93,771.53 L131.44,769.63 L131.95,769.63 L132.46,768.04 L132.97,768.04 L133.48,768.04 L133.99,768.04 L134.50,766.05 L135.01,766.05 L135.52,766.14 L136.03,766.80 L136.54,773.04 L137.05,774.45 L137.56,775.95 L138.07,777.35 L138.58,777.75 L139.09,778.36 L139.60,778.65 L140.11,778.92 L140.62,773.85 L141.13,774.08 L141.64,774.29 L142.15,774.48 L142.66,773.50 L143.17,773.63 L143.68,773.73 L144.19,773.81 L144.70,777.92 L145.21,777.94 L145.73,777.77 L146.24,777.22 L146.75,770.52 L147.26,769.55 L147.77,768.38 L148.28,767.03 L148.79,768.95 L149.30,767.31 L149.81,765.61 L150.32,763.37 L150.83,763.83 L151.34,760.16 L151.85,756.27 L152.36,752.44 L152.87,744.69 L153.38,741.70 L153.89,738.87 L154.40,736.14 L154.91,726.64 L155.42,724.04 L155.93,721.33 L156.44,718.43 L156.95,723.79 L157.46,720.03 L157.97,715.89 L158.48,711.50 L158.99,701.49 L159.50,697.12 L160.01,692.85 L160.52,687.97 L161.03,681.81 L161.54,676.36 L162.05,672.28 L162.56,670.63 L163.07,670.75 L163.58,672.13 L164.09,674.17 L164.60,676.59 L165.11,686.43 L165.62,688.90 L166.13,691.54 L166.64,694.64 L167.15,688.21 L167.66,691.03 L168.17,693.30 L168.68,694.68 L169.19,702.40 L169.70,703.23 L170.21,703.96 L170.72,704.56 L171.23,706.48 L171.74,706.77 L172.25,706.87 L172.76,706.28 L173.27,704.56 L173.78,702.15 L174.29,699.22 L174.80,696.00 L175.31,689.46 L175.82,686.43 L176.34,683.87 L176.85,681.39 L177.36,680.81 L177.87,678.11 L178.38,675.78 L178.89,674.15 L179.40,674.44 L179.91,676.35 L180.42,680.93 L180.93,686.38 L181.44,685.19 L181.95,687.10 L182.46,685.67 L182.97,682.24 L183.48,686.07 L183.99,682.64 L184.50,681.20 L185.01,682.31 L185.52,686.40 L186.03,690.22 L186.54,694.29 L187.05,697.88 L187.56,692.99 L188.07,694.49 L188.58,695.93 L189.09,697.27 L189.60,698.81 L190.11,699.81 L190.62,700.58 L191.13,701.07 L191.64,699.71 L192.15,698.73 L192.66,696.13 L193.17,692.75 L193.68,697.13 L194.19,694.46 L194.70,693.24 L195.21,692.32 L195.72,684.68 L196.23,684.16 L196.74,683.76 L197.25,683.48 L197.76,685.00 L198.27,684.96 L198.78,685.16 L199.29,685.65 L199.80,683.37 L200.31,684.48 L200.82,685.79 L201.33,687.29 L201.84,694.88 L202.35,696.62 L202.86,699.39 L203.37,703.74 L203.88,705.51 L204.39,711.06 L204.90,716.40 L205.41,720.94 L205.92,726.11 L206.43,729.61 L206.94,732.97 L207.46,736.36 L207.97,744.25 L208.48,748.32 L208.99,752.84 L209.50,757.60 L210.01,759.09 L210.52,763.51 L211.03,767.43 L211.54,771.27 L212.05,767.65 L212.56,771.31 L213.07,774.39 L213.58,776.49 L214.09,784.55 L214.60,783.08 L215.11,779.11 L215.62,773.49 L216.13,768.32 L216.64,761.90 L217.15,756.30 L217.66,752.29 L218.17,742.39 L218.68,742.65 L219.19,743.37 L219.70,744.46 L220.21,745.19 L220.72,746.73 L221.23,748.36 L221.74,749.98 L222.25,751.51 L222.76,753.02 L223.27,754.68 L223.78,756.45 L224.29,767.64 L224.80,769.51 L225.31,771.39 L225.82,773.23 L226.33,771.15 L226.84,772.81 L227.35,774.55 L227.86,776.47 L228.37,772.71 L228.88,774.61 L229.39,776.31 L229.90,777.68 L230.41,787.48 L230.92,787.82 L231.43,787.29 L231.94,785.92 L232.45,784.45 L232.96,782.20 L233.47,779.93 L233.98,777.92 L234.49,768.14 L235.00,767.03 L235.51,765.91 L236.02,764.82 L236.53,759.91 L237.04,758.95 L237.56,758.10 L238.07,757.39 L238.58,771.14 L239.09,770.80 L239.60,770.67 L240.11,770.98 L240.62,776.31 L241.13,777.60 L241.64,779.21 L242.15,781.05 L242.66,780.09 L243.17,782.03 L243.68,783.85 L244.19,785.46 L244.70,784.43 L245.21,785.56 L245.72,786.74 L246.23,787.86 L246.74,784.20 L247.25,784.84 L247.76,785.09 L248.27,784.48 L248.78,778.92 L249.29,776.67 L249.80,774.09 L250.31,771.51 L250.82,773.28 L251.33,771.39 L251.84,769.63 L252.35,767.92 L252.86,769.10 L253.37,767.18 L253.88,765.07 L254.39,762.71 L254.90,755.98 L255.41,752.64 L255.92,748.43 L256.43,743.75 L256.94,743.71 L257.45,739.17 L257.96,735.06 L258.47,731.13 L258.98,723.88 L259.49,720.07 L260.00,716.09 L260.51,711.82 L261.02,708.78 L261.53,703.18 L262.04,697.50 L262.55,692.25 L263.06,680.98 L263.57,677.12 L264.08,673.27 L264.59,669.91 L265.10,670.92 L265.61,670.00 L266.12,671.01 L266.63,673.56 L267.14,681.99 L267.65,685.06 L268.17,687.02 L268.68,687.96 L269.19,689.20 L269.70,689.77 L270.21,690.33 L270.72,691.00 L271.23,689.84 L271.74,691.25 L272.25,693.27 L272.76,695.62 L273.27,702.79 L273.78,704.93 L274.29,706.58 L274.80,707.91 L275.31,705.62 L275.82,706.83 L276.33,707.83 L276.84,708.51 L277.35,708.79 L277.86,707.55 L278.37,704.36 L278.88,700.01 L279.39,688.86 L279.90,684.53 L280.41,681.07 L280.92,677.35 L281.43,678.74 L281.94,675.41 L282.45,673.04 L282.96,672.13 L283.47,674.26 L283.98,676.14 L284.49,678.90 L285.00,682.23 L285.51,688.00 L286.02,691.55 L286.53,696.10 L287.04,702.20 L287.55,708.15 L288.06,714.17 L288.57,718.57 L289.08,720.15 L289.59,714.98 L290.10,712.68 L290.61,709.52 L291.12,706.04 L291.63,703.28 L292.14,700.78 L292.65,698.77 L293.16,696.69 L293.67,690.69 L294.18,689.03 L294.69,687.71 L295.20,686.87 L295.71,691.16 L296.22,691.11 L296.73,691.08 L297.24,691.07 L297.75,687.41 L298.26,687.61 L298.78,687.83 L299.29,687.87 L299.80,689.65 L300.31,690.17 L300.82,691.37 L301.33,693.12 L301.84,695.91 L302.35,698.35 L302.86,700.91 L303.37,703.47 L303.88,711.47 L304.39,714.07 L304.90,716.89 L305.41,719.87 L305.92,720.70 L306.43,723.71 L306.94,726.65 L307.45,729.45 L307.96,725.06 L308.47,727.40 L308.98,729.68 L309.49,731.94 L310.00,731.75 L310.51,734.08 L311.02,736.55 L311.53,739.21 L312.04,747.34 L312.55,751.39 L313.06,755.90 L313.57,760.64 L314.08,762.86 L314.59,767.22 L315.10,771.04 L315.61,774.06 L316.12,781.62 L316.63,782.39 L317.14,781.99 L317.65,780.84 L318.16,778.90 L318.67,776.71 L319.18,774.23 L319.69,771.59 L320.20,770.52 L320.71,768.10 L321.22,765.35 L321.73,761.98 L322.24,749.87 L322.75,746.76 L323.26,744.52 L323.77,743.67 L324.28,747.58 L324.79,749.17 L325.30,751.49 L325.81,754.27 L326.32,760.30 L326.83,763.23 L327.34,765.84 L327.85,768.29 L328.36,771.38 L328.87,774.04 L329.39,776.71 L329.90,779.32 L330.41,777.14 L330.92,779.42 L331.43,781.43 L331.94,783.37 L332.45,786.62 L332.96,788.60 L333.47,790.43 L333.98,791.98 L334.49,799.22 L335.00,799.85 L335.51,799.74 L336.02,798.27 L336.53,782.26 L337.04,778.90 L337.55,775.12 L338.06,771.27 L338.57,775.39 L339.08,772.47 L339.59,769.77 L340.10,766.85 L340.61,765.32 L341.12,762.91 L341.63,761.23 L342.14,760.60 L342.65,753.45 L343.16,755.00 L343.67,757.23 L344.18,759.86 L344.69,764.99 L345.20,767.57 L345.71,769.69 L346.22,771.06 L346.73,777.82 L347.24,778.69 L347.75,779.50 L348.26,780.25 L348.77,777.61 L349.28,778.15 L349.79,778.55 L350.30,778.81 L350.81,787.36 L351.32,787.13 L351.83,786.45 L352.34,785.39 L352.85,781.74 L353.36,780.06 L353.87,778.16 L354.38,776.08 L354.89,781.03 L355.40,778.49 L355.91,775.93 L356.42,773.00 L356.93,754.16 L357.44,750.51 L357.95,746.52 L358.46,742.34 L358.97,751.26 L359.48,746.74 L360.00,742.45 L360.51,738.19 L361.02,724.40 L361.53,720.42 L362.04,716.38 L362.55,712.26 L363.06,712.81 L363.57,708.26 L364.08,703.22 L364.59,697.63 L365.10,692.30 L365.61,687.06 L366.12,682.53 L366.63,679.14 L367.14,674.16 L367.65,671.63 L368.16,669.78 L368.67,669.07 L369.18,668.14 L369.69,669.42 L370.20,671.18 L370.71,673.07 L371.22,673.59 L371.73,674.87 L372.24,676.22 L372.75,677.56 L373.26,674.46 L373.77,675.19 L374.28,675.40 L374.79,672.02 L375.30,671.00" stroke="#0000ff" stroke-dasharray="12.7 13.2"/>
<path d="M93.0,703.1V696.6M85.8,680.8V687.2M83.4,687.1V698.0M79.7,743.9V751.7M90.2,679.3V683.2M69.4,697.3V687.9M69.6,709.7V702.1M82.5,688.9V699.1M76.8,754.8V751.2M79.4,721.4V710.7M82.9,691.3V680.4M70.3,686.3V689.7M136.4,773.9V766.9M135.8,758.7V747.7M121.4,758.1V766.2M116.8,739.0V745.9M147.2,769.5V757.9M109.2,787.7V781.4M118.5,747.9V757.4M121.6,752.8V747.5M132.8,763.1V772.9M123.5,793.9V784.2M112.3,767.7V757.3M132.2,766.8V774.2M138.9,783.2V788.4M138.0,784.2V793.0M128.7,801.3V812.4M120.8,753.3V759.3M107.9,778.1V781.6M130.6,771.2V776.1M134.7,762.9V774.2M126.6,795.2V798.5M149.1,779.5V775.8M116.2,748.3V744.2M142.8,779.0V790.0M138.6,779.3V785.9M146.5,776.8V786.0M147.6,772.1V781.4M117.7,743.6V750.6M147.4,780.3V770.7M124.9,802.3V809.5M136.9,755.5V763.5M148.8,774.2V780.1M133.3,774.6V771.3M132.7,763.0V754.6M110.5,773.8V768.3M133.3,761.9V756.2M117.9,748.2V737.4M124.3,789.0V782.6M123.8,794.8V799.0M149.7,771.8V780.5M135.1,768.2V760.3M138.9,773.0V776.8M115.0,748.0V754.3M120.7,750.1V741.6M145.5,774.6V780.2M112.7,762.5V774.2M148.8,767.4V757.3M126.0,794.4V802.0M124.4,803.9V815.0M129.8,788.8V785.2M126.7,794.0V799.2M127.9,803.6V814.7M169.4,711.4V704.9M170.6,696.9V703.6M188.6,695.0V700.9M165.3,684.3V694.5M166.5,693.4V683.3M187.9,696.9V704.4M167.6,697.6V708.2M169.4,705.2V714.1M187.7,700.8V691.6M169.1,689.9V695.5M191.5,702.7V708.0M185.7,687.3V692.5M186.6,698.0V686.9M166.0,692.2V702.4M165.7,682.2V671.2M183.4,679.1V689.4M185.9,686.3V696.5M243.4,775.0V770.9M245.7,779.5V786.4M213.8,771.1V775.2M235.2,756.2V763.6M229.2,786.4V795.9M237.3,760.5V754.5M248.2,780.2V784.9M241.6,766.0V759.6M220.7,748.9V744.2M234.7,772.2V761.7M235.0,762.0V766.1M212.5,772.2V762.5M217.4,748.0V754.1M226.7,764.7V755.2M219.3,742.8V733.0M221.7,752.4V748.0M239.6,762.7V752.9M251.3,760.4V749.0M230.7,781.3V773.1M238.4,765.7V774.6M243.1,779.3V773.2M239.5,766.6V761.8M238.9,771.1V780.7M212.1,772.1V782.4M247.6,782.8V777.7M218.6,759.3V755.0M219.4,748.3V742.0M232.9,774.9V766.2M236.0,768.2V774.7M242.9,779.0V767.4M224.0,754.9V765.0M250.6,777.4V766.3M237.7,773.4V765.0M246.5,789.4V779.7M231.5,783.7V772.3M215.0,772.5V768.9M212.5,769.1V760.9M238.2,764.2V759.3M229.4,788.9V799.0M230.0,787.3V792.5M225.4,772.7V782.3M219.3,749.2V743.1M231.4,794.4V803.3M222.4,756.6V747.5M248.5,779.4V768.3M219.3,749.1V738.4M251.5,767.1V760.1M247.2,789.6V798.8M264.2,684.0V691.9M277.3,704.5V694.8M287.2,695.5V685.3M290.2,722.1V718.8M274.5,690.7V679.4M278.9,696.8V685.9M278.8,698.7V710.0M266.0,666.6V676.5M263.1,685.6V679.1M279.1,698.7V704.1M278.5,687.4V676.3M289.5,721.4V714.5M268.6,685.7V678.2M289.2,710.6V701.3M271.4,694.9V704.1M279.6,691.3V682.1M320.9,767.9V775.8M315.9,770.4V776.5M351.7,787.6V793.0M352.6,784.6V794.6M325.2,753.3V747.7M339.8,772.6V778.8M314.8,761.0V753.5M330.1,792.9V787.2M342.8,759.5V769.0M328.8,767.8V763.8M347.0,784.5V778.4M351.3,785.3V792.2M319.7,767.1V772.6M342.2,751.0V761.5M329.4,780.7V787.0M321.2,771.4V778.3M328.3,763.7V756.4M333.7,784.0V773.6M350.6,783.7V788.9M345.3,786.6V776.2M314.3,759.5V770.9M316.4,781.4V787.0M354.6,764.9V769.7M336.8,789.9V779.8M339.0,776.5V770.6M328.5,772.9V778.1M348.0,770.7V774.7M336.8,781.0V789.5M338.3,791.5V802.8M324.3,754.9V744.1M345.8,764.8V756.5M322.8,753.7V746.7M319.7,777.7V766.1M338.5,777.4V768.5M348.0,780.1V791.6M326.0,758.0V767.2M326.4,762.4V771.7M320.2,769.0V778.3M338.7,778.6V774.3M345.5,772.5V777.9M319.2,777.0V780.8M335.9,796.0V784.7M336.1,794.4V806.2M318.4,768.1V759.6M335.7,792.7V788.1M325.2,753.3V749.0M322.2,752.1V744.9M375.2,678.9V690.6M367.0,681.5V689.5M370.8,673.9V668.1M372.0,677.1V672.6" stroke="#0000ff" stroke-linejoin="miter"/>
<path d="M69.20,709.36 L69.40,716.10 L69.61,709.05 L69.81,716.32 L70.02,708.74 L70.22,716.55 L70.42,708.46 L70.63,716.81 L70.83,709.40 L71.04,716.74 L71.24,709.48 L71.44,717.48 L71.65,710.14 L71.85,719.10 L72.06,712.07 L72.26,722.43 L72.47,713.99 L72.67,727.47 L72.87,720.66 L73.08,735.87 L73.28,729.45 L73.49,745.48 L73.69,738.14 L73.89,753.41 L74.10,740.54 L74.30,759.68 L74.51,740.00 L74.71,757.01 L74.91,733.65 L75.12,749.60 L75.32,723.99 L75.53,740.51 L75.73,718.75 L75.93,729.22 L76.14,711.33 L76.34,723.80 L76.55,706.60 L76.75,720.89 L76.95,704.22 L77.16,719.34 L77.36,701.23 L77.57,718.20 L77.77,701.44 L77.97,717.83 L78.18,701.87 L78.38,717.58 L78.59,702.37 L78.79,717.36 L79.00,701.94 L79.20,722.52 L79.40,702.51 L79.61,722.03 L79.81,703.08 L80.02,721.55 L80.22,703.66 L80.42,721.07 L80.63,705.23 L80.83,718.49 L81.04,705.74 L81.24,718.14 L81.44,706.25 L81.65,717.80 L81.85,706.75 L82.06,717.54 L82.26,708.59 L82.46,719.07 L82.67,708.59 L82.87,719.07 L83.08,708.59 L83.28,719.07 L83.48,708.59 L83.69,719.07 L83.89,710.54 L84.10,717.80 L84.30,710.54 L84.50,717.80 L84.71,710.54 L84.91,717.80 L85.12,710.54 L85.32,717.80 L85.53,707.26 L85.73,718.01 L85.93,707.26 L86.14,718.01 L86.34,707.26 L86.55,718.01 L86.75,707.26 L86.95,718.01 L87.16,706.41 L87.36,716.79 L87.57,706.41 L87.77,716.79 L87.97,706.41 L88.18,716.79 L88.38,706.41 L88.59,716.79 L88.79,705.58 L88.99,717.52 L89.20,705.58 L89.40,717.52 L89.61,705.58 L89.81,717.52 L90.01,705.58 L90.22,717.52 L90.42,710.70 L90.63,717.87 L90.83,710.70 L91.04,717.87 L91.24,710.70 L91.44,717.87 L91.65,710.70 L91.85,717.87 L92.06,710.95 L92.26,716.99 L92.46,710.95 L92.67,716.99 L92.87,710.95 L93.08,716.99 L93.28,710.95 L93.48,716.99 L93.69,707.64 L93.89,720.05 L94.10,707.64 L94.30,720.05 L94.50,707.64 L94.71,720.05 L94.91,707.62 L95.12,720.12 L95.32,706.34 L95.52,716.45 L95.73,706.27 L95.93,716.48 L96.14,706.20 L96.34,716.51 L96.54,706.13 L96.75,716.54 L96.95,711.07 L97.16,716.40 L97.36,711.05 L97.57,716.43 L97.77,711.03 L97.97,716.46 L98.18,711.01 L98.38,716.49 L98.59,707.27 L98.79,717.38 L98.99,707.21 L99.20,717.42 L99.40,707.16 L99.61,717.45 L99.81,707.10 L100.01,717.49 L100.22,709.54 L100.42,720.71 L100.63,709.51 L100.83,720.77 L101.03,709.48 L101.24,720.84 L101.44,709.44 L101.65,720.90 L101.85,703.97 L102.05,721.43 L102.26,703.89 L102.46,721.50 L102.67,703.81 L102.87,721.57 L103.08,703.73 L103.28,721.64 L103.48,708.55 L103.69,719.53 L103.89,708.51 L104.10,719.58 L104.30,708.47 L104.50,719.63 L104.71,708.43 L104.91,719.69 L105.12,710.63 L105.32,718.06 L105.52,710.63 L105.73,718.05 L105.93,710.64 L106.14,718.03 L106.34,710.65 L106.54,718.02 L106.75,705.18 L106.95,720.25 L107.16,705.21 L107.36,720.23 L107.56,705.23 L107.77,720.22 L107.97,705.25 L108.18,720.20 L108.38,708.99 L108.58,721.55 L108.79,709.00 L108.99,721.53 L109.20,709.02 L109.40,721.50 L109.61,709.03 L109.81,721.48 L110.01,708.14 L110.22,717.01 L110.42,708.15 L110.63,717.00 L110.83,708.16 L111.03,716.98 L111.24,708.18 L111.44,716.97 L111.65,710.37 L111.85,720.17 L112.05,710.38 L112.26,720.15 L112.46,710.39 L112.67,720.13 L112.87,710.40 L113.07,720.11 L113.28,708.91 L113.48,720.41 L113.69,708.92 L113.89,720.39 L114.09,708.93 L114.30,720.37 L114.50,708.94 L114.71,720.35 L114.91,710.42 L115.12,717.97 L115.32,710.42 L115.52,717.95 L115.73,710.43 L115.93,717.94 L116.14,710.44 L116.34,717.93 L116.54,709.54 L116.75,716.12 L116.95,709.55 L117.16,716.12 L117.36,709.56 L117.56,716.11 L117.77,709.57 L117.97,716.10 L118.18,707.27 L118.38,719.43 L118.58,707.28 L118.79,719.41 L118.99,707.30 L119.20,719.39 L119.40,707.32 L119.60,719.37 L119.81,709.33 L120.01,716.52 L120.22,709.34 L120.42,716.52 L120.62,709.33 L120.83,716.53 L121.03,709.32 L121.24,716.54 L121.44,706.66 L121.65,717.69 L121.85,706.64 L122.05,717.70 L122.26,706.62 L122.46,717.71 L122.67,706.61 L122.87,717.73 L123.07,704.89 L123.28,719.02 L123.48,704.87 L123.69,719.04 L123.89,704.84 L124.09,719.06 L124.30,704.82 L124.50,719.07 L124.71,707.18 L124.91,722.16 L125.11,707.16 L125.32,722.19 L125.52,707.14 L125.73,722.22 L125.93,707.13 L126.13,722.24 L126.34,711.18 L126.54,716.20 L126.75,711.17 L126.95,716.20 L127.15,711.16 L127.36,716.21 L127.56,711.16 L127.77,716.22 L127.97,704.16 L128.18,715.68 L128.38,704.13 L128.58,715.69 L128.79,704.11 L128.99,715.69 L129.20,704.08 L129.40,715.70 L129.60,709.84 L129.81,719.25 L130.01,709.84 L130.22,719.26 L130.42,709.83 L130.62,719.28 L130.83,709.82 L131.03,719.30 L131.24,708.67 L131.44,722.42 L131.64,708.65 L131.85,722.45 L132.05,708.64 L132.26,722.47 L132.46,708.63 L132.66,722.50 L132.87,707.22 L133.07,715.55 L133.28,707.20 L133.48,715.56 L133.69,707.18 L133.89,715.56 L134.09,707.17 L134.30,715.57 L134.50,706.43 L134.71,720.26 L134.91,706.41 L135.11,720.28 L135.32,706.39 L135.52,720.30 L135.73,706.39 L135.93,720.28 L136.13,708.59 L136.34,715.43 L136.54,708.60 L136.75,715.42 L136.95,708.61 L137.15,715.41 L137.36,708.62 L137.56,715.41 L137.77,707.87 L137.97,719.47 L138.17,707.88 L138.38,719.46 L138.58,707.90 L138.79,719.44 L138.99,707.91 L139.19,719.42 L139.40,706.49 L139.60,716.09 L139.81,706.51 L140.01,716.08 L140.22,706.53 L140.42,716.07 L140.62,706.55 L140.83,716.06 L141.03,707.86 L141.24,720.16 L141.44,707.87 L141.64,720.14 L141.85,707.89 L142.05,720.12 L142.26,707.90 L142.46,720.10 L142.66,709.23 L142.87,717.84 L143.07,709.24 L143.28,717.83 L143.48,709.25 L143.68,717.82 L143.89,709.26 L144.09,717.80 L144.30,708.32 L144.50,719.97 L144.70,708.34 L144.91,719.96 L145.11,708.35 L145.32,719.94 L145.52,708.37 L145.73,719.92 L145.93,708.57 L146.13,716.98 L146.34,708.58 L146.54,716.97 L146.75,708.60 L146.95,716.96 L147.15,708.61 L147.36,716.95 L147.56,709.30 L147.77,715.61 L147.97,709.31 L148.17,715.60 L148.38,709.32 L148.58,715.59 L148.79,709.34 L148.99,715.59 L149.19,707.12 L149.40,716.35 L149.60,707.14 L149.81,716.34 L150.01,707.16 L150.21,716.33 L150.42,707.18 L150.62,716.32 L150.83,707.83 L151.03,716.96 L151.23,707.87 L151.44,716.92 L151.64,707.92 L151.85,716.89 L152.05,707.97 L152.26,716.86 L152.46,708.71 L152.66,716.08 L152.87,708.75 L153.07,716.05 L153.28,708.79 L153.48,716.03 L153.68,708.83 L153.89,716.00 L154.09,706.91 L154.30,716.19 L154.50,706.97 L154.70,716.17 L154.91,707.03 L155.11,716.14 L155.32,707.09 L155.52,716.11 L155.72,706.50 L155.93,718.27 L156.13,706.56 L156.34,718.22 L156.54,706.63 L156.74,718.17 L156.95,706.70 L157.15,718.12 L157.36,707.76 L157.56,717.42 L157.76,707.82 L157.97,717.38 L158.17,707.88 L158.38,717.33 L158.58,707.93 L158.79,717.29 L158.99,709.79 L159.19,719.50 L159.40,709.83 L159.60,719.43 L159.81,709.86 L160.01,719.36 L160.21,709.90 L160.42,719.30 L160.62,706.61 L160.83,717.40 L161.03,706.68 L161.23,717.42 L161.44,706.57 L161.64,717.49 L161.85,706.46 L162.05,717.56 L162.25,711.19 L162.46,717.87 L162.66,711.15 L162.87,717.95 L163.07,711.12 L163.27,718.02 L163.48,711.09 L163.68,718.10 L163.89,706.71 L164.09,719.24 L164.30,706.61 L164.50,719.33 L164.70,706.51 L164.91,719.42 L165.11,706.41 L165.32,719.51 L165.52,708.83 L165.72,720.55 L165.93,708.77 L166.13,720.66 L166.34,708.71 L166.54,720.76 L166.74,708.64 L166.95,720.87 L167.15,708.75 L167.36,719.09 L167.56,708.69 L167.76,719.17 L167.97,708.63 L168.17,719.25 L168.38,708.57 L168.58,719.33 L168.78,705.23 L168.99,715.36 L169.19,705.13 L169.40,715.39 L169.60,705.02 L169.80,715.42 L170.01,704.92 L170.21,715.44 L170.42,706.26 L170.62,718.75 L170.83,706.18 L171.03,718.82 L171.23,706.09 L171.44,718.85 L171.64,706.09 L171.85,718.85 L172.05,703.58 L172.25,715.48 L172.46,703.58 L172.66,715.48 L172.87,703.58 L173.07,715.48 L173.27,703.58 L173.48,715.48 L173.68,704.33 L173.89,720.00 L174.09,704.33 L174.29,720.00 L174.50,704.33 L174.70,720.00 L174.91,704.33 L175.11,720.00 L175.31,710.35 L175.52,715.74 L175.72,710.35 L175.93,715.74 L176.13,710.35 L176.34,715.74 L176.54,710.35 L176.74,715.74 L176.95,707.30 L177.15,719.49 L177.36,707.30 L177.56,719.49 L177.76,707.30 L177.97,719.49 L178.17,707.30 L178.38,719.49 L178.58,705.21 L178.78,716.41 L178.99,705.21 L179.19,716.41 L179.40,705.21 L179.60,716.41 L179.80,705.21 L180.01,716.41 L180.21,710.62 L180.42,721.98 L180.62,710.62 L180.82,721.98 L181.03,710.62 L181.23,721.98 L181.44,710.62 L181.64,721.98 L181.84,706.98 L182.05,715.97 L182.25,706.98 L182.46,715.97 L182.66,706.98 L182.87,715.97 L183.07,706.98 L183.27,715.97 L183.48,703.43 L183.68,720.43 L183.89,703.43 L184.09,720.43 L184.29,703.43 L184.50,720.43 L184.70,703.43 L184.91,720.43 L185.11,709.38 L185.31,720.78 L185.52,709.38 L185.72,720.78 L185.93,709.38 L186.13,720.78 L186.33,709.38 L186.54,720.78 L186.74,710.39 L186.95,717.26 L187.15,710.49 L187.35,717.13 L187.56,710.58 L187.76,717.00 L187.97,710.67 L188.17,716.86 L188.37,709.60 L188.58,718.84 L188.78,709.73 L188.99,718.63 L189.19,709.87 L189.40,718.41 L189.60,710.01 L189.80,718.20 L190.01,709.83 L190.21,716.51 L190.42,709.98 L190.62,716.36 L190.82,710.13 L191.03,716.22 L191.23,710.28 L191.44,716.07 L191.64,710.71 L191.84,715.59 L192.05,710.84 L192.25,715.47 L192.46,710.98 L192.66,715.34 L192.86,711.11 L193.07,715.21 L193.27,710.70 L193.48,715.08 L193.68,710.87 L193.88,714.95 L194.09,711.05 L194.29,714.86 L194.50,711.08 L194.70,714.87 L194.91,709.77 L195.11,714.10 L195.31,709.75 L195.52,714.11 L195.72,709.72 L195.93,714.11 L196.13,709.69 L196.33,714.12 L196.54,710.71 L196.74,716.31 L196.95,710.69 L197.15,716.33 L197.35,710.67 L197.56,716.36 L197.76,710.65 L197.97,716.38 L198.17,710.39 L198.37,714.35 L198.58,710.37 L198.78,714.35 L198.99,710.34 L199.19,714.36 L199.39,710.32 L199.60,714.37 L199.80,711.99 L200.01,714.82 L200.21,711.98 L200.41,714.83 L200.62,711.97 L200.82,714.84 L201.03,711.96 L201.23,714.85 L201.44,712.11 L201.64,714.47 L201.84,712.10 L202.05,714.48 L202.25,712.09 L202.46,714.48 L202.66,712.09 L202.86,714.49 L203.07,708.79 L203.27,717.17 L203.48,708.76 L203.68,717.20 L203.88,708.73 L204.09,717.22 L204.29,708.70 L204.50,717.25 L204.70,710.97 L204.90,716.23 L205.11,710.96 L205.31,716.25 L205.52,710.94 L205.72,716.27 L205.92,710.92 L206.13,716.29 L206.33,708.56 L206.54,716.06 L206.74,708.53 L206.94,716.08 L207.15,708.44 L207.35,716.17 L207.56,708.29 L207.76,716.26 L207.97,710.75 L208.17,716.85 L208.37,710.67 L208.58,716.96 L208.78,710.60 L208.99,717.07 L209.19,710.53 L209.39,717.17 L209.60,709.00 L209.80,718.36 L210.01,708.89 L210.21,718.50 L210.41,708.78 L210.62,718.63 L210.82,708.66 L211.03,718.77 L211.23,708.43 L211.43,717.92 L211.64,708.32 L211.84,718.03 L212.05,708.20 L212.25,718.14 L212.45,708.09 L212.66,718.25 L212.86,711.28 L213.07,717.71 L213.27,711.24 L213.48,717.81 L213.68,711.19 L213.88,717.90 L214.09,711.15 L214.29,718.00 L214.50,711.23 L214.70,716.82 L214.90,711.19 L215.11,716.90 L215.31,711.15 L215.52,716.97 L215.72,711.11 L215.92,717.04 L216.13,708.55 L216.33,718.50 L216.54,708.46 L216.74,718.60 L216.94,708.37 L217.15,718.70 L217.35,708.33 L217.56,718.69 L217.76,710.57 L217.96,722.01 L218.17,710.58 L218.37,721.99 L218.58,710.58 L218.78,721.97 L218.98,710.59 L219.19,721.95 L219.39,709.41 L219.60,719.00 L219.80,709.42 L220.01,718.99 L220.21,709.43 L220.41,718.97 L220.62,709.44 L220.82,718.96 L221.03,710.14 L221.23,718.30 L221.43,710.15 L221.64,718.29 L221.84,710.16 L222.05,718.28 L222.25,710.16 L222.45,718.27 L222.66,709.36 L222.86,721.09 L223.07,709.37 L223.27,721.07 L223.47,709.38 L223.68,721.05 L223.88,709.39 L224.09,721.04 L224.29,708.42 L224.49,715.33 L224.70,708.43 L224.90,715.32 L225.11,708.44 L225.31,715.32 L225.52,708.45 L225.72,715.31 L225.92,709.45 L226.13,715.37 L226.33,709.45 L226.54,715.36 L226.74,709.46 L226.94,715.36 L227.15,709.47 L227.35,715.35 L227.56,709.32 L227.76,720.21 L227.96,709.33 L228.17,720.19 L228.37,709.34 L228.58,720.18 L228.78,709.35 L228.98,720.16 L229.19,708.36 L229.39,721.16 L229.60,708.37 L229.80,721.14 L230.00,708.38 L230.21,721.12 L230.41,708.39 L230.62,721.10 L230.82,707.11 L231.02,715.22 L231.23,707.12 L231.43,715.22 L231.64,707.14 L231.84,715.21 L232.05,707.15 L232.25,715.21 L232.45,711.34 L232.66,715.03 L232.86,711.35 L233.07,715.03 L233.27,711.35 L233.47,715.02 L233.68,711.36 L233.88,715.02 L234.09,705.19 L234.29,714.92 L234.49,705.21 L234.70,714.92 L234.90,705.23 L235.11,714.91 L235.31,705.25 L235.51,714.91 L235.72,708.89 L235.92,718.53 L236.13,708.90 L236.33,718.51 L236.53,708.92 L236.74,718.50 L236.94,708.93 L237.15,718.49 L237.35,705.82 L237.56,715.70 L237.76,705.83 L237.96,715.70 L238.17,705.83 L238.37,715.70 L238.58,705.83 L238.78,715.70 L238.98,711.62 L239.19,718.37 L239.39,711.62 L239.60,718.37 L239.80,711.62 L240.00,718.37 L240.21,711.62 L240.41,718.37 L240.62,711.30 L240.82,719.02 L241.02,711.30 L241.23,719.02 L241.43,711.30 L241.64,719.02 L241.84,711.30 L242.04,719.02 L242.25,711.04 L242.45,714.92 L242.66,711.04 L242.86,714.92 L243.06,711.04 L243.27,714.92 L243.47,711.04 L243.68,714.92 L243.88,705.90 L244.09,720.33 L244.29,705.90 L244.49,720.33 L244.70,705.90 L244.90,720.33 L245.11,705.90 L245.31,720.33 L245.51,709.06 L245.72,716.42 L245.92,709.06 L246.13,716.42 L246.33,709.06 L246.53,716.42 L246.74,709.06 L246.94,716.42 L247.15,706.32 L247.35,718.33 L247.55,706.32 L247.76,718.33 L247.96,706.32 L248.17,718.33 L248.37,706.32 L248.57,718.33 L248.78,707.27 L248.98,717.06 L249.19,707.27 L249.39,717.06 L249.59,707.27 L249.80,717.06 L250.00,707.27 L250.21,717.06 L250.41,711.11 L250.62,717.00 L250.82,711.11 L251.02,717.00 L251.23,711.11 L251.43,717.00 L251.64,711.11 L251.84,717.00 L252.04,709.38 L252.25,717.38 L252.45,709.38 L252.66,717.38 L252.86,709.38 L253.06,717.36 L253.27,709.42 L253.47,717.31 L253.68,709.64 L253.88,714.81 L254.08,709.68 L254.29,714.79 L254.49,709.72 L254.70,714.78 L254.90,709.75 L255.10,714.76 L255.31,709.07 L255.51,717.26 L255.72,709.11 L255.92,717.22 L256.13,709.16 L256.33,717.17 L256.53,709.20 L256.74,717.13 L256.94,707.54 L257.15,716.16 L257.35,707.60 L257.55,716.13 L257.76,707.66 L257.96,716.09 L258.17,707.73 L258.37,716.06 L258.57,711.43 L258.78,716.53 L258.98,711.45 L259.19,716.49 L259.39,711.47 L259.59,716.45 L259.80,711.50 L260.00,716.41 L260.21,707.15 L260.41,715.37 L260.61,707.22 L260.82,715.35 L261.02,707.30 L261.23,715.32 L261.43,707.37 L261.63,715.30 L261.84,709.66 L262.04,716.11 L262.25,709.71 L262.45,716.07 L262.66,709.76 L262.86,716.04 L263.06,709.80 L263.27,716.06 L263.47,710.25 L263.68,717.93 L263.88,710.17 L264.08,718.05 L264.29,710.09 L264.49,718.17 L264.70,710.02 L264.90,718.29 L265.10,708.15 L265.31,719.95 L265.51,708.03 L265.72,720.11 L265.92,707.91 L266.12,720.27 L266.33,707.79 L266.53,720.42 L266.74,710.15 L266.94,715.90 L267.14,710.08 L267.35,715.96 L267.55,710.02 L267.76,716.02 L267.96,709.95 L268.17,716.07 L268.37,707.10 L268.57,720.45 L268.78,706.98 L268.98,720.59 L269.19,706.86 L269.39,720.73 L269.59,706.74 L269.80,720.87 L270.00,708.66 L270.21,719.26 L270.41,708.57 L270.61,719.37 L270.82,708.49 L271.02,719.48 L271.23,708.41 L271.43,719.59 L271.63,707.86 L271.84,715.86 L272.04,707.77 L272.25,715.91 L272.45,707.68 L272.65,715.95 L272.86,707.58 L273.06,716.00 L273.27,709.78 L273.47,715.33 L273.67,709.80 L273.88,715.32 L274.08,709.81 L274.29,715.31 L274.49,709.83 L274.70,715.30 L274.90,709.74 L275.10,721.99 L275.31,709.76 L275.51,721.94 L275.72,709.78 L275.92,721.90 L276.12,709.80 L276.33,721.85 L276.53,704.84 L276.74,716.90 L276.94,704.89 L277.14,716.88 L277.35,704.93 L277.55,716.86 L277.76,704.98 L277.96,716.84 L278.16,707.13 L278.37,715.87 L278.57,707.17 L278.78,715.86 L278.98,707.20 L279.18,715.84 L279.39,707.24 L279.59,715.83 L279.80,708.39 L280.00,719.77 L280.20,708.42 L280.41,719.73 L280.61,708.44 L280.82,719.70 L281.02,708.47 L281.23,719.66 L281.43,706.01 L281.63,719.98 L281.84,706.05 L282.04,719.94 L282.25,706.10 L282.45,719.90 L282.65,706.14 L282.86,719.86 L283.06,705.24 L283.27,721.11 L283.47,705.29 L283.67,721.06 L283.88,705.34 L284.08,721.02 L284.29,705.39 L284.49,720.97 L284.69,710.50 L284.90,718.27 L285.10,710.52 L285.31,718.24 L285.51,710.53 L285.71,718.21 L285.92,710.55 L286.12,718.18 L286.33,705.07 L286.53,716.92 L286.74,705.12 L286.94,716.89 L287.14,705.17 L287.35,716.87 L287.55,705.23 L287.76,716.85 L287.96,711.56 L288.16,716.86 L288.37,711.57 L288.57,716.84 L288.78,711.60 L288.98,716.74 L289.18,711.64 L289.39,716.65 L289.59,708.15 L289.80,715.89 L290.00,708.29 L290.20,715.81 L290.41,708.44 L290.61,715.74 L290.82,708.59 L291.02,715.66 L291.22,710.56 L291.43,717.80 L291.63,710.65 L291.84,717.65 L292.04,710.74 L292.24,717.50 L292.45,710.82 L292.65,717.35 L292.86,710.96 L293.06,718.57 L293.27,711.05 L293.47,718.37 L293.67,711.13 L293.88,718.17 L294.08,711.21 L294.29,717.97 L294.49,710.36 L294.69,714.52 L294.90,710.48 L295.10,714.46 L295.31,710.61 L295.51,714.40 L295.71,710.74 L295.92,714.35 L296.12,710.51 L296.33,715.26 L296.53,710.53 L296.73,715.28 L296.94,710.51 L297.14,715.29 L297.35,710.49 L297.55,715.31 L297.75,711.01 L297.96,715.21 L298.16,710.99 L298.37,715.23 L298.57,710.98 L298.78,715.24 L298.98,710.96 L299.18,715.26 L299.39,710.01 L299.59,714.36 L299.80,709.99 L300.00,714.37 L300.20,709.96 L300.41,714.38 L300.61,709.94 L300.82,714.38 L301.02,709.10 L301.22,716.18 L301.43,709.07 L301.63,716.20 L301.84,709.04 L302.04,716.22 L302.24,709.00 L302.45,716.24 L302.65,711.76 L302.86,717.65 L303.06,711.74 L303.26,717.68 L303.47,711.73 L303.67,717.71 L303.88,711.72 L304.08,717.74 L304.28,711.46 L304.49,715.18 L304.69,711.45 L304.90,715.19 L305.10,711.44 L305.31,715.21 L305.51,711.42 L305.71,715.22 L305.92,710.01 L306.12,716.93 L306.33,709.99 L306.53,716.96 L306.73,709.97 L306.94,716.98 L307.14,709.95 L307.35,717.01 L307.55,710.70 L307.75,717.70 L307.96,710.68 L308.16,717.73 L308.37,710.66 L308.57,717.76 L308.77,710.65 L308.98,717.79 L309.18,710.93 L309.39,715.46 L309.59,710.76 L309.79,715.61 L310.00,710.60 L310.20,715.76 L310.41,710.43 L310.61,715.92 L310.81,709.26 L311.02,719.59 L311.22,709.04 L311.43,719.93 L311.63,708.82 L311.84,720.28 L312.04,708.60 L312.24,720.62 L312.45,707.13 L312.65,719.84 L312.86,706.85 L313.06,720.14 L313.26,706.57 L313.47,720.43 L313.67,706.29 L313.88,720.72 L314.08,704.40 L314.28,720.22 L314.49,704.05 L314.69,720.48 L314.90,703.71 L315.10,720.75 L315.30,703.37 L315.51,721.01 L315.71,702.74 L315.92,717.23 L316.12,702.39 L316.32,717.36 L316.53,702.04 L316.73,717.46 L316.94,701.95 L317.14,717.46 L317.35,703.10 L317.55,718.25 L317.75,703.10 L317.96,718.25 L318.16,703.10 L318.37,718.25 L318.57,703.10 L318.77,718.25 L318.98,707.59 L319.18,716.58 L319.39,707.59 L319.59,716.58 L319.79,707.59 L320.00,716.58 L320.20,707.59 L320.41,716.58 L320.61,702.49 L320.81,724.11 L321.02,702.49 L321.22,724.11 L321.43,702.49 L321.63,724.11 L321.83,702.49 L322.04,724.11 L322.24,704.14 L322.45,723.29 L322.65,704.14 L322.85,723.29 L323.06,704.14 L323.26,723.29 L323.47,704.14 L323.67,723.29 L323.88,709.22 L324.08,716.44 L324.28,709.22 L324.49,716.44 L324.69,709.22 L324.90,716.44 L325.10,709.22 L325.30,716.44 L325.51,701.84 L325.71,720.65 L325.92,701.84 L326.12,720.65 L326.32,701.84 L326.53,720.65 L326.73,701.84 L326.94,720.65 L327.14,708.53 L327.34,717.64 L327.55,708.53 L327.75,717.64 L327.96,708.53 L328.16,717.64 L328.36,708.53 L328.57,717.64 L328.77,704.41 L328.98,722.88 L329.18,704.41 L329.39,722.88 L329.59,704.41 L329.79,722.88 L330.00,704.41 L330.20,722.88 L330.41,704.29 L330.61,721.05 L330.81,704.29 L331.02,721.05 L331.22,704.29 L331.43,721.05 L331.63,704.29 L331.83,721.05 L332.04,702.27 L332.24,724.58 L332.45,702.27 L332.65,724.58 L332.85,702.27 L333.06,724.58 L333.26,702.27 L333.47,724.58 L333.67,704.56 L333.87,722.51 L334.08,704.56 L334.28,722.51 L334.49,704.56 L334.69,722.51 L334.89,704.56 L335.10,722.51 L335.30,701.55 L335.51,716.57 L335.71,701.55 L335.92,716.57 L336.12,701.55 L336.32,716.57 L336.53,701.55 L336.73,716.57 L336.94,710.31 L337.14,719.08 L337.34,710.41 L337.55,718.81 L337.75,710.55 L337.96,718.53 L338.16,710.69 L338.36,718.26 L338.57,711.00 L338.77,719.53 L338.98,711.12 L339.18,719.16 L339.38,711.25 L339.59,718.80 L339.79,711.38 L340.00,718.43 L340.20,710.55 L340.40,720.02 L340.61,710.75 L340.81,719.51 L341.02,710.94 L341.22,718.99 L341.42,711.14 L341.63,718.48 L341.83,709.71 L342.04,715.77 L342.24,709.99 L342.45,715.68 L342.65,710.03 L342.85,715.65 L343.06,710.06 L343.26,715.63 L343.47,710.67 L343.67,714.91 L343.87,710.70 L344.08,714.89 L344.28,710.73 L344.49,714.87 L344.69,710.76 L344.89,714.85 L345.10,712.03 L345.30,715.18 L345.51,712.05 L345.71,715.16 L345.91,712.06 L346.12,715.14 L346.32,712.07 L346.53,715.12 L346.73,711.67 L346.93,714.97 L347.14,711.69 L347.34,714.95 L347.55,711.71 L347.75,714.93 L347.96,711.73 L348.16,714.91 L348.36,710.49 L348.57,714.58 L348.77,710.52 L348.98,714.57 L349.18,710.56 L349.38,714.55 L349.59,710.59 L349.79,714.53 L350.00,711.18 L350.20,715.11 L350.40,711.21 L350.61,715.09 L350.81,711.24 L351.02,715.06 L351.22,711.26 L351.42,715.04 L351.63,710.21 L351.83,714.73 L352.04,710.25 L352.24,714.71 L352.44,710.29 L352.65,714.69 L352.85,710.34 L353.06,714.67 L353.26,711.22 L353.46,715.38 L353.67,711.25 L353.87,715.35 L354.08,711.28 L354.28,715.32 L354.49,711.30 L354.69,715.29 L354.89,710.24 L355.10,716.27 L355.30,710.29 L355.51,716.23 L355.71,710.33 L355.91,716.18 L356.12,710.38 L356.32,716.13 L356.53,710.72 L356.73,716.24 L356.93,710.76 L357.14,716.19 L357.34,710.80 L357.55,716.14 L357.75,710.85 L357.95,716.09 L358.16,711.51 L358.36,714.19 L358.57,711.54 L358.77,714.18 L358.97,711.57 L359.18,714.16 L359.38,711.60 L359.59,714.14 L359.79,711.92 L360.00,715.01 L360.20,711.95 L360.40,714.98 L360.61,711.97 L360.81,714.94 L361.02,712.00 L361.22,714.91 L361.42,712.31 L361.63,715.08 L361.83,712.33 L362.04,715.05 L362.24,712.35 L362.44,715.01 L362.65,712.33 L362.85,715.24 L363.06,711.98 L363.26,714.26 L363.46,711.79 L363.67,714.40 L363.87,711.59 L364.08,714.54 L364.28,711.40 L364.48,714.69 L364.69,710.97 L364.89,716.32 L365.10,710.76 L365.30,716.60 L365.50,710.55 L365.71,716.87 L365.91,710.33 L366.12,717.15 L366.32,710.09 L366.53,715.65 L366.73,709.87 L366.93,715.81 L367.14,709.65 L367.34,715.97 L367.55,709.44 L367.75,716.11 L367.95,710.48 L368.16,717.26 L368.36,710.41 L368.57,717.36 L368.77,710.34 L368.97,717.46 L369.18,710.26 L369.38,717.57 L369.59,708.10 L369.79,717.38 L369.99,707.97 L370.20,717.48 L370.40,707.85 L370.61,717.58 L370.81,707.73 L371.01,717.67 L371.22,710.43 L371.42,721.64 L371.63,710.36 L371.83,721.82 L372.03,710.30 L372.24,722.00 L372.44,710.24 L372.65,722.18 L372.85,703.77 L373.06,717.39 L373.26,703.58 L373.46,717.47 L373.67,703.39 L373.87,717.55 L374.08,703.21 L374.28,717.63 L374.48,705.93 L374.69,720.54 L374.89,705.79 L375.10,720.67 L375.30,705.66" stroke="#0072bd" stroke-dasharray="12.7 3.4 6.4 3.4"/>
<path d="M74.2,712.8V705.2M83.4,711.3V717.8M74.3,718.6V714.3M74.2,704.8V698.1M79.8,729.9V739.8M76.7,713.0V705.5M80.3,695.8V702.4M71.5,716.3V708.6M71.5,713.1V720.4M80.5,707.9V700.1M75.1,719.7V724.4M82.3,713.1V708.7M72.8,705.7V709.0M72.9,711.7V721.0M82.4,710.3V713.6M74.7,716.0V721.2M70.9,710.8V703.2M72.6,712.8V719.7M155.8,724.4V730.4M86.6,718.1V709.9M143.0,715.0V705.2M181.7,705.1V710.2M184.6,725.3V734.4M145.8,704.9V699.4M189.8,697.3V703.5M109.7,708.5V712.7M116.4,708.9V718.7M132.5,713.4V707.4M139.0,722.5V730.9M172.3,709.0V705.5M132.4,710.2V718.6M89.7,707.5V702.5M159.5,692.9V686.4M108.4,707.5V715.7M179.0,709.9V714.4M107.2,700.9V693.8M116.2,723.9V733.2M99.2,722.3V717.8M116.9,716.2V709.5M148.9,718.4V713.8M113.1,707.8V703.4M89.7,715.8V722.6M147.3,699.5V692.9M163.2,701.2V693.3M96.2,707.2V716.7M130.0,716.3V707.9M91.8,708.4V714.1M86.3,706.8V713.7M124.6,721.7V713.5M115.2,710.5V719.9M178.3,707.7V715.9M86.0,711.5V704.6M153.8,700.8V696.6M163.1,703.7V694.1M129.2,719.8V725.1M138.2,712.3V718.5M111.0,719.8V729.5M111.5,708.7V713.5M90.2,720.1V710.2M181.5,706.0V710.9M87.6,710.2V706.3M99.2,705.6V712.6M162.1,714.4V705.3M133.5,724.8V718.5M139.4,699.3V689.9M116.1,714.6V720.8M101.8,702.4V693.2M170.1,709.8V714.0M97.8,707.9V713.3M116.2,698.8V694.6M165.1,710.6V719.2M116.4,702.2V708.9M186.4,725.0V733.0M103.3,706.4V711.4M141.0,715.2V706.5M142.1,714.3V703.8M138.1,713.2V717.0M167.5,710.5V704.9M89.4,700.2V709.7M143.0,727.9V718.4M169.1,712.9V722.5M89.9,718.9V714.0M143.0,704.0V711.4M131.7,716.6V712.7M127.9,709.6V716.1M142.1,716.4V723.9M151.4,708.0V702.8M159.9,705.2V698.9M180.7,716.4V710.4M154.8,712.9V716.8M191.5,724.5V728.3M155.7,710.8V719.8M113.3,706.5V709.8M100.3,717.6V707.2M92.1,704.4V714.2M113.2,729.6V719.2M97.3,727.9V736.9M157.7,724.2V727.5M158.4,717.1V721.2M150.1,713.1V718.7M125.5,713.9V718.5M134.2,713.8V710.0M112.3,707.5V717.5M182.9,717.0V726.9M86.2,723.2V732.1M118.9,723.1V728.2M145.9,696.6V687.1M103.9,731.8V722.6M176.0,714.6V720.3M136.0,701.7V705.9M124.2,709.4V705.2M91.2,719.8V713.5M114.6,713.2V703.9M147.7,706.4V710.3M114.6,703.7V710.1M89.3,720.4V726.2M146.6,707.2V697.5M117.1,711.3V715.7M175.2,704.5V696.5M158.6,702.3V707.9M161.8,716.0V723.9M179.9,724.7V733.9M171.3,710.1V700.9M200.0,711.5V721.6M197.2,719.6V727.1M196.8,724.8V717.4M193.2,724.7V719.8M203.2,720.4V728.3M216.3,719.7V728.4M283.4,721.4V730.9M267.7,697.5V702.9M290.2,718.1V722.2M235.3,704.3V695.0M233.2,698.6V702.1M220.9,721.2V716.2M235.2,711.4V706.4M236.9,716.5V725.4M225.0,709.6V703.1M231.8,711.2V701.8M234.2,698.3V706.5M281.7,709.0V718.4M247.1,713.8V722.8M278.5,704.8V695.1M213.7,715.9V710.6M225.4,716.6V722.5M289.7,696.0V703.9M213.7,720.2V712.7M215.3,717.6V726.5M253.1,713.4V722.5M233.9,722.1V727.6M225.8,730.4V726.2M260.7,705.4V696.7M260.8,719.9V728.2M225.3,718.0V723.3M254.9,716.7V712.9M247.8,721.5V724.9M280.8,722.2V727.3M215.3,712.4V717.7M229.1,694.8V690.0M257.1,707.9V704.2M212.3,707.8V703.3M280.7,725.6V719.8M291.0,713.9V709.9M237.1,723.1V718.3M274.7,707.6V714.1M230.5,715.5V706.1M289.3,713.4V723.0M227.3,714.4V708.2M210.0,718.3V714.1M215.2,725.7V720.5M248.1,709.1V717.3M212.7,724.6V730.9M292.0,723.0V730.5M262.6,716.1V724.7M257.4,719.3V727.4M262.2,711.6V721.2M244.7,705.7V701.8M284.1,711.7V717.2M269.5,712.2V708.6M245.7,713.5V706.5M233.4,706.9V714.7M221.6,728.3V723.2M236.0,710.8V714.5M239.2,721.1V714.4M216.3,723.5V728.0M287.4,713.7V709.0M231.2,716.8V722.8M255.0,709.1V719.2M215.1,705.0V710.9M256.0,732.1V740.5M263.9,714.3V720.3M216.2,698.2V692.0M291.6,706.9V711.2M223.2,702.3V706.9M231.6,712.9V704.0M271.5,725.1V718.7M237.8,722.6V728.0M283.3,708.1V718.5M229.5,706.1V696.5M235.9,719.5V724.7M267.8,715.8V722.3M281.9,711.6V704.2M283.9,727.5V732.0M233.7,716.5V710.1M254.2,700.9V695.6M244.1,696.4V705.6M266.4,714.6V718.5M228.6,699.2V709.7M280.1,717.9V722.9M269.5,720.1V725.8M298.0,706.9V697.0M297.2,718.7V723.3M310.5,706.2V714.7M297.1,722.8V727.1M308.5,705.6V700.1M331.9,694.8V684.4M332.5,710.2V704.9M333.3,714.7V705.2M322.6,716.3V723.0M316.5,705.2V695.2M311.7,708.2V702.8M323.9,722.2V712.2M337.7,711.9V717.4M324.1,724.2V730.8M328.8,719.6V727.5M337.3,723.9V716.6M335.7,724.1V732.3M332.3,719.1V710.7M328.1,721.4V726.6M318.0,709.4V706.1M332.5,707.3V698.7M323.2,715.5V707.9M331.3,722.5V729.9M317.8,707.2V700.3M337.9,729.7V739.7M316.1,728.9V723.5M333.7,707.8V717.7M336.5,708.4V712.9M315.8,705.9V697.5M335.8,715.3V725.4M329.6,723.6V719.2M328.5,717.6V726.5M318.7,709.1V703.8M320.7,719.7V716.0M318.1,719.2V712.8M323.9,724.7V716.3M329.7,722.8V728.2M332.0,706.9V696.7M331.3,710.0V706.7M321.3,722.8V728.0M321.0,722.2V727.9M333.0,718.1V712.1M338.9,709.3V703.8M317.7,722.9V726.3M323.1,714.9V719.8M319.3,730.6V725.4M345.4,707.3V697.1M348.6,710.5V706.2M356.7,711.6V707.8M363.6,720.4V711.5M348.3,717.6V728.1M369.3,720.2V710.0M370.4,710.0V718.8M374.3,716.3V709.8M372.8,707.5V712.0M365.7,714.2V723.6M369.7,717.0V726.8M373.0,696.3V687.5M370.6,715.2V720.6M371.9,714.7V708.6M375.0,722.0V714.5M375.1,719.3V729.3M373.6,708.3V703.2M373.3,700.1V726.4M374.0,719.8V746.2M374.8,726.4V751.4M373.0,693.5V710.6M321.7,702.7V686.9M331.9,705.3V686.9M323.3,719.8V733.0" stroke="#0072bd" stroke-linejoin="miter"/>
</g>
<path d="M69.20,818.60v-3.50M69.20,647.40v3.50M171.23,818.60v-3.50M171.23,647.40v3.50M273.27,818.60v-3.50M273.27,647.40v3.50M375.30,818.60v-3.50M375.30,647.40v3.50M69.20,779.09h3.50M375.30,779.09h-3.50M69.20,713.25h3.50M375.30,713.25h-3.50M69.20,647.40h3.50M375.30,647.40h-3.50" stroke="#4a4a4a" stroke-width="1.3" fill="none"/>
<rect x="69.20" y="647.40" width="306.10" height="171.20" fill="none" stroke="#4a4a4a" stroke-width="1.6"/>
<text x="61.80" y="786.59" font-size="18.5" text-anchor="end">-0.5</text>
<text x="61.80" y="720.75" font-size="18.5" text-anchor="end">0</text>
<text x="61.80" y="654.90" font-size="18.5" text-anchor="end">0.5</text>
<text x="69.20" y="845.20" font-size="18.5" text-anchor="middle">0</text>
<text x="171.23" y="845.20" font-size="18.5" text-anchor="middle">2</text>
<text x="273.27" y="845.20" font-size="18.5" text-anchor="middle">4</text>
<text x="375.30" y="845.20" font-size="18.5" text-anchor="middle">6</text>
<text x="222.25" y="873.10" font-size="21.3" text-anchor="middle">time / s</text>
<text transform="translate(17.80,733.00) rotate(-90)" font-size="21.3" text-anchor="middle">torque / (Nm)</text>
<g stroke="#e2e2e2" stroke-width="1"><line x1="574.30" y1="647.40" x2="574.30" y2="818.60"/><line x1="676.80" y1="647.40" x2="676.80" y2="818.60"/><line x1="471.80" y1="804.33" x2="779.30" y2="804.33"/><line x1="471.80" y1="733.00" x2="779.30" y2="733.00"/><line x1="471.80" y1="661.67" x2="779.30" y2="661.67"/></g>
<g clip-path="url(#cCr)" fill="none" stroke-width="4.2" stroke-linejoin="round">
<path d="M471.80,733.00 L472.31,730.76 L472.82,728.52 L473.34,726.29 L473.85,724.06 L474.36,721.84 L474.88,719.63 L475.39,717.44 L475.90,715.26 L476.41,713.10 L476.93,710.96 L477.44,708.84 L477.95,706.74 L478.46,704.67 L478.98,702.63 L479.49,700.62 L480.00,698.63 L480.51,696.69 L481.03,694.78 L481.54,692.90 L482.05,691.07 L482.56,689.28 L483.07,687.53 L483.59,685.83 L484.10,684.17 L484.61,682.56 L485.12,681.00 L485.64,679.49 L486.15,678.04 L486.66,676.64 L487.18,675.29 L487.69,674.00 L488.20,672.77 L488.71,671.60 L489.23,670.49 L489.74,669.44 L490.25,668.46 L490.76,667.53 L491.28,666.68 L491.79,665.88 L492.30,665.16 L492.81,664.50 L493.32,663.91 L493.84,663.38 L494.35,662.93 L494.86,662.54 L495.38,662.23 L495.89,661.98 L496.40,661.81 L496.91,661.70 L497.43,661.67 L497.94,661.70 L498.45,661.81 L498.96,661.98 L499.48,662.23 L499.99,662.54 L500.50,662.93 L501.01,663.38 L501.52,663.91 L502.04,664.50 L502.55,665.16 L503.06,665.88 L503.57,666.68 L504.09,667.53 L504.60,668.46 L505.11,669.44 L505.62,670.49 L506.14,671.60 L506.65,672.77 L507.16,674.00 L507.68,675.29 L508.19,676.64 L508.70,678.04 L509.21,679.49 L509.73,681.00 L510.24,682.56 L510.75,684.17 L511.26,685.83 L511.77,687.53 L512.29,689.28 L512.80,691.07 L513.31,692.90 L513.83,694.78 L514.34,696.69 L514.85,698.63 L515.36,700.62 L515.88,702.63 L516.39,704.67 L516.90,706.74 L517.41,708.84 L517.92,710.96 L518.44,713.10 L518.95,715.26 L519.46,717.44 L519.98,719.63 L520.49,721.84 L521.00,724.06 L521.51,726.29 L522.02,728.52 L522.54,730.76 L523.05,733.00 L523.56,735.24 L524.08,737.48 L524.59,739.71 L525.10,741.94 L525.61,744.16 L526.12,746.37 L526.64,748.56 L527.15,750.74 L527.66,752.90 L528.17,755.04 L528.69,757.16 L529.20,759.26 L529.71,761.33 L530.23,763.37 L530.74,765.38 L531.25,767.37 L531.76,769.31 L532.27,771.22 L532.79,773.10 L533.30,774.93 L533.81,776.72 L534.33,778.47 L534.84,780.17 L535.35,781.83 L535.86,783.44 L536.38,785.00 L536.89,786.51 L537.40,787.96 L537.91,789.36 L538.42,790.71 L538.94,792.00 L539.45,793.23 L539.96,794.40 L540.48,795.51 L540.99,796.56 L541.50,797.54 L542.01,798.47 L542.52,799.32 L543.04,800.12 L543.55,800.84 L544.06,801.50 L544.58,802.09 L545.09,802.62 L545.60,803.07 L546.11,803.46 L546.62,803.77 L547.14,804.02 L547.65,804.19 L548.16,804.30 L548.67,804.33 L549.19,804.30 L549.70,804.19 L550.21,804.02 L550.73,803.77 L551.24,803.46 L551.75,803.07 L552.26,802.62 L552.77,802.09 L553.29,801.50 L553.80,800.84 L554.31,800.12 L554.83,799.32 L555.34,798.47 L555.85,797.54 L556.36,796.56 L556.88,795.51 L557.39,794.40 L557.90,793.23 L558.41,792.00 L558.92,790.71 L559.44,789.36 L559.95,787.96 L560.46,786.51 L560.98,785.00 L561.49,783.44 L562.00,781.83 L562.51,780.17 L563.02,778.47 L563.54,776.72 L564.05,774.93 L564.56,773.10 L565.08,771.22 L565.59,769.31 L566.10,767.37 L566.61,765.38 L567.12,763.37 L567.64,761.33 L568.15,759.26 L568.66,757.16 L569.17,755.04 L569.69,752.90 L570.20,750.74 L570.71,748.56 L571.23,746.37 L571.74,744.16 L572.25,741.94 L572.76,739.71 L573.27,737.48 L573.79,735.24 L574.30,733.00 L574.81,730.76 L575.33,728.52 L575.84,726.29 L576.35,724.06 L576.86,721.84 L577.38,719.63 L577.89,717.44 L578.40,715.26 L578.91,713.10 L579.42,710.96 L579.94,708.84 L580.45,706.74 L580.96,704.67 L581.48,702.63 L581.99,700.62 L582.50,698.63 L583.01,696.69 L583.52,694.78 L584.04,692.90 L584.55,691.07 L585.06,689.28 L585.58,687.53 L586.09,685.83 L586.60,684.17 L587.11,682.56 L587.62,681.00 L588.14,679.49 L588.65,678.04 L589.16,676.64 L589.67,675.29 L590.19,674.00 L590.70,672.77 L591.21,671.60 L591.73,670.49 L592.24,669.44 L592.75,668.46 L593.26,667.53 L593.77,666.68 L594.29,665.88 L594.80,665.16 L595.31,664.50 L595.83,663.91 L596.34,663.38 L596.85,662.93 L597.36,662.54 L597.88,662.23 L598.39,661.98 L598.90,661.81 L599.41,661.70 L599.92,661.67 L600.44,661.70 L600.95,661.81 L601.46,661.98 L601.98,662.23 L602.49,662.54 L603.00,662.93 L603.51,663.38 L604.02,663.91 L604.54,664.50 L605.05,665.16 L605.56,665.88 L606.08,666.68 L606.59,667.53 L607.10,668.46 L607.61,669.44 L608.12,670.49 L608.64,671.60 L609.15,672.77 L609.66,674.00 L610.17,675.29 L610.69,676.64 L611.20,678.04 L611.71,679.49 L612.23,681.00 L612.74,682.56 L613.25,684.17 L613.76,685.83 L614.27,687.53 L614.79,689.28 L615.30,691.07 L615.81,692.90 L616.33,694.78 L616.84,696.69 L617.35,698.63 L617.86,700.62 L618.38,702.63 L618.89,704.67 L619.40,706.74 L619.91,708.84 L620.42,710.96 L620.94,713.10 L621.45,715.26 L621.96,717.44 L622.48,719.63 L622.99,721.84 L623.50,724.06 L624.01,726.29 L624.52,728.52 L625.04,730.76 L625.55,733.00 L626.06,735.24 L626.57,737.48 L627.09,739.71 L627.60,741.94 L628.11,744.16 L628.62,746.37 L629.14,748.56 L629.65,750.74 L630.16,752.90 L630.67,755.04 L631.19,757.16 L631.70,759.26 L632.21,761.33 L632.72,763.37 L633.24,765.38 L633.75,767.37 L634.26,769.31 L634.77,771.22 L635.29,773.10 L635.80,774.93 L636.31,776.72 L636.83,778.47 L637.34,780.17 L637.85,781.83 L638.36,783.44 L638.88,785.00 L639.39,786.51 L639.90,787.96 L640.41,789.36 L640.92,790.71 L641.44,792.00 L641.95,793.23 L642.46,794.40 L642.97,795.51 L643.49,796.56 L644.00,797.54 L644.51,798.47 L645.02,799.32 L645.54,800.12 L646.05,800.84 L646.56,801.50 L647.07,802.09 L647.59,802.62 L648.10,803.07 L648.61,803.46 L649.12,803.77 L649.64,804.02 L650.15,804.19 L650.66,804.30 L651.17,804.33 L651.69,804.30 L652.20,804.19 L652.71,804.02 L653.22,803.77 L653.74,803.46 L654.25,803.07 L654.76,802.62 L655.27,802.09 L655.79,801.50 L656.30,800.84 L656.81,800.12 L657.33,799.32 L657.84,798.47 L658.35,797.54 L658.86,796.56 L659.38,795.51 L659.89,794.40 L660.40,793.23 L660.91,792.00 L661.42,790.71 L661.94,789.36 L662.45,787.96 L662.96,786.51 L663.48,785.00 L663.99,783.44 L664.50,781.83 L665.01,780.17 L665.52,778.47 L666.04,776.72 L666.55,774.93 L667.06,773.10 L667.58,771.22 L668.09,769.31 L668.60,767.37 L669.11,765.38 L669.62,763.37 L670.14,761.33 L670.65,759.26 L671.16,757.16 L671.67,755.04 L672.19,752.90 L672.70,750.74 L673.21,748.56 L673.72,746.37 L674.24,744.16 L674.75,741.94 L675.26,739.71 L675.77,737.48 L676.29,735.24 L676.80,733.00 L677.31,730.76 L677.83,728.52 L678.34,726.29 L678.85,724.06 L679.36,721.84 L679.88,719.63 L680.39,717.44 L680.90,715.26 L681.41,713.10 L681.92,710.96 L682.44,708.84 L682.95,706.74 L683.46,704.67 L683.97,702.63 L684.49,700.62 L685.00,698.63 L685.51,696.69 L686.02,694.78 L686.54,692.90 L687.05,691.07 L687.56,689.28 L688.07,687.53 L688.59,685.83 L689.10,684.17 L689.61,682.56 L690.12,681.00 L690.64,679.49 L691.15,678.04 L691.66,676.64 L692.17,675.29 L692.69,674.00 L693.20,672.77 L693.71,671.60 L694.22,670.49 L694.74,669.44 L695.25,668.46 L695.76,667.53 L696.27,666.68 L696.79,665.88 L697.30,665.16 L697.81,664.50 L698.33,663.91 L698.84,663.38 L699.35,662.93 L699.86,662.54 L700.38,662.23 L700.89,661.98 L701.40,661.81 L701.91,661.70 L702.42,661.67 L702.94,661.70 L703.45,661.81 L703.96,661.98 L704.48,662.23 L704.99,662.54 L705.50,662.93 L706.01,663.38 L706.52,663.91 L707.04,664.50 L707.55,665.16 L708.06,665.88 L708.57,666.68 L709.09,667.53 L709.60,668.46 L710.11,669.44 L710.62,670.49 L711.14,671.60 L711.65,672.77 L712.16,674.00 L712.67,675.29 L713.19,676.64 L713.70,678.04 L714.21,679.49 L714.72,681.00 L715.24,682.56 L715.75,684.17 L716.26,685.83 L716.77,687.53 L717.29,689.28 L717.80,691.07 L718.31,692.90 L718.82,694.78 L719.34,696.69 L719.85,698.63 L720.36,700.62 L720.88,702.63 L721.39,704.67 L721.90,706.74 L722.41,708.84 L722.92,710.96 L723.44,713.10 L723.95,715.26 L724.46,717.44 L724.97,719.63 L725.49,721.84 L726.00,724.06 L726.51,726.29 L727.02,728.52 L727.54,730.76 L728.05,733.00 L728.56,735.24 L729.08,737.48 L729.59,739.71 L730.10,741.94 L730.61,744.16 L731.12,746.37 L731.64,748.56 L732.15,750.74 L732.66,752.90 L733.17,755.04 L733.69,757.16 L734.20,759.26 L734.71,761.33 L735.22,763.37 L735.74,765.38 L736.25,767.37 L736.76,769.31 L737.27,771.22 L737.79,773.10 L738.30,774.93 L738.81,776.72 L739.33,778.47 L739.84,780.17 L740.35,781.83 L740.86,783.44 L741.38,785.00 L741.89,786.51 L742.40,787.96 L742.91,789.36 L743.42,790.71 L743.94,792.00 L744.45,793.23 L744.96,794.40 L745.47,795.51 L745.99,796.56 L746.50,797.54 L747.01,798.47 L747.52,799.32 L748.04,800.12 L748.55,800.84 L749.06,801.50 L749.57,802.09 L750.09,802.62 L750.60,803.07 L751.11,803.46 L751.62,803.77 L752.14,804.02 L752.65,804.19 L753.16,804.30 L753.67,804.33 L754.19,804.30 L754.70,804.19 L755.21,804.02 L755.72,803.77 L756.24,803.46 L756.75,803.07 L757.26,802.62 L757.77,802.09 L758.29,801.50 L758.80,800.84 L759.31,800.12 L759.82,799.32 L760.34,798.47 L760.85,797.54 L761.36,796.56 L761.88,795.51 L762.39,794.40 L762.90,793.23 L763.41,792.00 L763.92,790.71 L764.44,789.36 L764.95,787.96 L765.46,786.51 L765.97,785.00 L766.49,783.44 L767.00,781.83 L767.51,780.17 L768.02,778.47 L768.54,776.72 L769.05,774.93 L769.56,773.10 L770.08,771.22 L770.59,769.31 L771.10,767.37 L771.61,765.38 L772.12,763.37 L772.64,761.33 L773.15,759.26 L773.66,757.16 L774.17,755.04 L774.69,752.90 L775.20,750.74 L775.71,748.56 L776.22,746.37 L776.74,744.16 L777.25,741.94 L777.76,739.71 L778.27,737.48 L778.79,735.24 L779.30,733.00" stroke="#ff0000"/>
<path d="M471.80,733.00 L472.31,730.15 L472.82,727.40 L473.34,724.78 L473.85,722.30 L474.36,720.00 L474.88,717.85 L475.39,715.79 L475.90,713.75 L476.41,711.66 L476.93,709.46 L477.44,706.97 L477.95,704.30 L478.46,701.79 L478.98,699.83 L479.49,698.40 L480.00,697.19 L480.51,696.14 L481.03,695.15 L481.54,694.15 L482.05,693.05 L482.56,691.83 L483.07,690.53 L483.59,689.20 L484.10,687.89 L484.61,686.64 L485.12,685.49 L485.64,684.49 L486.15,683.65 L486.66,682.92 L487.18,682.26 L487.69,681.64 L488.20,681.01 L488.71,680.35 L489.23,679.62 L489.74,678.79 L490.25,677.78 L490.76,676.62 L491.28,675.36 L491.79,674.06 L492.30,672.81 L492.81,671.65 L493.32,670.57 L493.84,669.49 L494.35,668.46 L494.86,667.51 L495.38,666.66 L495.89,665.89 L496.40,665.16 L496.91,664.47 L497.43,663.82 L497.94,663.21 L498.45,662.64 L498.96,662.13 L499.48,661.67 L499.99,661.22 L500.50,660.77 L501.01,660.33 L501.52,659.89 L502.04,659.48 L502.55,659.10 L503.06,658.77 L503.57,658.49 L504.09,658.28 L504.60,658.15 L505.11,658.10 L505.62,658.13 L506.14,658.21 L506.65,658.35 L507.16,658.55 L507.68,658.80 L508.19,659.10 L508.70,659.46 L509.21,659.87 L509.73,660.33 L510.24,660.84 L510.75,661.41 L511.26,662.02 L511.77,663.36 L512.29,665.73 L512.80,668.61 L513.31,671.47 L513.83,673.79 L514.34,675.53 L514.85,677.04 L515.36,678.40 L515.88,679.70 L516.39,681.03 L516.90,682.45 L517.41,684.05 L517.92,685.92 L518.44,688.18 L518.95,690.84 L519.46,693.79 L519.98,696.94 L520.49,700.19 L521.00,703.82 L521.51,707.87 L522.02,711.83 L522.54,715.17 L523.05,718.07 L523.56,720.83 L524.08,723.07 L524.59,724.44 L525.10,725.13 L525.61,725.61 L526.12,725.96 L526.64,726.24 L527.15,726.51 L527.66,726.86 L528.17,727.33 L528.69,728.01 L529.20,729.27 L529.71,731.33 L530.23,733.96 L530.74,736.97 L531.25,740.13 L531.76,744.31 L532.27,749.24 L532.79,752.97 L533.30,755.33 L533.81,757.41 L534.33,759.25 L534.84,760.88 L535.35,762.35 L535.86,763.68 L536.38,764.92 L536.89,766.09 L537.40,767.24 L537.91,768.37 L538.42,769.45 L538.94,770.49 L539.45,771.48 L539.96,772.42 L540.48,773.30 L540.99,774.11 L541.50,774.87 L542.01,775.55 L542.52,776.16 L543.04,776.72 L543.55,777.27 L544.06,777.81 L544.58,778.33 L545.09,778.83 L545.60,779.31 L546.11,779.77 L546.62,780.20 L547.14,780.59 L547.65,780.96 L548.16,781.29 L548.67,781.58 L549.19,781.84 L549.70,782.05 L550.21,782.22 L550.73,782.36 L551.24,782.50 L551.75,782.64 L552.26,782.77 L552.77,782.90 L553.29,783.02 L553.80,783.14 L554.31,783.25 L554.83,783.35 L555.34,783.45 L555.85,783.54 L556.36,783.62 L556.88,783.70 L557.39,783.77 L557.90,783.83 L558.41,783.88 L558.92,783.92 L559.44,783.96 L559.95,783.98 L560.46,784.00 L560.98,784.00 L561.49,783.97 L562.00,783.88 L562.51,783.73 L563.02,783.52 L563.54,783.25 L564.05,782.93 L564.56,781.82 L565.08,779.61 L565.59,776.92 L566.10,774.37 L566.61,772.06 L567.12,769.68 L567.64,767.24 L568.15,764.75 L568.66,762.25 L569.17,759.66 L569.69,756.96 L570.20,754.22 L570.71,751.53 L571.23,748.95 L571.74,746.55 L572.25,744.29 L572.76,742.09 L573.27,739.97 L573.79,737.97 L574.30,736.11 L574.81,734.43 L575.33,732.97 L575.84,731.70 L576.35,730.52 L576.86,729.34 L577.38,728.06 L577.89,726.58 L578.40,724.84 L578.91,722.88 L579.42,720.74 L579.94,718.50 L580.45,716.19 L580.96,713.87 L581.48,711.60 L581.99,709.31 L582.50,706.96 L583.01,704.61 L583.52,702.33 L584.04,700.15 L584.55,698.05 L585.06,695.94 L585.58,693.77 L586.09,691.40 L586.60,688.90 L587.11,686.52 L587.62,684.49 L588.14,682.88 L588.65,681.47 L589.16,680.15 L589.67,678.79 L590.19,677.22 L590.70,675.55 L591.21,674.08 L591.73,673.08 L592.24,672.45 L592.75,671.90 L593.26,671.42 L593.77,671.02 L594.29,670.68 L594.80,670.42 L595.31,670.23 L595.83,670.07 L596.34,669.92 L596.85,669.78 L597.36,669.64 L597.88,669.52 L598.39,669.40 L598.90,669.29 L599.41,669.19 L599.92,669.11 L600.44,669.03 L600.95,668.96 L601.46,668.90 L601.98,668.86 L602.49,668.83 L603.00,668.81 L603.51,668.80 L604.02,668.80 L604.54,668.81 L605.05,668.81 L605.56,668.82 L606.08,668.84 L606.59,668.86 L607.10,668.88 L607.61,668.90 L608.12,668.93 L608.64,668.97 L609.15,669.01 L609.66,669.05 L610.17,669.10 L610.69,669.16 L611.20,669.22 L611.71,669.28 L612.23,669.35 L612.74,669.43 L613.25,669.51 L613.76,669.75 L614.27,670.23 L614.79,670.89 L615.30,671.65 L615.81,672.81 L616.33,674.49 L616.84,676.46 L617.35,678.45 L617.86,680.21 L618.38,681.61 L618.89,682.80 L619.40,683.94 L619.91,685.20 L620.42,686.76 L620.94,688.77 L621.45,692.72 L621.96,698.15 L622.48,702.33 L622.99,704.71 L623.50,706.65 L624.01,708.27 L624.52,709.69 L625.04,711.04 L625.55,712.43 L626.06,714.01 L626.57,715.88 L627.09,718.25 L627.60,720.97 L628.11,723.64 L628.62,725.87 L629.14,727.60 L629.65,729.11 L630.16,730.46 L630.67,731.72 L631.19,732.96 L631.70,734.25 L632.21,735.67 L632.72,737.28 L633.24,739.12 L633.75,741.16 L634.26,743.34 L634.77,745.59 L635.29,747.87 L635.80,750.12 L636.31,752.44 L636.83,754.88 L637.34,757.30 L637.85,759.57 L638.36,761.53 L638.88,763.24 L639.39,764.84 L639.90,766.32 L640.41,767.69 L640.92,768.95 L641.44,770.09 L641.95,771.19 L642.46,772.31 L642.97,773.42 L643.49,774.50 L644.00,775.52 L644.51,776.47 L645.02,777.33 L645.54,778.07 L646.05,778.67 L646.56,779.11 L647.07,779.37 L647.59,779.52 L648.10,779.67 L648.61,779.81 L649.12,779.94 L649.64,780.06 L650.15,780.18 L650.66,780.29 L651.17,780.40 L651.69,780.50 L652.20,780.59 L652.71,780.67 L653.22,780.75 L653.74,780.82 L654.25,780.88 L654.76,780.94 L655.27,780.99 L655.79,781.03 L656.30,781.07 L656.81,781.10 L657.33,781.12 L657.84,781.14 L658.35,781.15 L658.86,781.15 L659.38,781.15 L659.89,781.15 L660.40,781.15 L660.91,781.15 L661.42,781.15 L661.94,781.15 L662.45,781.15 L662.96,781.15 L663.48,781.15 L663.99,781.15 L664.50,781.15 L665.01,781.15 L665.52,781.15 L666.04,781.15 L666.55,781.15 L667.06,781.15 L667.58,781.15 L668.09,781.15 L668.60,781.15 L669.11,780.36 L669.62,778.35 L670.14,775.69 L670.65,772.95 L671.16,769.92 L671.67,766.29 L672.19,762.43 L672.70,758.68 L673.21,754.97 L673.72,751.17 L674.24,747.55 L674.75,744.41 L675.26,741.72 L675.77,739.26 L676.29,737.06 L676.80,735.14 L677.31,733.48 L677.83,732.01 L678.34,730.70 L678.85,729.49 L679.36,728.32 L679.88,727.16 L680.39,725.96 L680.90,724.66 L681.41,723.22 L681.92,721.59 L682.44,719.77 L682.95,717.81 L683.46,715.68 L683.97,713.37 L684.49,710.86 L685.00,708.14 L685.51,705.18 L686.02,701.17 L686.54,697.33 L687.05,694.76 L687.56,692.47 L688.07,690.42 L688.59,688.58 L689.10,686.89 L689.61,685.31 L690.12,683.82 L690.64,682.35 L691.15,680.87 L691.66,679.36 L692.17,677.88 L692.69,676.45 L693.20,675.13 L693.71,673.94 L694.22,672.94 L694.74,672.17 L695.25,671.65 L695.76,671.31 L696.27,671.02 L696.79,670.76 L697.30,670.54 L697.81,670.35 L698.33,670.17 L698.84,670.01 L699.35,669.85 L699.86,669.69 L700.38,669.51 L700.89,669.34 L701.40,669.17 L701.91,669.02 L702.42,668.87 L702.94,668.72 L703.45,668.58 L703.96,668.44 L704.48,668.30 L704.99,668.16 L705.50,668.02 L706.01,667.87 L706.52,667.71 L707.04,667.55 L707.55,667.37 L708.06,667.17 L708.57,666.92 L709.09,666.65 L709.60,666.36 L710.11,666.08 L710.62,665.81 L711.14,665.58 L711.65,665.40 L712.16,665.28 L712.67,665.23 L713.19,665.28 L713.70,665.41 L714.21,665.61 L714.72,665.87 L715.24,666.19 L715.75,666.56 L716.26,666.95 L716.77,667.37 L717.29,667.89 L717.80,668.59 L718.31,669.46 L718.82,670.50 L719.34,671.71 L719.85,673.08 L720.36,675.15 L720.88,678.03 L721.39,681.11 L721.90,683.78 L722.41,685.93 L722.92,687.91 L723.44,689.75 L723.95,691.50 L724.46,693.21 L724.97,694.89 L725.49,696.61 L726.00,698.40 L726.51,700.29 L727.02,702.33 L727.54,704.52 L728.05,706.84 L728.56,709.25 L729.08,711.74 L729.59,714.29 L730.10,716.86 L730.61,719.45 L731.12,722.14 L731.64,724.97 L732.15,727.81 L732.66,730.53 L733.17,733.00 L733.69,735.19 L734.20,737.21 L734.71,739.14 L735.22,741.04 L735.74,742.99 L736.25,745.10 L736.76,747.33 L737.27,749.50 L737.79,751.44 L738.30,752.97 L738.81,754.13 L739.33,755.09 L739.84,755.93 L740.35,756.68 L740.86,757.42 L741.38,758.20 L741.89,759.08 L742.40,760.11 L742.91,761.26 L743.42,762.54 L743.94,764.02 L744.45,765.81 L744.96,768.87 L745.47,773.05 L745.99,776.83 L746.50,778.65 L747.01,778.97 L747.52,779.22 L748.04,779.43 L748.55,779.60 L749.06,779.73 L749.57,779.84 L750.09,779.93 L750.60,780.01 L751.11,780.08 L751.62,780.15 L752.14,780.22 L752.65,780.29 L753.16,780.36 L753.67,780.43 L754.19,780.49 L754.70,780.55 L755.21,780.61 L755.72,780.67 L756.24,780.72 L756.75,780.77 L757.26,780.82 L757.77,780.87 L758.29,780.91 L758.80,780.95 L759.31,780.99 L759.82,781.02 L760.34,781.05 L760.85,781.08 L761.36,781.10 L761.88,781.12 L762.39,781.13 L762.90,781.14 L763.41,781.15 L763.92,781.15 L764.44,781.14 L764.95,781.12 L765.46,781.08 L765.97,781.02 L766.49,780.95 L767.00,780.85 L767.51,780.74 L768.02,780.61 L768.54,780.45 L769.05,780.28 L769.56,780.08 L770.08,779.45 L770.59,778.18 L771.10,776.62 L771.61,775.09 L772.12,773.71 L772.64,772.28 L773.15,770.65 L773.66,768.67 L774.17,765.59 L774.69,761.48 L775.20,757.39 L775.71,754.40 L776.22,752.51 L776.74,750.95 L777.25,749.62 L777.76,748.39 L778.27,747.17 L778.79,745.84 L779.30,744.41" stroke="#0000ff" stroke-dasharray="12.7 13.2"/>
<path d="M471.80,717.88 L472.31,718.48 L472.82,735.65 L473.34,736.04 L473.85,733.17 L474.36,733.25 L474.88,735.18 L475.39,735.05 L475.90,757.16 L476.41,757.08 L476.93,743.53 L477.44,743.90 L477.95,735.39 L478.46,735.82 L478.98,731.79 L479.49,731.21 L480.00,737.88 L480.51,736.67 L481.03,727.20 L481.54,726.93 L482.05,726.24 L482.56,726.35 L483.07,731.13 L483.59,730.52 L484.10,727.00 L484.61,727.41 L485.12,726.64 L485.64,726.13 L486.15,726.89 L486.66,726.22 L487.18,727.09 L487.69,726.42 L488.20,723.19 L488.71,722.68 L489.23,724.05 L489.74,723.83 L490.25,724.08 L490.76,724.32 L491.28,724.20 L491.79,724.70 L492.30,725.93 L492.81,726.42 L493.32,725.20 L493.84,725.75 L494.35,726.64 L494.86,727.21 L495.38,727.27 L495.89,727.79 L496.40,729.02 L496.91,729.61 L497.43,731.70 L497.94,732.35 L498.45,732.34 L498.96,733.03 L499.48,732.63 L499.99,733.38 L500.50,735.59 L501.01,736.49 L501.52,733.89 L502.04,734.89 L502.55,739.31 L503.06,740.37 L503.57,741.81 L504.09,742.88 L504.60,742.08 L505.11,743.11 L505.62,744.56 L506.14,745.59 L506.65,747.45 L507.16,748.48 L507.68,749.74 L508.19,750.78 L508.70,751.12 L509.21,752.17 L509.73,752.78 L510.24,753.82 L510.75,754.95 L511.26,755.99 L511.77,757.50 L512.29,756.87 L512.80,755.00 L513.31,753.97 L513.83,753.08 L514.34,753.26 L514.85,753.78 L515.36,754.39 L515.88,759.23 L516.39,759.95 L516.90,758.25 L517.41,758.74 L517.92,758.87 L518.44,759.00 L518.95,757.82 L519.46,757.11 L519.98,755.27 L520.49,754.18 L521.00,750.48 L521.51,748.36 L522.02,747.45 L522.54,746.15 L523.05,748.47 L523.56,747.95 L524.08,747.31 L524.59,748.17 L525.10,742.29 L525.61,744.02 L526.12,756.03 L526.64,757.95 L527.15,755.92 L527.66,757.74 L528.17,754.01 L528.69,755.46 L529.20,761.51 L529.71,761.52 L530.23,771.15 L530.74,770.16 L531.25,758.63 L531.76,756.39 L532.27,756.64 L532.79,754.78 L533.30,753.08 L533.81,752.80 L534.33,747.72 L534.84,747.79 L535.35,750.47 L535.86,750.75 L536.38,754.21 L536.89,754.55 L537.40,749.91 L537.91,750.18 L538.42,752.39 L538.94,752.64 L539.45,754.30 L539.96,754.53 L540.48,753.92 L540.99,754.16 L541.50,754.59 L542.01,754.84 L542.52,757.62 L543.04,757.85 L543.55,758.53 L544.06,758.51 L544.58,756.67 L545.09,756.70 L545.60,759.62 L546.11,759.24 L546.62,759.54 L547.14,758.98 L547.65,754.01 L548.16,754.20 L548.67,756.01 L549.19,755.72 L549.70,755.17 L550.21,754.82 L550.73,754.55 L551.24,754.10 L551.75,753.40 L552.26,752.82 L552.77,752.17 L553.29,751.46 L553.80,750.64 L554.31,749.80 L554.83,749.84 L555.34,748.88 L555.85,746.01 L556.36,744.94 L556.88,745.55 L557.39,744.37 L557.90,741.29 L558.41,740.01 L558.92,741.84 L559.44,740.46 L559.95,738.12 L560.46,736.65 L560.98,732.93 L561.49,731.41 L562.00,731.11 L562.51,729.60 L563.02,728.67 L563.54,727.18 L564.05,724.59 L564.56,723.87 L565.08,725.73 L565.59,726.51 L566.10,725.91 L566.61,726.24 L567.12,731.12 L567.64,733.57 L568.15,729.25 L568.66,730.08 L569.17,732.10 L569.69,732.65 L570.20,726.44 L570.71,726.95 L571.23,725.42 L571.74,725.61 L572.25,735.52 L572.76,735.50 L573.27,721.33 L573.79,721.09 L574.30,733.27 L574.81,732.71 L575.33,740.29 L575.84,739.32 L576.35,740.12 L576.86,739.08 L577.38,715.79 L577.89,715.08 L578.40,723.92 L578.91,723.72 L579.42,726.91 L579.94,727.03 L580.45,727.82 L580.96,728.06 L581.48,730.26 L581.99,730.54 L582.50,716.96 L583.01,717.36 L583.52,725.93 L584.04,726.23 L584.55,715.81 L585.06,716.12 L585.58,727.90 L586.09,728.57 L586.60,741.68 L587.11,742.45 L587.62,724.69 L588.14,724.80 L588.65,731.67 L589.16,731.59 L589.67,730.86 L590.19,731.03 L590.70,722.73 L591.21,723.76 L591.73,731.42 L592.24,730.88 L592.75,726.16 L593.26,726.25 L593.77,728.67 L594.29,728.21 L594.80,728.54 L595.31,728.08 L595.83,726.29 L596.34,725.92 L596.85,726.79 L597.36,726.54 L597.88,724.40 L598.39,724.27 L598.90,724.49 L599.41,724.48 L599.92,725.49 L600.44,725.61 L600.95,725.20 L601.46,725.43 L601.98,725.77 L602.49,726.11 L603.00,727.42 L603.51,727.88 L604.02,727.15 L604.54,727.74 L605.05,729.59 L605.56,730.30 L606.08,730.18 L606.59,731.02 L607.10,733.59 L607.61,734.55 L608.12,734.45 L608.64,735.52 L609.15,736.32 L609.66,737.50 L610.17,740.03 L610.69,741.32 L611.20,742.26 L611.71,743.65 L612.23,745.22 L612.74,746.70 L613.25,746.87 L613.76,748.30 L614.27,751.07 L614.79,752.16 L615.30,751.95 L615.81,752.63 L616.33,751.65 L616.84,751.59 L617.35,752.80 L617.86,753.02 L618.38,755.74 L618.89,756.59 L619.40,755.66 L619.91,756.49 L620.42,756.08 L620.94,756.21 L621.45,755.84 L621.96,752.59 L622.48,749.11 L622.99,748.94 L623.50,749.43 L624.01,749.73 L624.52,750.73 L625.04,751.41 L625.55,754.47 L626.06,755.14 L626.57,756.40 L627.09,756.26 L627.60,754.86 L628.11,754.40 L628.62,753.25 L629.14,753.70 L629.65,752.73 L630.16,753.55 L630.67,754.79 L631.19,755.67 L631.70,759.04 L632.21,759.70 L632.72,758.82 L633.24,758.99 L633.75,757.78 L634.26,757.55 L634.77,764.39 L635.29,763.98 L635.80,760.51 L636.31,759.98 L636.83,759.40 L637.34,758.68 L637.85,755.95 L638.36,755.59 L638.88,755.69 L639.39,755.61 L639.90,755.51 L640.41,755.55 L640.92,757.83 L641.44,757.76 L641.95,752.93 L642.46,753.16 L642.97,754.34 L643.49,754.39 L644.00,758.39 L644.51,757.96 L645.02,754.95 L645.54,755.01 L646.05,756.36 L646.56,756.58 L647.07,753.89 L647.59,754.26 L648.10,756.87 L648.61,757.12 L649.12,757.24 L649.64,757.36 L650.15,756.90 L650.66,756.90 L651.17,757.13 L651.69,757.00 L652.20,756.65 L652.71,756.39 L653.22,754.35 L653.74,753.96 L654.25,754.93 L654.76,754.42 L655.27,753.19 L655.79,752.56 L656.30,751.55 L656.81,750.79 L657.33,752.23 L657.84,751.35 L658.35,747.57 L658.86,746.58 L659.38,746.61 L659.89,745.49 L660.40,744.04 L660.91,742.81 L661.42,743.47 L661.94,742.12 L662.45,738.92 L662.96,737.46 L663.48,736.39 L663.99,734.83 L664.50,734.24 L665.01,732.58 L665.52,727.86 L666.04,726.11 L666.55,726.15 L667.06,724.32 L667.58,723.31 L668.09,721.40 L668.60,718.99 L669.11,717.80 L669.62,716.17 L670.14,715.92 L670.65,714.89 L671.16,714.75 L671.67,718.32 L672.19,720.05 L672.70,718.01 L673.21,719.54 L673.72,719.70 L674.24,721.11 L674.75,737.46 L675.26,737.93 L675.77,733.88 L676.29,733.84 L676.80,736.11 L677.31,735.53 L677.83,728.84 L678.34,727.92 L678.85,719.23 L679.36,718.17 L679.88,721.63 L680.39,720.64 L680.90,729.45 L681.41,728.73 L681.92,723.93 L682.44,723.63 L682.95,715.95 L683.46,716.01 L683.97,725.18 L684.49,725.67 L685.00,723.94 L685.51,724.95 L686.02,724.76 L686.54,726.72 L687.05,739.59 L687.56,739.25 L688.07,726.29 L688.59,726.80 L689.10,728.89 L689.61,729.02 L690.12,728.46 L690.64,728.69 L691.15,732.08 L691.66,731.74 L692.17,731.21 L692.69,731.35 L693.20,731.26 L693.71,731.27 L694.22,730.26 L694.74,729.99 L695.25,729.71 L695.76,729.12 L696.27,728.50 L696.79,727.96 L697.30,725.68 L697.81,725.21 L698.33,725.32 L698.84,724.96 L699.35,726.83 L699.86,726.61 L700.38,726.39 L700.89,726.32 L701.40,723.78 L701.91,723.83 L702.42,726.12 L702.94,726.30 L703.45,724.73 L703.96,725.04 L704.48,725.19 L704.99,725.65 L705.50,728.47 L706.01,729.08 L706.52,729.46 L707.04,730.22 L707.55,730.67 L708.06,731.61 L708.57,733.66 L709.09,734.79 L709.60,736.12 L710.11,737.39 L710.62,738.08 L711.14,739.43 L711.65,739.44 L712.16,740.79 L712.67,743.51 L713.19,744.82 L713.70,745.83 L714.21,747.08 L714.72,748.60 L715.24,749.84 L715.75,752.05 L716.26,753.31 L716.77,751.55 L717.29,752.78 L717.80,757.97 L718.31,758.93 L718.82,757.95 L719.34,758.66 L719.85,757.94 L720.36,757.85 L720.88,759.07 L721.39,758.03 L721.90,755.29 L722.41,755.24 L722.92,754.69 L723.44,754.99 L723.95,757.65 L724.46,758.13 L724.97,757.49 L725.49,757.99 L726.00,759.83 L726.51,760.17 L727.02,758.63 L727.54,758.67 L728.05,759.05 L728.56,758.87 L729.08,758.48 L729.59,758.17 L730.10,756.59 L730.61,756.23 L731.12,756.46 L731.64,755.58 L732.15,752.42 L732.66,751.18 L733.17,752.71 L733.69,752.64 L734.20,759.26 L734.71,759.40 L735.22,754.33 L735.74,754.40 L736.25,753.45 L736.76,753.17 L737.27,759.81 L737.79,759.74 L738.30,750.13 L738.81,750.77 L739.33,756.06 L739.84,756.93 L740.35,756.77 L740.86,757.64 L741.38,762.93 L741.89,763.56 L742.40,760.53 L742.91,760.78 L743.42,760.04 L743.94,759.84 L744.45,761.51 L744.96,759.63 L745.47,755.10 L745.99,752.38 L746.50,758.86 L747.01,758.94 L747.52,749.21 L748.04,750.14 L748.55,756.78 L749.06,757.04 L749.57,759.19 L750.09,759.08 L750.60,757.31 L751.11,757.38 L751.62,757.49 L752.14,757.66 L752.65,756.30 L753.16,756.33 L753.67,757.86 L754.19,757.76 L754.70,756.31 L755.21,756.08 L755.72,757.11 L756.24,756.74 L756.75,752.91 L757.26,752.41 L757.77,753.62 L758.29,752.99 L758.80,750.78 L759.31,750.02 L759.82,752.37 L760.34,751.48 L760.85,748.74 L761.36,747.73 L761.88,748.40 L762.39,747.27 L762.90,744.45 L763.41,743.21 L763.92,741.82 L764.44,740.48 L764.95,741.53 L765.46,740.12 L765.97,738.18 L766.49,736.69 L767.00,735.21 L767.51,733.66 L768.02,732.45 L768.54,730.86 L769.05,728.42 L769.56,727.54 L770.08,727.81 L770.59,728.17 L771.10,731.39 L771.61,732.47 L772.12,721.94 L772.64,721.32 L773.15,718.01 L773.66,717.90 L774.17,730.80 L774.69,732.77 L775.20,729.83 L775.71,730.64 L776.22,726.72 L776.74,726.07 L777.25,726.72 L777.76,725.72 L778.27,727.72 L778.79,726.81 L779.30,716.30" stroke="#0072bd" stroke-dasharray="12.7 3.4 6.4 3.4"/>
</g>
<path d="M471.80,818.60v-3.50M471.80,647.40v3.50M574.30,818.60v-3.50M574.30,647.40v3.50M676.80,818.60v-3.50M676.80,647.40v3.50M779.30,818.60v-3.50M779.30,647.40v3.50M471.80,804.33h3.50M779.30,804.33h-3.50M471.80,733.00h3.50M779.30,733.00h-3.50M471.80,661.67h3.50M779.30,661.67h-3.50" stroke="#4a4a4a" stroke-width="1.3" fill="none"/>
<rect x="471.80" y="647.40" width="307.50" height="171.20" fill="none" stroke="#4a4a4a" stroke-width="1.6"/>
<text x="464.20" y="811.83" font-size="18.5" text-anchor="end">-10</text>
<text x="464.20" y="740.50" font-size="18.5" text-anchor="end">0</text>
<text x="464.20" y="669.17" font-size="18.5" text-anchor="end">10</text>
<text x="471.80" y="845.20" font-size="18.5" text-anchor="middle">0</text>
<text x="574.30" y="845.20" font-size="18.5" text-anchor="middle">2</text>
<text x="676.80" y="845.20" font-size="18.5" text-anchor="middle">4</text>
<text x="779.30" y="845.20" font-size="18.5" text-anchor="middle">6</text>
<text x="625.55" y="873.10" font-size="21.3" text-anchor="middle">time / s</text>
<text transform="translate(427.30,733.00) rotate(-90)" font-size="21.3" text-anchor="middle">angle / °</text>
<rect x="231.80" y="127.70" width="141.20" height="76.30" fill="#fff" stroke="#333" stroke-width="1"/>
<line x1="238.1" y1="142.30" x2="303.1" y2="142.30" stroke="#ff0000" stroke-width="4.2"/>
<text x="307.8" y="149.00" font-size="17.6">desired</text>
<line x1="238.1" y1="166.10" x2="303.1" y2="166.10" stroke="#0000ff" stroke-width="4.2" stroke-dasharray="12.7 13.2"/>
<text x="307.8" y="172.80" font-size="17.6">real</text>
<line x1="238.1" y1="189.80" x2="303.1" y2="189.80" stroke="#0072bd" stroke-width="4.2" stroke-dasharray="12.7 3.4 6.4 3.4"/>
<text x="307.8" y="196.50" font-size="17.6">error</text>
<text x="6.2" y="22.4" font-size="22.6" font-weight="bold" fill="#000" style="fill:#000">A</text>
<text x="6.5" y="309.0" font-size="22.6" font-weight="bold" fill="#000" style="fill:#000">B</text>
<text x="7.2" y="608.3" font-size="22.6" font-weight="bold" fill="#000" style="fill:#000">C</text>
</svg></body></html>
